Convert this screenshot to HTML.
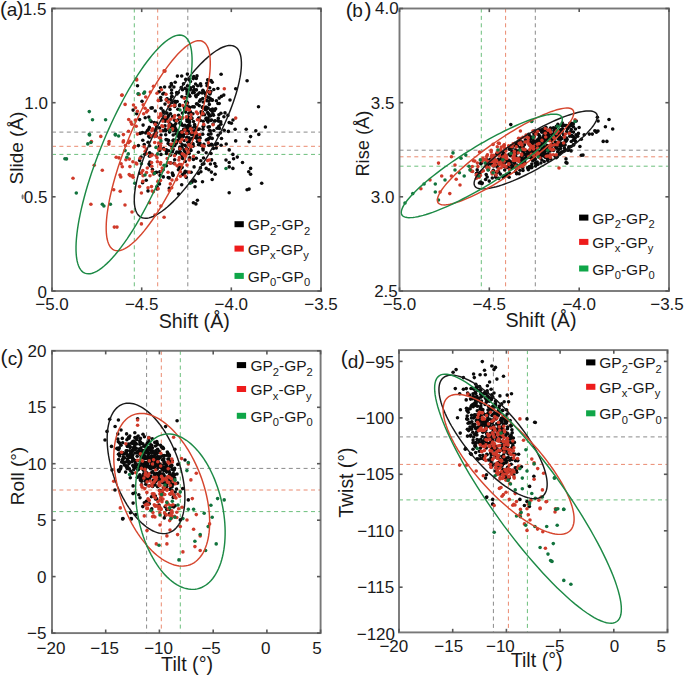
<!DOCTYPE html><html><head><meta charset="utf-8"><style>html,body{margin:0;padding:0;background:#fff;overflow:hidden}svg{display:block;font-family:"Liberation Sans",sans-serif}</style></head><body><svg width="685" height="676" viewBox="0 0 685 676" font-family="Liberation Sans, sans-serif">
<rect width="685" height="676" fill="#fff"/>
<clipPath id="cpa"><rect x="52" y="8.5" width="269" height="282.5"/></clipPath>
<g clip-path="url(#cpa)">
<line x1="134.3" y1="8.5" x2="134.3" y2="291" stroke="#6cbf7c" stroke-width="1" stroke-dasharray="4 3.4"/>
<line x1="157.7" y1="8.5" x2="157.7" y2="291" stroke="#ea8a70" stroke-width="1" stroke-dasharray="4 3.4"/>
<line x1="187.8" y1="8.5" x2="187.8" y2="291" stroke="#8a8a8a" stroke-width="1" stroke-dasharray="4 3.4"/>
<line x1="52" y1="132.1" x2="321" y2="132.1" stroke="#8a8a8a" stroke-width="1" stroke-dasharray="4 3.4"/>
<line x1="52" y1="146.3" x2="321" y2="146.3" stroke="#ea8a70" stroke-width="1" stroke-dasharray="4 3.4"/>
<line x1="52" y1="154.4" x2="321" y2="154.4" stroke="#6cbf7c" stroke-width="1" stroke-dasharray="4 3.4"/>
<g fill="#0a0a0a"><circle cx="218.0" cy="135.2" r="1.78"/><circle cx="161.0" cy="154.4" r="1.78"/><circle cx="186.8" cy="104.9" r="1.78"/><circle cx="181.1" cy="137.9" r="1.78"/><circle cx="143.1" cy="125.1" r="1.78"/><circle cx="163.2" cy="169.7" r="1.78"/><circle cx="177.7" cy="140.6" r="1.78"/><circle cx="207.6" cy="112.5" r="1.78"/><circle cx="173.9" cy="144.6" r="1.78"/><circle cx="208.0" cy="122.1" r="1.78"/><circle cx="177.4" cy="76.1" r="1.78"/><circle cx="172.1" cy="125.9" r="1.78"/><circle cx="176.7" cy="92.5" r="1.78"/><circle cx="172.0" cy="146.6" r="1.78"/><circle cx="212.3" cy="99.9" r="1.78"/><circle cx="173.8" cy="140.1" r="1.78"/><circle cx="203.0" cy="148.4" r="1.78"/><circle cx="179.7" cy="104.9" r="1.78"/><circle cx="190.9" cy="133.8" r="1.78"/><circle cx="148.1" cy="142.3" r="1.78"/><circle cx="187.0" cy="89.9" r="1.78"/><circle cx="168.5" cy="129.4" r="1.78"/><circle cx="184.3" cy="173.4" r="1.78"/><circle cx="189.1" cy="144.5" r="1.78"/><circle cx="149.6" cy="137.2" r="1.78"/><circle cx="193.2" cy="146.1" r="1.78"/><circle cx="211.6" cy="120.0" r="1.78"/><circle cx="199.2" cy="105.6" r="1.78"/><circle cx="169.0" cy="122.0" r="1.78"/><circle cx="179.7" cy="138.3" r="1.78"/><circle cx="173.4" cy="130.5" r="1.78"/><circle cx="185.2" cy="161.4" r="1.78"/><circle cx="207.4" cy="120.8" r="1.78"/><circle cx="182.2" cy="134.1" r="1.78"/><circle cx="138.4" cy="145.6" r="1.78"/><circle cx="171.6" cy="96.7" r="1.78"/><circle cx="217.4" cy="143.6" r="1.78"/><circle cx="215.6" cy="108.7" r="1.78"/><circle cx="173.1" cy="175.5" r="1.78"/><circle cx="210.6" cy="98.9" r="1.78"/><circle cx="188.3" cy="117.4" r="1.78"/><circle cx="212.2" cy="100.2" r="1.78"/><circle cx="184.9" cy="129.0" r="1.78"/><circle cx="170.7" cy="99.5" r="1.78"/><circle cx="223.9" cy="116.7" r="1.78"/><circle cx="167.1" cy="98.9" r="1.78"/><circle cx="179.5" cy="168.7" r="1.78"/><circle cx="157.0" cy="188.9" r="1.78"/><circle cx="171.6" cy="90.1" r="1.78"/><circle cx="193.4" cy="86.7" r="1.78"/><circle cx="165.6" cy="130.7" r="1.78"/><circle cx="189.8" cy="107.6" r="1.78"/><circle cx="210.1" cy="137.5" r="1.78"/><circle cx="209.6" cy="130.2" r="1.78"/><circle cx="205.6" cy="109.8" r="1.78"/><circle cx="166.8" cy="139.7" r="1.78"/><circle cx="192.6" cy="144.4" r="1.78"/><circle cx="185.2" cy="171.2" r="1.78"/><circle cx="172.4" cy="151.8" r="1.78"/><circle cx="189.7" cy="89.8" r="1.78"/><circle cx="178.3" cy="92.5" r="1.78"/><circle cx="199.6" cy="101.3" r="1.78"/><circle cx="181.1" cy="124.6" r="1.78"/><circle cx="209.3" cy="138.5" r="1.78"/><circle cx="169.5" cy="132.1" r="1.78"/><circle cx="214.8" cy="163.5" r="1.78"/><circle cx="194.3" cy="137.2" r="1.78"/><circle cx="193.0" cy="143.7" r="1.78"/><circle cx="191.9" cy="128.3" r="1.78"/><circle cx="207.3" cy="97.1" r="1.78"/><circle cx="212.1" cy="111.3" r="1.78"/><circle cx="184.0" cy="149.7" r="1.78"/><circle cx="188.4" cy="131.2" r="1.78"/><circle cx="196.5" cy="103.8" r="1.78"/><circle cx="208.1" cy="108.0" r="1.78"/><circle cx="203.1" cy="126.5" r="1.78"/><circle cx="190.7" cy="87.7" r="1.78"/><circle cx="184.4" cy="107.8" r="1.78"/><circle cx="175.8" cy="123.5" r="1.78"/><circle cx="193.8" cy="76.6" r="1.78"/><circle cx="170.4" cy="162.9" r="1.78"/><circle cx="212.2" cy="82.3" r="1.78"/><circle cx="154.3" cy="122.6" r="1.78"/><circle cx="206.3" cy="140.0" r="1.78"/><circle cx="189.1" cy="137.8" r="1.78"/><circle cx="178.9" cy="152.4" r="1.78"/><circle cx="183.8" cy="129.6" r="1.78"/><circle cx="162.8" cy="130.7" r="1.78"/><circle cx="168.5" cy="140.4" r="1.78"/><circle cx="217.9" cy="88.5" r="1.78"/><circle cx="181.7" cy="184.8" r="1.78"/><circle cx="214.5" cy="110.5" r="1.78"/><circle cx="197.4" cy="104.0" r="1.78"/><circle cx="168.6" cy="115.5" r="1.78"/><circle cx="175.2" cy="82.2" r="1.78"/><circle cx="210.4" cy="164.0" r="1.78"/><circle cx="213.8" cy="130.5" r="1.78"/><circle cx="159.2" cy="91.7" r="1.78"/><circle cx="198.1" cy="129.5" r="1.78"/><circle cx="205.3" cy="109.2" r="1.78"/><circle cx="165.3" cy="129.6" r="1.78"/><circle cx="188.7" cy="109.5" r="1.78"/><circle cx="208.8" cy="169.8" r="1.78"/><circle cx="212.8" cy="113.7" r="1.78"/><circle cx="189.8" cy="157.9" r="1.78"/><circle cx="166.4" cy="149.9" r="1.78"/><circle cx="166.1" cy="139.6" r="1.78"/><circle cx="206.2" cy="152.7" r="1.78"/><circle cx="174.7" cy="126.1" r="1.78"/><circle cx="141.1" cy="157.0" r="1.78"/><circle cx="183.0" cy="136.1" r="1.78"/><circle cx="163.2" cy="119.2" r="1.78"/><circle cx="173.2" cy="135.0" r="1.78"/><circle cx="199.9" cy="135.1" r="1.78"/><circle cx="190.0" cy="125.8" r="1.78"/><circle cx="179.8" cy="133.0" r="1.78"/><circle cx="174.7" cy="159.7" r="1.78"/><circle cx="197.5" cy="135.1" r="1.78"/><circle cx="196.3" cy="78.4" r="1.78"/><circle cx="172.3" cy="173.0" r="1.78"/><circle cx="203.5" cy="114.4" r="1.78"/><circle cx="205.7" cy="107.3" r="1.78"/><circle cx="208.8" cy="101.3" r="1.78"/><circle cx="169.9" cy="87.0" r="1.78"/><circle cx="188.6" cy="108.9" r="1.78"/><circle cx="167.0" cy="113.1" r="1.78"/><circle cx="201.1" cy="111.9" r="1.78"/><circle cx="183.4" cy="134.5" r="1.78"/><circle cx="150.2" cy="165.7" r="1.78"/><circle cx="187.5" cy="85.9" r="1.78"/><circle cx="191.7" cy="118.4" r="1.78"/><circle cx="180.0" cy="148.7" r="1.78"/><circle cx="209.1" cy="97.7" r="1.78"/><circle cx="219.2" cy="98.1" r="1.78"/><circle cx="193.4" cy="159.4" r="1.78"/><circle cx="188.0" cy="125.6" r="1.78"/><circle cx="211.5" cy="144.4" r="1.78"/><circle cx="176.0" cy="133.7" r="1.78"/><circle cx="173.9" cy="163.3" r="1.78"/><circle cx="177.9" cy="109.3" r="1.78"/><circle cx="189.3" cy="95.1" r="1.78"/><circle cx="178.1" cy="136.1" r="1.78"/><circle cx="182.6" cy="158.4" r="1.78"/><circle cx="206.4" cy="118.0" r="1.78"/><circle cx="144.8" cy="154.2" r="1.78"/><circle cx="210.3" cy="130.9" r="1.78"/><circle cx="198.5" cy="118.2" r="1.78"/><circle cx="206.5" cy="109.2" r="1.78"/><circle cx="181.8" cy="133.7" r="1.78"/><circle cx="186.3" cy="130.1" r="1.78"/><circle cx="188.8" cy="149.8" r="1.78"/><circle cx="189.9" cy="96.2" r="1.78"/><circle cx="160.1" cy="175.4" r="1.78"/><circle cx="182.7" cy="156.2" r="1.78"/><circle cx="187.1" cy="94.0" r="1.78"/><circle cx="195.0" cy="126.5" r="1.78"/><circle cx="156.7" cy="126.8" r="1.78"/><circle cx="200.4" cy="99.8" r="1.78"/><circle cx="173.9" cy="128.6" r="1.78"/><circle cx="175.0" cy="128.9" r="1.78"/><circle cx="216.3" cy="148.0" r="1.78"/><circle cx="194.4" cy="136.0" r="1.78"/><circle cx="170.9" cy="124.3" r="1.78"/><circle cx="178.6" cy="135.4" r="1.78"/><circle cx="205.2" cy="93.3" r="1.78"/><circle cx="210.6" cy="120.4" r="1.78"/><circle cx="182.4" cy="113.1" r="1.78"/><circle cx="186.3" cy="177.4" r="1.78"/><circle cx="182.1" cy="167.4" r="1.78"/><circle cx="185.7" cy="112.1" r="1.78"/><circle cx="215.3" cy="120.8" r="1.78"/><circle cx="161.1" cy="108.3" r="1.78"/><circle cx="165.0" cy="104.1" r="1.78"/><circle cx="165.6" cy="112.9" r="1.78"/><circle cx="160.9" cy="100.3" r="1.78"/><circle cx="194.2" cy="92.6" r="1.78"/><circle cx="166.8" cy="99.2" r="1.78"/><circle cx="179.3" cy="167.2" r="1.78"/><circle cx="199.5" cy="92.8" r="1.78"/><circle cx="142.4" cy="132.6" r="1.78"/><circle cx="202.4" cy="107.4" r="1.78"/><circle cx="200.4" cy="167.9" r="1.78"/><circle cx="185.4" cy="97.5" r="1.78"/><circle cx="177.2" cy="130.8" r="1.78"/><circle cx="218.4" cy="121.1" r="1.78"/><circle cx="168.2" cy="177.5" r="1.78"/><circle cx="206.5" cy="119.7" r="1.78"/><circle cx="182.4" cy="144.8" r="1.78"/><circle cx="211.6" cy="159.9" r="1.78"/><circle cx="217.9" cy="103.5" r="1.78"/><circle cx="149.4" cy="127.4" r="1.78"/><circle cx="202.4" cy="164.3" r="1.78"/><circle cx="186.8" cy="126.7" r="1.78"/><circle cx="148.4" cy="129.6" r="1.78"/><circle cx="211.0" cy="133.9" r="1.78"/><circle cx="174.8" cy="106.5" r="1.78"/><circle cx="163.6" cy="118.2" r="1.78"/><circle cx="159.5" cy="146.4" r="1.78"/><circle cx="174.3" cy="125.4" r="1.78"/><circle cx="220.8" cy="121.9" r="1.78"/><circle cx="180.6" cy="122.9" r="1.78"/><circle cx="173.0" cy="140.4" r="1.78"/><circle cx="167.7" cy="117.2" r="1.78"/><circle cx="193.3" cy="78.6" r="1.78"/><circle cx="191.7" cy="134.5" r="1.78"/><circle cx="219.2" cy="103.5" r="1.78"/><circle cx="181.9" cy="147.2" r="1.78"/><circle cx="168.6" cy="150.7" r="1.78"/><circle cx="203.2" cy="121.2" r="1.78"/><circle cx="208.1" cy="127.1" r="1.78"/><circle cx="202.2" cy="93.0" r="1.78"/><circle cx="191.1" cy="172.3" r="1.78"/><circle cx="147.3" cy="130.9" r="1.78"/><circle cx="196.4" cy="89.9" r="1.78"/><circle cx="188.4" cy="125.7" r="1.78"/><circle cx="165.0" cy="125.9" r="1.78"/><circle cx="190.4" cy="81.5" r="1.78"/><circle cx="190.1" cy="139.7" r="1.78"/><circle cx="203.1" cy="149.9" r="1.78"/><circle cx="163.1" cy="110.8" r="1.78"/><circle cx="220.9" cy="113.3" r="1.78"/><circle cx="194.1" cy="166.9" r="1.78"/><circle cx="187.1" cy="119.2" r="1.78"/><circle cx="166.2" cy="151.1" r="1.78"/><circle cx="212.1" cy="144.7" r="1.78"/><circle cx="186.4" cy="101.8" r="1.78"/><circle cx="203.8" cy="125.9" r="1.78"/><circle cx="186.8" cy="137.2" r="1.78"/><circle cx="151.2" cy="121.5" r="1.78"/><circle cx="209.9" cy="93.9" r="1.78"/><circle cx="181.7" cy="76.0" r="1.78"/><circle cx="175.1" cy="103.6" r="1.78"/><circle cx="221.1" cy="145.2" r="1.78"/><circle cx="219.4" cy="128.4" r="1.78"/><circle cx="165.2" cy="117.8" r="1.78"/><circle cx="177.2" cy="101.5" r="1.78"/><circle cx="156.3" cy="132.9" r="1.78"/><circle cx="180.6" cy="168.8" r="1.78"/><circle cx="149.9" cy="162.1" r="1.78"/><circle cx="140.0" cy="133.3" r="1.78"/><circle cx="155.2" cy="111.0" r="1.78"/><circle cx="148.8" cy="117.1" r="1.78"/><circle cx="179.9" cy="148.0" r="1.78"/><circle cx="209.6" cy="115.9" r="1.78"/><circle cx="139.7" cy="160.4" r="1.78"/><circle cx="189.1" cy="141.8" r="1.78"/><circle cx="139.9" cy="173.3" r="1.78"/><circle cx="163.3" cy="176.9" r="1.78"/><circle cx="224.2" cy="130.3" r="1.78"/><circle cx="194.4" cy="130.7" r="1.78"/><circle cx="191.1" cy="182.5" r="1.78"/><circle cx="149.3" cy="134.4" r="1.78"/><circle cx="210.8" cy="91.5" r="1.78"/><circle cx="206.8" cy="83.3" r="1.78"/><circle cx="207.1" cy="85.7" r="1.78"/><circle cx="218.8" cy="126.4" r="1.78"/><circle cx="205.9" cy="118.7" r="1.78"/><circle cx="174.8" cy="130.5" r="1.78"/><circle cx="180.6" cy="123.9" r="1.78"/><circle cx="182.0" cy="134.1" r="1.78"/><circle cx="202.7" cy="98.5" r="1.78"/><circle cx="206.4" cy="107.3" r="1.78"/><circle cx="208.9" cy="145.2" r="1.78"/><circle cx="163.5" cy="112.5" r="1.78"/><circle cx="142.8" cy="140.3" r="1.78"/><circle cx="200.9" cy="171.8" r="1.78"/><circle cx="183.5" cy="83.8" r="1.78"/><circle cx="156.1" cy="136.0" r="1.78"/><circle cx="153.9" cy="135.5" r="1.78"/><circle cx="180.0" cy="147.1" r="1.78"/><circle cx="181.9" cy="96.7" r="1.78"/><circle cx="151.0" cy="108.1" r="1.78"/><circle cx="189.0" cy="107.0" r="1.78"/><circle cx="155.9" cy="129.0" r="1.78"/><circle cx="156.5" cy="172.3" r="1.78"/><circle cx="159.8" cy="171.9" r="1.78"/><circle cx="207.6" cy="91.3" r="1.78"/><circle cx="197.8" cy="94.4" r="1.78"/><circle cx="172.9" cy="174.5" r="1.78"/><circle cx="196.3" cy="128.3" r="1.78"/><circle cx="209.4" cy="126.8" r="1.78"/><circle cx="169.7" cy="144.7" r="1.78"/><circle cx="181.1" cy="131.7" r="1.78"/><circle cx="157.0" cy="186.5" r="1.78"/><circle cx="197.7" cy="85.7" r="1.78"/><circle cx="183.9" cy="129.3" r="1.78"/><circle cx="194.3" cy="89.6" r="1.78"/><circle cx="225.0" cy="112.9" r="1.78"/><circle cx="193.2" cy="90.7" r="1.78"/><circle cx="146.2" cy="180.3" r="1.78"/><circle cx="192.1" cy="181.9" r="1.78"/><circle cx="166.9" cy="100.4" r="1.78"/><circle cx="197.4" cy="141.6" r="1.78"/><circle cx="176.8" cy="152.1" r="1.78"/><circle cx="198.5" cy="173.4" r="1.78"/><circle cx="178.0" cy="119.8" r="1.78"/><circle cx="140.2" cy="133.4" r="1.78"/><circle cx="187.8" cy="121.3" r="1.78"/><circle cx="185.0" cy="109.0" r="1.78"/><circle cx="200.9" cy="85.7" r="1.78"/><circle cx="188.1" cy="93.0" r="1.78"/><circle cx="186.7" cy="148.0" r="1.78"/><circle cx="185.1" cy="88.4" r="1.78"/><circle cx="218.9" cy="114.8" r="1.78"/><circle cx="194.4" cy="126.5" r="1.78"/><circle cx="192.6" cy="106.7" r="1.78"/><circle cx="152.3" cy="107.9" r="1.78"/><circle cx="149.0" cy="164.1" r="1.78"/><circle cx="227.9" cy="115.4" r="1.78"/><circle cx="189.0" cy="127.6" r="1.78"/><circle cx="171.5" cy="85.0" r="1.78"/><circle cx="212.2" cy="138.4" r="1.78"/><circle cx="197.0" cy="75.9" r="1.78"/><circle cx="183.3" cy="136.4" r="1.78"/><circle cx="165.7" cy="134.7" r="1.78"/><circle cx="149.5" cy="145.8" r="1.78"/><circle cx="166.5" cy="153.4" r="1.78"/><circle cx="205.3" cy="93.5" r="1.78"/><circle cx="144.2" cy="144.6" r="1.78"/><circle cx="171.6" cy="93.3" r="1.78"/><circle cx="173.1" cy="149.4" r="1.78"/><circle cx="139.6" cy="119.6" r="1.78"/><circle cx="161.2" cy="115.1" r="1.78"/><circle cx="209.2" cy="114.6" r="1.78"/><circle cx="185.1" cy="145.4" r="1.78"/><circle cx="221.4" cy="96.4" r="1.78"/><circle cx="217.1" cy="128.3" r="1.78"/><circle cx="180.2" cy="133.2" r="1.78"/><circle cx="186.7" cy="153.8" r="1.78"/><circle cx="174.1" cy="129.6" r="1.78"/><circle cx="194.6" cy="124.5" r="1.78"/><circle cx="181.2" cy="87.6" r="1.78"/><circle cx="208.5" cy="134.5" r="1.78"/><circle cx="190.5" cy="146.1" r="1.78"/><circle cx="207.9" cy="139.2" r="1.78"/><circle cx="159.5" cy="183.9" r="1.78"/><circle cx="207.9" cy="139.4" r="1.78"/><circle cx="169.2" cy="177.9" r="1.78"/><circle cx="187.5" cy="132.7" r="1.78"/><circle cx="162.8" cy="94.0" r="1.78"/><circle cx="160.7" cy="97.5" r="1.78"/><circle cx="209.7" cy="87.7" r="1.78"/><circle cx="211.0" cy="153.5" r="1.78"/><circle cx="180.8" cy="152.6" r="1.78"/><circle cx="189.5" cy="122.4" r="1.78"/><circle cx="159.7" cy="150.5" r="1.78"/><circle cx="181.3" cy="136.3" r="1.78"/><circle cx="182.8" cy="125.5" r="1.78"/><circle cx="142.6" cy="182.8" r="1.78"/><circle cx="193.1" cy="131.5" r="1.78"/><circle cx="190.4" cy="144.8" r="1.78"/><circle cx="203.9" cy="144.4" r="1.78"/><circle cx="220.3" cy="133.0" r="1.78"/><circle cx="187.9" cy="142.3" r="1.78"/><circle cx="149.5" cy="156.2" r="1.78"/><circle cx="220.9" cy="124.3" r="1.78"/><circle cx="184.8" cy="151.6" r="1.78"/><circle cx="202.9" cy="106.7" r="1.78"/><circle cx="200.4" cy="120.5" r="1.78"/><circle cx="165.2" cy="121.3" r="1.78"/><circle cx="149.6" cy="152.7" r="1.78"/><circle cx="145.7" cy="132.9" r="1.78"/><circle cx="169.6" cy="124.2" r="1.78"/><circle cx="178.6" cy="115.3" r="1.78"/><circle cx="203.0" cy="129.3" r="1.78"/><circle cx="202.9" cy="90.2" r="1.78"/><circle cx="187.1" cy="91.8" r="1.78"/><circle cx="196.3" cy="158.2" r="1.78"/><circle cx="161.0" cy="135.0" r="1.78"/><circle cx="186.9" cy="121.1" r="1.78"/><circle cx="181.1" cy="118.5" r="1.78"/><circle cx="182.6" cy="174.5" r="1.78"/><circle cx="200.8" cy="160.8" r="1.78"/><circle cx="155.0" cy="130.8" r="1.78"/><circle cx="218.3" cy="118.4" r="1.78"/><circle cx="205.9" cy="96.1" r="1.78"/><circle cx="213.4" cy="148.4" r="1.78"/><circle cx="187.3" cy="172.0" r="1.78"/><circle cx="213.1" cy="124.0" r="1.78"/><circle cx="179.8" cy="136.0" r="1.78"/><circle cx="178.4" cy="169.7" r="1.78"/><circle cx="208.0" cy="118.4" r="1.78"/><circle cx="189.3" cy="79.8" r="1.78"/><circle cx="199.2" cy="118.1" r="1.78"/><circle cx="170.6" cy="155.1" r="1.78"/><circle cx="156.7" cy="123.0" r="1.78"/><circle cx="180.6" cy="122.5" r="1.78"/><circle cx="187.0" cy="138.5" r="1.78"/><circle cx="223.8" cy="95.1" r="1.78"/><circle cx="192.6" cy="138.3" r="1.78"/><circle cx="196.2" cy="96.7" r="1.78"/><circle cx="209.3" cy="104.4" r="1.78"/><circle cx="171.8" cy="102.4" r="1.78"/><circle cx="209.9" cy="93.2" r="1.78"/><circle cx="189.3" cy="121.8" r="1.78"/><circle cx="148.0" cy="190.9" r="1.78"/><circle cx="170.5" cy="113.7" r="1.78"/><circle cx="208.4" cy="113.9" r="1.78"/><circle cx="179.2" cy="136.8" r="1.78"/><circle cx="186.3" cy="133.4" r="1.78"/><circle cx="159.0" cy="100.2" r="1.78"/><circle cx="179.9" cy="149.6" r="1.78"/><circle cx="176.5" cy="143.1" r="1.78"/><circle cx="166.4" cy="165.7" r="1.78"/><circle cx="163.6" cy="148.5" r="1.78"/><circle cx="195.0" cy="186.7" r="1.78"/><circle cx="177.0" cy="93.9" r="1.78"/><circle cx="207.7" cy="79.8" r="1.78"/><circle cx="192.0" cy="144.1" r="1.78"/><circle cx="193.5" cy="121.5" r="1.78"/><circle cx="188.5" cy="117.1" r="1.78"/><circle cx="184.3" cy="140.5" r="1.78"/><circle cx="174.6" cy="120.2" r="1.78"/><circle cx="182.8" cy="131.6" r="1.78"/><circle cx="214.6" cy="121.0" r="1.78"/><circle cx="192.9" cy="113.8" r="1.78"/><circle cx="188.1" cy="126.7" r="1.78"/><circle cx="164.6" cy="87.0" r="1.78"/><circle cx="210.6" cy="115.7" r="1.78"/><circle cx="196.6" cy="138.2" r="1.78"/><circle cx="203.5" cy="158.0" r="1.78"/><circle cx="213.8" cy="89.5" r="1.78"/><circle cx="187.5" cy="102.7" r="1.78"/><circle cx="215.6" cy="144.4" r="1.78"/><circle cx="190.3" cy="89.6" r="1.78"/><circle cx="190.2" cy="149.1" r="1.78"/><circle cx="178.5" cy="194.0" r="1.78"/><circle cx="181.6" cy="124.0" r="1.78"/><circle cx="184.9" cy="125.2" r="1.78"/><circle cx="190.5" cy="111.9" r="1.78"/><circle cx="198.4" cy="152.2" r="1.78"/><circle cx="182.5" cy="89.7" r="1.78"/><circle cx="201.6" cy="113.4" r="1.78"/><circle cx="194.2" cy="106.9" r="1.78"/><circle cx="181.3" cy="154.2" r="1.78"/><circle cx="200.5" cy="83.7" r="1.78"/><circle cx="206.8" cy="100.6" r="1.78"/><circle cx="208.5" cy="80.3" r="1.78"/><circle cx="180.7" cy="142.7" r="1.78"/><circle cx="195.6" cy="84.0" r="1.78"/><circle cx="199.3" cy="129.0" r="1.78"/><circle cx="174.8" cy="145.6" r="1.78"/><circle cx="194.8" cy="133.9" r="1.78"/><circle cx="166.5" cy="119.2" r="1.78"/><circle cx="202.5" cy="112.3" r="1.78"/><circle cx="175.5" cy="154.1" r="1.78"/><circle cx="211.2" cy="144.8" r="1.78"/><circle cx="193.9" cy="180.1" r="1.78"/><circle cx="148.8" cy="136.2" r="1.78"/><circle cx="189.2" cy="153.6" r="1.78"/><circle cx="212.5" cy="109.0" r="1.78"/><circle cx="175.7" cy="128.7" r="1.78"/><circle cx="189.0" cy="113.3" r="1.78"/><circle cx="179.8" cy="123.1" r="1.78"/><circle cx="145.2" cy="117.8" r="1.78"/><circle cx="163.9" cy="93.4" r="1.78"/><circle cx="210.4" cy="109.7" r="1.78"/><circle cx="189.5" cy="119.6" r="1.78"/><circle cx="221.5" cy="138.5" r="1.78"/><circle cx="172.6" cy="116.5" r="1.78"/><circle cx="202.7" cy="134.2" r="1.78"/><circle cx="211.0" cy="80.5" r="1.78"/><circle cx="160.6" cy="87.7" r="1.78"/><circle cx="179.6" cy="105.7" r="1.78"/><circle cx="151.9" cy="154.3" r="1.78"/><circle cx="152.4" cy="169.5" r="1.78"/><circle cx="169.3" cy="188.4" r="1.78"/><circle cx="199.9" cy="143.0" r="1.78"/><circle cx="203.9" cy="163.7" r="1.78"/><circle cx="155.5" cy="172.5" r="1.78"/><circle cx="213.5" cy="115.3" r="1.78"/><circle cx="187.8" cy="133.4" r="1.78"/><circle cx="185.5" cy="102.0" r="1.78"/><circle cx="204.5" cy="114.8" r="1.78"/><circle cx="195.7" cy="95.6" r="1.78"/><circle cx="187.4" cy="74.1" r="1.78"/><circle cx="174.8" cy="101.2" r="1.78"/><circle cx="192.5" cy="92.8" r="1.78"/><circle cx="202.4" cy="114.6" r="1.78"/><circle cx="195.3" cy="136.3" r="1.78"/><circle cx="170.8" cy="126.5" r="1.78"/><circle cx="168.1" cy="143.5" r="1.78"/><circle cx="199.7" cy="138.3" r="1.78"/><circle cx="172.1" cy="96.5" r="1.78"/><circle cx="159.6" cy="127.9" r="1.78"/><circle cx="185.7" cy="79.4" r="1.78"/><circle cx="174.3" cy="145.2" r="1.78"/><circle cx="203.2" cy="102.0" r="1.78"/><circle cx="200.7" cy="145.3" r="1.78"/><circle cx="170.0" cy="109.4" r="1.78"/><circle cx="191.0" cy="150.4" r="1.78"/><circle cx="187.3" cy="128.2" r="1.78"/><circle cx="198.5" cy="144.8" r="1.78"/><circle cx="180.4" cy="135.9" r="1.78"/><circle cx="191.8" cy="118.0" r="1.78"/><circle cx="195.3" cy="181.2" r="1.78"/><circle cx="200.0" cy="137.9" r="1.78"/><circle cx="216.4" cy="100.8" r="1.78"/><circle cx="203.3" cy="91.2" r="1.78"/><circle cx="184.9" cy="110.6" r="1.78"/><circle cx="229.2" cy="122.6" r="1.78"/><circle cx="231.4" cy="123.3" r="1.78"/><circle cx="235.1" cy="129.2" r="1.78"/><circle cx="228.4" cy="131.4" r="1.78"/><circle cx="226.2" cy="144.0" r="1.78"/><circle cx="229.2" cy="149.9" r="1.78"/><circle cx="232.9" cy="154.4" r="1.78"/><circle cx="233.6" cy="158.8" r="1.78"/><circle cx="229.2" cy="162.5" r="1.78"/><circle cx="232.9" cy="168.4" r="1.78"/><circle cx="242.5" cy="162.5" r="1.78"/><circle cx="250.6" cy="168.4" r="1.78"/><circle cx="250.6" cy="174.3" r="1.78"/><circle cx="246.2" cy="129.2" r="1.78"/><circle cx="255.8" cy="130.7" r="1.78"/><circle cx="258.8" cy="134.4" r="1.78"/><circle cx="250.6" cy="136.6" r="1.78"/><circle cx="249.1" cy="141.8" r="1.78"/><circle cx="265.4" cy="127.0" r="1.78"/><circle cx="261.7" cy="183.2" r="1.78"/><circle cx="249.1" cy="189.1" r="1.78"/><circle cx="229.2" cy="192.8" r="1.78"/><circle cx="211.4" cy="172.1" r="1.78"/><circle cx="215.1" cy="174.3" r="1.78"/><circle cx="206.2" cy="168.4" r="1.78"/><circle cx="202.5" cy="181.7" r="1.78"/><circle cx="197.4" cy="200.2" r="1.78"/><circle cx="195.9" cy="203.9" r="1.78"/><circle cx="215.9" cy="166.2" r="1.78"/><circle cx="212.2" cy="179.5" r="1.78"/><circle cx="247.1" cy="80.7" r="1.78"/><circle cx="235.7" cy="88.8" r="1.78"/><circle cx="221.1" cy="74.2" r="1.78"/><circle cx="258.5" cy="106.7" r="1.78"/><circle cx="235.7" cy="140.9" r="1.78"/><circle cx="237.3" cy="157.1" r="1.78"/><circle cx="229.2" cy="166.9" r="1.78"/><circle cx="248.7" cy="171.8" r="1.78"/><circle cx="247.1" cy="189.7" r="1.78"/><circle cx="193.4" cy="202.7" r="1.78"/><circle cx="137.5" cy="85.8" r="1.78"/><circle cx="138.4" cy="94.1" r="1.78"/><circle cx="142.0" cy="101.2" r="1.78"/><circle cx="171.3" cy="83.5" r="1.78"/><circle cx="173.9" cy="87.0" r="1.78"/><circle cx="133.1" cy="110.1" r="1.78"/><circle cx="136.7" cy="113.7" r="1.78"/><circle cx="230.0" cy="100.0" r="1.78"/><circle cx="233.0" cy="120.0" r="1.78"/><circle cx="226.0" cy="160.0" r="1.78"/></g>
<g fill="#d03a2a"><circle cx="179.8" cy="117.2" r="1.78"/><circle cx="164.1" cy="149.5" r="1.78"/><circle cx="152.7" cy="128.7" r="1.78"/><circle cx="180.4" cy="176.3" r="1.78"/><circle cx="199.4" cy="140.2" r="1.78"/><circle cx="189.5" cy="110.0" r="1.78"/><circle cx="158.2" cy="100.6" r="1.78"/><circle cx="208.4" cy="142.7" r="1.78"/><circle cx="191.3" cy="129.2" r="1.78"/><circle cx="169.7" cy="154.5" r="1.78"/><circle cx="174.8" cy="163.9" r="1.78"/><circle cx="186.6" cy="103.6" r="1.78"/><circle cx="145.2" cy="151.2" r="1.78"/><circle cx="134.6" cy="146.4" r="1.78"/><circle cx="136.0" cy="163.1" r="1.78"/><circle cx="188.8" cy="144.8" r="1.78"/><circle cx="133.1" cy="177.2" r="1.78"/><circle cx="199.6" cy="134.5" r="1.78"/><circle cx="153.4" cy="191.8" r="1.78"/><circle cx="168.8" cy="126.0" r="1.78"/><circle cx="162.8" cy="126.6" r="1.78"/><circle cx="151.9" cy="130.4" r="1.78"/><circle cx="154.7" cy="136.6" r="1.78"/><circle cx="171.9" cy="148.5" r="1.78"/><circle cx="145.7" cy="97.0" r="1.78"/><circle cx="157.8" cy="181.5" r="1.78"/><circle cx="158.8" cy="117.4" r="1.78"/><circle cx="160.4" cy="164.1" r="1.78"/><circle cx="152.3" cy="171.4" r="1.78"/><circle cx="186.6" cy="133.2" r="1.78"/><circle cx="137.4" cy="134.1" r="1.78"/><circle cx="174.6" cy="105.3" r="1.78"/><circle cx="122.3" cy="166.7" r="1.78"/><circle cx="207.6" cy="160.6" r="1.78"/><circle cx="133.8" cy="147.6" r="1.78"/><circle cx="152.2" cy="191.0" r="1.78"/><circle cx="155.2" cy="124.4" r="1.78"/><circle cx="162.8" cy="121.1" r="1.78"/><circle cx="204.0" cy="146.2" r="1.78"/><circle cx="160.5" cy="180.4" r="1.78"/><circle cx="171.1" cy="144.3" r="1.78"/><circle cx="160.5" cy="138.4" r="1.78"/><circle cx="197.6" cy="113.6" r="1.78"/><circle cx="158.7" cy="143.0" r="1.78"/><circle cx="168.0" cy="121.4" r="1.78"/><circle cx="213.1" cy="124.8" r="1.78"/><circle cx="170.6" cy="105.7" r="1.78"/><circle cx="184.0" cy="154.9" r="1.78"/><circle cx="157.4" cy="161.8" r="1.78"/><circle cx="203.7" cy="124.4" r="1.78"/><circle cx="125.4" cy="145.6" r="1.78"/><circle cx="196.0" cy="132.5" r="1.78"/><circle cx="143.1" cy="175.7" r="1.78"/><circle cx="144.2" cy="146.8" r="1.78"/><circle cx="160.9" cy="115.5" r="1.78"/><circle cx="186.4" cy="139.8" r="1.78"/><circle cx="162.2" cy="168.0" r="1.78"/><circle cx="182.7" cy="117.9" r="1.78"/><circle cx="196.4" cy="112.0" r="1.78"/><circle cx="168.6" cy="128.7" r="1.78"/><circle cx="185.2" cy="176.1" r="1.78"/><circle cx="161.9" cy="125.8" r="1.78"/><circle cx="151.5" cy="186.6" r="1.78"/><circle cx="170.8" cy="163.1" r="1.78"/><circle cx="174.8" cy="115.6" r="1.78"/><circle cx="142.8" cy="181.4" r="1.78"/><circle cx="175.7" cy="141.5" r="1.78"/><circle cx="182.4" cy="117.8" r="1.78"/><circle cx="123.2" cy="141.9" r="1.78"/><circle cx="169.3" cy="190.4" r="1.78"/><circle cx="146.5" cy="172.6" r="1.78"/><circle cx="157.0" cy="157.8" r="1.78"/><circle cx="150.0" cy="175.7" r="1.78"/><circle cx="119.0" cy="157.9" r="1.78"/><circle cx="186.3" cy="149.1" r="1.78"/><circle cx="174.0" cy="105.8" r="1.78"/><circle cx="168.9" cy="106.3" r="1.78"/><circle cx="137.4" cy="111.2" r="1.78"/><circle cx="191.7" cy="146.6" r="1.78"/><circle cx="184.2" cy="98.3" r="1.78"/><circle cx="151.6" cy="162.5" r="1.78"/><circle cx="169.3" cy="124.7" r="1.78"/><circle cx="184.7" cy="156.0" r="1.78"/><circle cx="182.3" cy="153.7" r="1.78"/><circle cx="130.4" cy="175.7" r="1.78"/><circle cx="167.2" cy="158.5" r="1.78"/><circle cx="158.5" cy="149.1" r="1.78"/><circle cx="209.3" cy="160.0" r="1.78"/><circle cx="181.2" cy="164.6" r="1.78"/><circle cx="135.4" cy="120.1" r="1.78"/><circle cx="176.6" cy="120.8" r="1.78"/><circle cx="152.1" cy="155.1" r="1.78"/><circle cx="135.5" cy="107.7" r="1.78"/><circle cx="148.5" cy="133.4" r="1.78"/><circle cx="180.5" cy="171.8" r="1.78"/><circle cx="184.8" cy="130.0" r="1.78"/><circle cx="178.8" cy="160.0" r="1.78"/><circle cx="172.0" cy="180.0" r="1.78"/><circle cx="172.2" cy="129.8" r="1.78"/><circle cx="189.1" cy="172.1" r="1.78"/><circle cx="182.9" cy="105.5" r="1.78"/><circle cx="125.9" cy="159.7" r="1.78"/><circle cx="177.1" cy="165.8" r="1.78"/><circle cx="160.6" cy="148.6" r="1.78"/><circle cx="161.6" cy="171.2" r="1.78"/><circle cx="143.7" cy="113.7" r="1.78"/><circle cx="129.2" cy="174.6" r="1.78"/><circle cx="189.1" cy="144.8" r="1.78"/><circle cx="193.5" cy="156.4" r="1.78"/><circle cx="203.0" cy="113.8" r="1.78"/><circle cx="185.9" cy="109.1" r="1.78"/><circle cx="143.2" cy="104.7" r="1.78"/><circle cx="120.8" cy="177.0" r="1.78"/><circle cx="173.2" cy="144.1" r="1.78"/><circle cx="182.1" cy="132.3" r="1.78"/><circle cx="151.8" cy="166.2" r="1.78"/><circle cx="132.6" cy="175.6" r="1.78"/><circle cx="188.3" cy="109.5" r="1.78"/><circle cx="191.0" cy="114.8" r="1.78"/><circle cx="155.4" cy="136.0" r="1.78"/><circle cx="168.0" cy="172.2" r="1.78"/><circle cx="174.5" cy="155.8" r="1.78"/><circle cx="146.6" cy="112.0" r="1.78"/><circle cx="179.4" cy="157.5" r="1.78"/><circle cx="195.3" cy="133.2" r="1.78"/><circle cx="186.8" cy="108.4" r="1.78"/><circle cx="190.7" cy="118.0" r="1.78"/><circle cx="189.3" cy="160.0" r="1.78"/><circle cx="146.5" cy="153.8" r="1.78"/><circle cx="129.9" cy="166.6" r="1.78"/><circle cx="146.4" cy="149.1" r="1.78"/><circle cx="130.9" cy="122.1" r="1.78"/><circle cx="123.4" cy="134.6" r="1.78"/><circle cx="167.7" cy="162.6" r="1.78"/><circle cx="168.5" cy="102.3" r="1.78"/><circle cx="141.5" cy="172.7" r="1.78"/><circle cx="147.7" cy="110.5" r="1.78"/><circle cx="165.2" cy="117.0" r="1.78"/><circle cx="131.9" cy="124.3" r="1.78"/><circle cx="180.1" cy="148.8" r="1.78"/><circle cx="128.5" cy="142.7" r="1.78"/><circle cx="170.3" cy="183.9" r="1.78"/><circle cx="129.9" cy="141.2" r="1.78"/><circle cx="150.3" cy="92.1" r="1.78"/><circle cx="171.7" cy="187.8" r="1.78"/><circle cx="121.1" cy="163.8" r="1.78"/><circle cx="148.0" cy="187.7" r="1.78"/><circle cx="154.7" cy="142.5" r="1.78"/><circle cx="174.0" cy="117.8" r="1.78"/><circle cx="154.1" cy="134.3" r="1.78"/><circle cx="129.3" cy="159.1" r="1.78"/><circle cx="123.5" cy="140.9" r="1.78"/><circle cx="170.7" cy="119.3" r="1.78"/><circle cx="160.8" cy="143.2" r="1.78"/><circle cx="190.5" cy="128.9" r="1.78"/><circle cx="186.4" cy="116.9" r="1.78"/><circle cx="155.9" cy="133.1" r="1.78"/><circle cx="166.0" cy="94.2" r="1.78"/><circle cx="145.1" cy="108.2" r="1.78"/><circle cx="132.9" cy="161.8" r="1.78"/><circle cx="139.6" cy="186.6" r="1.78"/><circle cx="156.0" cy="155.5" r="1.78"/><circle cx="176.6" cy="179.6" r="1.78"/><circle cx="172.6" cy="128.7" r="1.78"/><circle cx="133.5" cy="105.0" r="1.78"/><circle cx="191.9" cy="132.5" r="1.78"/><circle cx="151.3" cy="135.7" r="1.78"/><circle cx="166.1" cy="99.8" r="1.78"/><circle cx="197.4" cy="119.8" r="1.78"/><circle cx="136.2" cy="126.3" r="1.78"/><circle cx="158.2" cy="188.8" r="1.78"/><circle cx="179.5" cy="164.3" r="1.78"/><circle cx="182.1" cy="139.3" r="1.78"/><circle cx="180.2" cy="141.7" r="1.78"/><circle cx="128.5" cy="131.3" r="1.78"/><circle cx="139.2" cy="94.5" r="1.78"/><circle cx="142.8" cy="170.5" r="1.78"/><circle cx="202.2" cy="145.6" r="1.78"/><circle cx="147.3" cy="168.0" r="1.78"/><circle cx="160.7" cy="131.0" r="1.78"/><circle cx="136.8" cy="163.9" r="1.78"/><circle cx="188.1" cy="152.3" r="1.78"/><circle cx="140.0" cy="158.2" r="1.78"/><circle cx="187.0" cy="165.1" r="1.78"/><circle cx="160.7" cy="162.5" r="1.78"/><circle cx="159.4" cy="137.7" r="1.78"/><circle cx="160.6" cy="113.9" r="1.78"/><circle cx="150.5" cy="156.1" r="1.78"/><circle cx="153.4" cy="174.1" r="1.78"/><circle cx="160.6" cy="146.1" r="1.78"/><circle cx="73.0" cy="178.3" r="1.78"/><circle cx="90.9" cy="204.3" r="1.78"/><circle cx="94.2" cy="165.3" r="1.78"/><circle cx="113.7" cy="189.7" r="1.78"/><circle cx="120.2" cy="191.3" r="1.78"/><circle cx="117.0" cy="227.1" r="1.78"/><circle cx="114.3" cy="227.1" r="1.78"/><circle cx="136.5" cy="79.0" r="1.78"/><circle cx="121.8" cy="95.3" r="1.78"/><circle cx="164.1" cy="70.9" r="1.78"/><circle cx="141.4" cy="193.0" r="1.78"/><circle cx="149.5" cy="202.7" r="1.78"/><circle cx="160.9" cy="206.0" r="1.78"/><circle cx="164.1" cy="217.3" r="1.78"/><circle cx="141.4" cy="223.9" r="1.78"/><circle cx="102.3" cy="170.2" r="1.78"/><circle cx="108.8" cy="144.1" r="1.78"/><circle cx="235.7" cy="118.1" r="1.78"/><circle cx="224.3" cy="88.8" r="1.78"/><circle cx="209.7" cy="92.1" r="1.78"/><circle cx="136.7" cy="80.0" r="1.78"/><circle cx="122.1" cy="95.0" r="1.78"/><circle cx="125.1" cy="104.4" r="1.78"/><circle cx="153.5" cy="86.2" r="1.78"/><circle cx="161.5" cy="89.7" r="1.78"/><circle cx="165.0" cy="71.1" r="1.78"/><circle cx="157.0" cy="93.3" r="1.78"/><circle cx="100.8" cy="136.4" r="1.78"/><circle cx="91.4" cy="141.5" r="1.78"/><circle cx="109.1" cy="141.5" r="1.78"/><circle cx="128.7" cy="119.5" r="1.78"/><circle cx="116.2" cy="157.2" r="1.78"/><circle cx="125.0" cy="205.0" r="1.78"/><circle cx="132.0" cy="212.0" r="1.78"/><circle cx="155.0" cy="215.0" r="1.78"/><circle cx="120.0" cy="175.0" r="1.78"/></g>
<g fill="#11733d"><circle cx="89.3" cy="111.6" r="1.78"/><circle cx="92.5" cy="119.7" r="1.78"/><circle cx="105.6" cy="119.7" r="1.78"/><circle cx="64.9" cy="158.8" r="1.78"/><circle cx="76.3" cy="193.0" r="1.78"/><circle cx="90.9" cy="142.5" r="1.78"/><circle cx="89.3" cy="134.4" r="1.78"/><circle cx="102.3" cy="204.3" r="1.78"/><circle cx="103.9" cy="206.0" r="1.78"/><circle cx="110.4" cy="204.3" r="1.78"/><circle cx="115.3" cy="134.4" r="1.78"/><circle cx="118.6" cy="136.0" r="1.78"/><circle cx="138.1" cy="93.7" r="1.78"/><circle cx="144.6" cy="92.1" r="1.78"/><circle cx="160.9" cy="140.9" r="1.78"/><circle cx="164.1" cy="165.3" r="1.78"/><circle cx="190.2" cy="183.2" r="1.78"/><circle cx="226.0" cy="168.5" r="1.78"/><circle cx="128.3" cy="153.9" r="1.78"/><circle cx="125.1" cy="150.6" r="1.78"/><circle cx="141.4" cy="163.7" r="1.78"/><circle cx="156.0" cy="147.4" r="1.78"/><circle cx="157.6" cy="153.9" r="1.78"/><circle cx="154.4" cy="173.4" r="1.78"/><circle cx="134.8" cy="183.2" r="1.78"/><circle cx="143.8" cy="93.3" r="1.78"/><circle cx="89.6" cy="135.0" r="1.78"/><circle cx="87.8" cy="143.9" r="1.78"/><circle cx="115.4" cy="135.0" r="1.78"/><circle cx="66.5" cy="158.9" r="1.78"/><circle cx="126.9" cy="157.2" r="1.78"/><circle cx="180.0" cy="110.0" r="1.78"/><circle cx="170.0" cy="130.0" r="1.78"/><circle cx="150.0" cy="120.0" r="1.78"/><circle cx="145.0" cy="175.0" r="1.78"/></g>
<path d="M234.92,46.65 L233.52,46.03 L231.99,45.64 L230.34,45.49 L228.57,45.58 L226.70,45.90 L224.71,46.46 L222.63,47.25 L220.45,48.27 L218.18,49.53 L215.82,51.01 L213.39,52.71 L210.90,54.62 L208.33,56.75 L205.71,59.09 L203.05,61.62 L200.34,64.35 L197.59,67.26 L194.82,70.35 L192.03,73.61 L189.23,77.03 L186.43,80.59 L183.63,84.30 L180.84,88.14 L178.07,92.10 L175.33,96.17 L172.62,100.33 L169.95,104.59 L167.33,108.91 L164.77,113.30 L162.27,117.74 L159.84,122.22 L157.49,126.73 L155.22,131.25 L153.04,135.77 L150.96,140.28 L148.98,144.77 L147.10,149.22 L145.34,153.62 L143.69,157.97 L142.16,162.24 L140.76,166.43 L139.49,170.53 L138.35,174.52 L137.35,178.39 L136.48,182.14 L135.76,185.75 L135.17,189.20 L134.74,192.51 L134.44,195.64 L134.30,198.61 L134.30,201.38 L134.45,203.97 L134.74,206.36 L135.18,208.55 L135.76,210.53 L136.49,212.29 L137.36,213.83 L138.37,215.14 L139.51,216.23 L140.78,217.09 L142.18,217.71 L143.71,218.10 L145.36,218.25 L147.13,218.16 L149.00,217.84 L150.99,217.28 L153.07,216.49 L155.25,215.47 L157.52,214.21 L159.88,212.73 L162.31,211.03 L164.80,209.12 L167.37,206.99 L169.99,204.65 L172.65,202.12 L175.36,199.39 L178.11,196.48 L180.88,193.39 L183.67,190.13 L186.47,186.71 L189.27,183.15 L192.07,179.44 L194.86,175.60 L197.63,171.64 L200.37,167.57 L203.08,163.41 L205.75,159.15 L208.37,154.83 L210.93,150.44 L213.43,146.00 L215.86,141.52 L218.21,137.01 L220.48,132.49 L222.66,127.97 L224.74,123.46 L226.72,118.97 L228.60,114.52 L230.36,110.12 L232.01,105.77 L233.54,101.50 L234.94,97.31 L236.21,93.21 L237.35,89.22 L238.35,85.35 L239.22,81.60 L239.94,77.99 L240.53,74.54 L240.96,71.23 L241.26,68.10 L241.40,65.13 L241.40,62.36 L241.25,59.77 L240.96,57.38 L240.52,55.19 L239.94,53.21 L239.21,51.45 L238.34,49.91 L237.33,48.60 L236.19,47.51Z" fill="none" stroke="#1a1a1a" stroke-width="1.45"/>
<path d="M202.31,41.27 L200.80,40.80 L199.18,40.62 L197.44,40.73 L195.59,41.12 L193.64,41.80 L191.60,42.77 L189.46,44.02 L187.24,45.55 L184.94,47.35 L182.56,49.42 L180.12,51.75 L177.62,54.34 L175.06,57.19 L172.46,60.27 L169.82,63.59 L167.15,67.14 L164.45,70.90 L161.74,74.86 L159.02,79.02 L156.29,83.36 L153.57,87.87 L150.86,92.55 L148.18,97.36 L145.52,102.31 L142.89,107.38 L140.31,112.55 L137.78,117.82 L135.30,123.16 L132.88,128.56 L130.54,134.01 L128.27,139.49 L126.08,144.99 L123.98,150.49 L121.98,155.98 L120.07,161.44 L118.27,166.85 L116.58,172.21 L115.00,177.50 L113.54,182.69 L112.21,187.79 L111.00,192.77 L109.91,197.62 L108.97,202.33 L108.15,206.89 L107.48,211.28 L106.94,215.48 L106.54,219.50 L106.29,223.31 L106.18,226.91 L106.21,230.29 L106.38,233.44 L106.69,236.34 L107.15,239.00 L107.75,241.40 L108.48,243.54 L109.35,245.42 L110.36,247.01 L111.49,248.33 L112.76,249.37 L114.15,250.13 L115.66,250.60 L117.28,250.78 L119.02,250.67 L120.87,250.28 L122.82,249.60 L124.86,248.63 L127.00,247.38 L129.22,245.85 L131.52,244.05 L133.90,241.98 L136.34,239.65 L138.84,237.06 L141.40,234.21 L144.00,231.13 L146.64,227.81 L149.31,224.26 L152.01,220.50 L154.72,216.54 L157.44,212.38 L160.17,208.04 L162.89,203.53 L165.60,198.85 L168.28,194.04 L170.94,189.09 L173.57,184.02 L176.15,178.85 L178.68,173.58 L181.16,168.24 L183.58,162.84 L185.92,157.39 L188.19,151.91 L190.38,146.41 L192.48,140.91 L194.48,135.42 L196.39,129.96 L198.19,124.55 L199.88,119.19 L201.46,113.90 L202.92,108.71 L204.25,103.61 L205.46,98.63 L206.55,93.78 L207.49,89.07 L208.31,84.51 L208.98,80.12 L209.52,75.92 L209.92,71.90 L210.17,68.09 L210.28,64.49 L210.25,61.11 L210.08,57.96 L209.77,55.06 L209.31,52.40 L208.71,50.00 L207.98,47.86 L207.11,45.98 L206.10,44.39 L204.97,43.07 L203.70,42.03Z" fill="none" stroke="#d6462e" stroke-width="1.45"/>
<path d="M183.28,35.71 L181.60,35.21 L179.79,35.03 L177.86,35.18 L175.81,35.66 L173.64,36.46 L171.37,37.58 L168.99,39.03 L166.52,40.79 L163.96,42.87 L161.31,45.24 L158.59,47.92 L155.81,50.89 L152.96,54.15 L150.07,57.68 L147.12,61.47 L144.15,65.52 L141.14,69.81 L138.12,74.34 L135.08,79.08 L132.04,84.03 L129.01,89.18 L125.99,94.50 L122.99,99.99 L120.03,105.62 L117.10,111.39 L114.22,117.28 L111.39,123.27 L108.62,129.34 L105.93,135.49 L103.31,141.68 L100.77,147.91 L98.33,154.16 L95.98,160.41 L93.74,166.65 L91.61,172.85 L89.60,178.99 L87.70,185.08 L85.94,191.07 L84.30,196.97 L82.81,202.75 L81.45,208.40 L80.24,213.90 L79.17,219.24 L78.26,224.40 L77.49,229.36 L76.89,234.13 L76.44,238.67 L76.14,242.98 L76.01,247.05 L76.03,250.87 L76.22,254.42 L76.56,257.70 L77.06,260.69 L77.72,263.40 L78.53,265.80 L79.49,267.90 L80.60,269.69 L81.86,271.17 L83.26,272.32 L84.80,273.15 L86.48,273.65 L88.29,273.83 L90.22,273.68 L92.27,273.20 L94.44,272.40 L96.71,271.28 L99.09,269.83 L101.56,268.07 L104.12,265.99 L106.77,263.62 L109.49,260.94 L112.27,257.97 L115.12,254.71 L118.01,251.18 L120.96,247.39 L123.93,243.34 L126.94,239.05 L129.96,234.52 L133.00,229.78 L136.04,224.83 L139.07,219.68 L142.09,214.36 L145.09,208.87 L148.05,203.24 L150.98,197.47 L153.86,191.58 L156.69,185.59 L159.46,179.52 L162.15,173.37 L164.77,167.18 L167.31,160.95 L169.75,154.70 L172.10,148.45 L174.34,142.21 L176.47,136.01 L178.48,129.87 L180.38,123.78 L182.14,117.79 L183.78,111.89 L185.27,106.11 L186.63,100.46 L187.84,94.96 L188.91,89.62 L189.82,84.46 L190.59,79.50 L191.19,74.73 L191.64,70.19 L191.94,65.88 L192.07,61.81 L192.05,57.99 L191.86,54.44 L191.52,51.16 L191.02,48.17 L190.36,45.46 L189.55,43.06 L188.59,40.96 L187.48,39.17 L186.22,37.69 L184.82,36.54Z" fill="none" stroke="#1d8a46" stroke-width="1.45"/>
</g>
<rect x="52" y="8.5" width="269.0" height="282.5" fill="none" stroke="#787878" stroke-width="1.9"/>
<clipPath id="cpb"><rect x="399.5" y="8.5" width="269.5" height="282.5"/></clipPath>
<g clip-path="url(#cpb)">
<line x1="481.3" y1="8.5" x2="481.3" y2="291" stroke="#6cbf7c" stroke-width="1" stroke-dasharray="4 3.4"/>
<line x1="505.6" y1="8.5" x2="505.6" y2="291" stroke="#ea8a70" stroke-width="1" stroke-dasharray="4 3.4"/>
<line x1="535.3" y1="8.5" x2="535.3" y2="291" stroke="#8a8a8a" stroke-width="1" stroke-dasharray="4 3.4"/>
<line x1="399.5" y1="150.2" x2="669" y2="150.2" stroke="#8a8a8a" stroke-width="1" stroke-dasharray="4 3.4"/>
<line x1="399.5" y1="156.8" x2="669" y2="156.8" stroke="#ea8a70" stroke-width="1" stroke-dasharray="4 3.4"/>
<line x1="399.5" y1="166.2" x2="669" y2="166.2" stroke="#6cbf7c" stroke-width="1" stroke-dasharray="4 3.4"/>
<g fill="#0a0a0a"><circle cx="537.3" cy="164.1" r="1.78"/><circle cx="503.3" cy="155.3" r="1.78"/><circle cx="575.3" cy="138.1" r="1.78"/><circle cx="495.8" cy="175.5" r="1.78"/><circle cx="548.4" cy="151.3" r="1.78"/><circle cx="554.0" cy="130.9" r="1.78"/><circle cx="538.3" cy="145.4" r="1.78"/><circle cx="510.3" cy="146.6" r="1.78"/><circle cx="548.0" cy="154.5" r="1.78"/><circle cx="543.6" cy="128.9" r="1.78"/><circle cx="550.1" cy="151.0" r="1.78"/><circle cx="529.6" cy="157.1" r="1.78"/><circle cx="535.7" cy="163.5" r="1.78"/><circle cx="541.3" cy="144.8" r="1.78"/><circle cx="480.8" cy="163.8" r="1.78"/><circle cx="546.9" cy="135.4" r="1.78"/><circle cx="535.3" cy="162.8" r="1.78"/><circle cx="506.8" cy="167.4" r="1.78"/><circle cx="550.9" cy="137.6" r="1.78"/><circle cx="536.9" cy="142.5" r="1.78"/><circle cx="541.5" cy="141.2" r="1.78"/><circle cx="526.0" cy="157.8" r="1.78"/><circle cx="545.3" cy="155.4" r="1.78"/><circle cx="559.3" cy="154.3" r="1.78"/><circle cx="525.0" cy="162.9" r="1.78"/><circle cx="535.2" cy="150.1" r="1.78"/><circle cx="530.7" cy="152.8" r="1.78"/><circle cx="528.8" cy="154.8" r="1.78"/><circle cx="518.8" cy="158.6" r="1.78"/><circle cx="511.8" cy="168.3" r="1.78"/><circle cx="521.3" cy="156.6" r="1.78"/><circle cx="514.4" cy="166.7" r="1.78"/><circle cx="545.9" cy="149.6" r="1.78"/><circle cx="506.4" cy="174.6" r="1.78"/><circle cx="536.8" cy="146.2" r="1.78"/><circle cx="522.8" cy="167.7" r="1.78"/><circle cx="519.9" cy="140.8" r="1.78"/><circle cx="565.3" cy="139.6" r="1.78"/><circle cx="544.2" cy="161.6" r="1.78"/><circle cx="548.8" cy="149.1" r="1.78"/><circle cx="541.7" cy="129.9" r="1.78"/><circle cx="563.0" cy="125.8" r="1.78"/><circle cx="530.2" cy="149.8" r="1.78"/><circle cx="539.7" cy="136.1" r="1.78"/><circle cx="539.1" cy="137.9" r="1.78"/><circle cx="509.6" cy="173.2" r="1.78"/><circle cx="533.9" cy="133.8" r="1.78"/><circle cx="538.0" cy="151.8" r="1.78"/><circle cx="523.2" cy="152.5" r="1.78"/><circle cx="516.7" cy="173.8" r="1.78"/><circle cx="516.9" cy="173.4" r="1.78"/><circle cx="498.1" cy="159.8" r="1.78"/><circle cx="512.2" cy="148.0" r="1.78"/><circle cx="560.4" cy="145.9" r="1.78"/><circle cx="556.4" cy="126.2" r="1.78"/><circle cx="548.4" cy="154.8" r="1.78"/><circle cx="546.7" cy="138.6" r="1.78"/><circle cx="537.9" cy="164.3" r="1.78"/><circle cx="536.4" cy="132.2" r="1.78"/><circle cx="530.5" cy="141.8" r="1.78"/><circle cx="519.1" cy="173.8" r="1.78"/><circle cx="491.7" cy="163.8" r="1.78"/><circle cx="541.5" cy="151.7" r="1.78"/><circle cx="523.8" cy="162.0" r="1.78"/><circle cx="571.2" cy="125.4" r="1.78"/><circle cx="496.7" cy="154.0" r="1.78"/><circle cx="564.3" cy="150.9" r="1.78"/><circle cx="485.6" cy="179.5" r="1.78"/><circle cx="523.0" cy="170.4" r="1.78"/><circle cx="517.3" cy="144.9" r="1.78"/><circle cx="564.7" cy="125.4" r="1.78"/><circle cx="549.8" cy="148.5" r="1.78"/><circle cx="528.7" cy="134.4" r="1.78"/><circle cx="503.0" cy="152.6" r="1.78"/><circle cx="561.2" cy="125.4" r="1.78"/><circle cx="557.2" cy="146.7" r="1.78"/><circle cx="560.5" cy="129.7" r="1.78"/><circle cx="507.3" cy="161.0" r="1.78"/><circle cx="555.4" cy="142.1" r="1.78"/><circle cx="527.9" cy="154.9" r="1.78"/><circle cx="560.6" cy="148.5" r="1.78"/><circle cx="540.0" cy="137.5" r="1.78"/><circle cx="566.0" cy="141.3" r="1.78"/><circle cx="571.3" cy="129.6" r="1.78"/><circle cx="504.6" cy="160.9" r="1.78"/><circle cx="500.3" cy="174.1" r="1.78"/><circle cx="495.8" cy="177.2" r="1.78"/><circle cx="551.7" cy="140.8" r="1.78"/><circle cx="547.2" cy="158.5" r="1.78"/><circle cx="550.8" cy="138.4" r="1.78"/><circle cx="509.1" cy="154.2" r="1.78"/><circle cx="520.9" cy="146.9" r="1.78"/><circle cx="540.9" cy="163.0" r="1.78"/><circle cx="565.1" cy="144.9" r="1.78"/><circle cx="546.8" cy="155.4" r="1.78"/><circle cx="558.9" cy="149.5" r="1.78"/><circle cx="517.0" cy="165.3" r="1.78"/><circle cx="535.1" cy="154.7" r="1.78"/><circle cx="530.8" cy="151.3" r="1.78"/><circle cx="517.5" cy="143.2" r="1.78"/><circle cx="560.8" cy="138.3" r="1.78"/><circle cx="561.9" cy="143.3" r="1.78"/><circle cx="534.5" cy="158.9" r="1.78"/><circle cx="544.6" cy="132.9" r="1.78"/><circle cx="553.4" cy="150.4" r="1.78"/><circle cx="549.4" cy="131.2" r="1.78"/><circle cx="545.5" cy="157.1" r="1.78"/><circle cx="515.1" cy="164.8" r="1.78"/><circle cx="517.5" cy="146.3" r="1.78"/><circle cx="486.2" cy="174.6" r="1.78"/><circle cx="513.4" cy="158.6" r="1.78"/><circle cx="505.1" cy="162.0" r="1.78"/><circle cx="569.8" cy="136.3" r="1.78"/><circle cx="503.6" cy="154.0" r="1.78"/><circle cx="510.5" cy="155.8" r="1.78"/><circle cx="536.8" cy="140.8" r="1.78"/><circle cx="561.7" cy="138.6" r="1.78"/><circle cx="502.5" cy="155.3" r="1.78"/><circle cx="523.2" cy="147.1" r="1.78"/><circle cx="561.5" cy="145.0" r="1.78"/><circle cx="515.6" cy="171.5" r="1.78"/><circle cx="537.9" cy="140.2" r="1.78"/><circle cx="565.5" cy="149.9" r="1.78"/><circle cx="573.4" cy="126.8" r="1.78"/><circle cx="505.3" cy="175.5" r="1.78"/><circle cx="547.9" cy="139.8" r="1.78"/><circle cx="547.8" cy="130.6" r="1.78"/><circle cx="505.3" cy="162.2" r="1.78"/><circle cx="542.3" cy="155.7" r="1.78"/><circle cx="548.2" cy="134.3" r="1.78"/><circle cx="509.1" cy="168.0" r="1.78"/><circle cx="568.9" cy="147.8" r="1.78"/><circle cx="546.7" cy="136.7" r="1.78"/><circle cx="493.3" cy="170.4" r="1.78"/><circle cx="562.4" cy="128.7" r="1.78"/><circle cx="501.4" cy="158.4" r="1.78"/><circle cx="555.1" cy="133.5" r="1.78"/><circle cx="521.7" cy="163.4" r="1.78"/><circle cx="566.7" cy="125.6" r="1.78"/><circle cx="516.4" cy="144.5" r="1.78"/><circle cx="551.2" cy="149.1" r="1.78"/><circle cx="520.2" cy="147.9" r="1.78"/><circle cx="573.3" cy="140.0" r="1.78"/><circle cx="558.7" cy="133.0" r="1.78"/><circle cx="510.1" cy="149.0" r="1.78"/><circle cx="531.5" cy="154.6" r="1.78"/><circle cx="537.6" cy="139.7" r="1.78"/><circle cx="573.5" cy="132.1" r="1.78"/><circle cx="549.2" cy="130.3" r="1.78"/><circle cx="492.3" cy="178.0" r="1.78"/><circle cx="560.4" cy="152.7" r="1.78"/><circle cx="546.3" cy="130.0" r="1.78"/><circle cx="552.1" cy="145.9" r="1.78"/><circle cx="541.9" cy="160.0" r="1.78"/><circle cx="525.1" cy="141.9" r="1.78"/><circle cx="477.2" cy="169.9" r="1.78"/><circle cx="550.7" cy="158.9" r="1.78"/><circle cx="551.9" cy="136.9" r="1.78"/><circle cx="515.5" cy="143.9" r="1.78"/><circle cx="521.5" cy="156.9" r="1.78"/><circle cx="513.9" cy="163.0" r="1.78"/><circle cx="553.4" cy="127.7" r="1.78"/><circle cx="539.5" cy="140.4" r="1.78"/><circle cx="539.7" cy="130.0" r="1.78"/><circle cx="526.3" cy="154.0" r="1.78"/><circle cx="542.6" cy="148.8" r="1.78"/><circle cx="544.0" cy="150.1" r="1.78"/><circle cx="542.9" cy="144.1" r="1.78"/><circle cx="552.0" cy="134.1" r="1.78"/><circle cx="544.2" cy="141.2" r="1.78"/><circle cx="566.8" cy="131.5" r="1.78"/><circle cx="524.6" cy="158.2" r="1.78"/><circle cx="507.7" cy="166.7" r="1.78"/><circle cx="524.1" cy="153.9" r="1.78"/><circle cx="511.0" cy="164.8" r="1.78"/><circle cx="567.4" cy="128.8" r="1.78"/><circle cx="489.2" cy="181.1" r="1.78"/><circle cx="546.7" cy="154.4" r="1.78"/><circle cx="523.6" cy="164.5" r="1.78"/><circle cx="568.8" cy="127.3" r="1.78"/><circle cx="568.9" cy="146.9" r="1.78"/><circle cx="552.5" cy="144.1" r="1.78"/><circle cx="528.3" cy="169.8" r="1.78"/><circle cx="515.0" cy="143.3" r="1.78"/><circle cx="514.9" cy="152.7" r="1.78"/><circle cx="558.9" cy="144.4" r="1.78"/><circle cx="571.7" cy="123.3" r="1.78"/><circle cx="498.6" cy="164.8" r="1.78"/><circle cx="555.8" cy="128.9" r="1.78"/><circle cx="545.3" cy="154.8" r="1.78"/><circle cx="547.7" cy="160.4" r="1.78"/><circle cx="496.6" cy="172.4" r="1.78"/><circle cx="538.5" cy="134.6" r="1.78"/><circle cx="545.5" cy="157.2" r="1.78"/><circle cx="499.6" cy="162.0" r="1.78"/><circle cx="556.2" cy="144.8" r="1.78"/><circle cx="523.1" cy="155.3" r="1.78"/><circle cx="531.8" cy="167.6" r="1.78"/><circle cx="535.2" cy="159.4" r="1.78"/><circle cx="537.2" cy="162.0" r="1.78"/><circle cx="513.9" cy="153.6" r="1.78"/><circle cx="544.0" cy="134.1" r="1.78"/><circle cx="551.6" cy="139.8" r="1.78"/><circle cx="533.0" cy="144.1" r="1.78"/><circle cx="482.3" cy="183.1" r="1.78"/><circle cx="533.4" cy="140.5" r="1.78"/><circle cx="528.9" cy="153.2" r="1.78"/><circle cx="526.9" cy="151.3" r="1.78"/><circle cx="544.1" cy="153.3" r="1.78"/><circle cx="573.7" cy="144.9" r="1.78"/><circle cx="513.5" cy="166.9" r="1.78"/><circle cx="521.7" cy="166.4" r="1.78"/><circle cx="523.6" cy="149.8" r="1.78"/><circle cx="520.0" cy="170.3" r="1.78"/><circle cx="510.9" cy="161.9" r="1.78"/><circle cx="509.1" cy="177.2" r="1.78"/><circle cx="537.3" cy="131.2" r="1.78"/><circle cx="531.4" cy="167.0" r="1.78"/><circle cx="511.4" cy="145.9" r="1.78"/><circle cx="479.4" cy="183.0" r="1.78"/><circle cx="504.7" cy="170.0" r="1.78"/><circle cx="547.0" cy="140.4" r="1.78"/><circle cx="515.8" cy="156.5" r="1.78"/><circle cx="538.6" cy="146.8" r="1.78"/><circle cx="503.3" cy="158.0" r="1.78"/><circle cx="515.9" cy="153.3" r="1.78"/><circle cx="547.4" cy="139.4" r="1.78"/><circle cx="541.6" cy="132.1" r="1.78"/><circle cx="549.0" cy="134.9" r="1.78"/><circle cx="503.7" cy="166.1" r="1.78"/><circle cx="544.9" cy="151.8" r="1.78"/><circle cx="531.8" cy="164.0" r="1.78"/><circle cx="477.3" cy="173.0" r="1.78"/><circle cx="557.9" cy="124.4" r="1.78"/><circle cx="521.9" cy="159.8" r="1.78"/><circle cx="488.4" cy="169.8" r="1.78"/><circle cx="498.7" cy="178.4" r="1.78"/><circle cx="515.4" cy="149.9" r="1.78"/><circle cx="561.3" cy="132.8" r="1.78"/><circle cx="503.8" cy="154.3" r="1.78"/><circle cx="542.9" cy="138.4" r="1.78"/><circle cx="554.9" cy="156.1" r="1.78"/><circle cx="559.1" cy="138.2" r="1.78"/><circle cx="560.6" cy="139.3" r="1.78"/><circle cx="576.0" cy="134.9" r="1.78"/><circle cx="480.6" cy="182.0" r="1.78"/><circle cx="556.7" cy="134.8" r="1.78"/><circle cx="503.2" cy="177.5" r="1.78"/><circle cx="573.9" cy="139.7" r="1.78"/><circle cx="556.1" cy="135.6" r="1.78"/><circle cx="525.4" cy="139.8" r="1.78"/><circle cx="492.9" cy="158.1" r="1.78"/><circle cx="521.0" cy="159.9" r="1.78"/><circle cx="563.6" cy="134.9" r="1.78"/><circle cx="486.9" cy="163.8" r="1.78"/><circle cx="520.7" cy="162.6" r="1.78"/><circle cx="535.5" cy="132.5" r="1.78"/><circle cx="512.1" cy="151.3" r="1.78"/><circle cx="489.9" cy="159.5" r="1.78"/><circle cx="506.3" cy="156.6" r="1.78"/><circle cx="503.2" cy="158.8" r="1.78"/><circle cx="555.9" cy="155.6" r="1.78"/><circle cx="498.2" cy="159.4" r="1.78"/><circle cx="555.7" cy="146.9" r="1.78"/><circle cx="556.6" cy="135.0" r="1.78"/><circle cx="524.4" cy="144.7" r="1.78"/><circle cx="537.0" cy="140.7" r="1.78"/><circle cx="517.1" cy="152.9" r="1.78"/><circle cx="497.1" cy="166.9" r="1.78"/><circle cx="539.5" cy="144.5" r="1.78"/><circle cx="522.3" cy="150.5" r="1.78"/><circle cx="511.4" cy="165.3" r="1.78"/><circle cx="551.0" cy="138.6" r="1.78"/><circle cx="546.4" cy="149.6" r="1.78"/><circle cx="541.7" cy="153.1" r="1.78"/><circle cx="543.6" cy="136.4" r="1.78"/><circle cx="556.5" cy="148.3" r="1.78"/><circle cx="573.3" cy="136.8" r="1.78"/><circle cx="573.4" cy="144.7" r="1.78"/><circle cx="564.4" cy="147.9" r="1.78"/><circle cx="549.4" cy="132.0" r="1.78"/><circle cx="498.7" cy="171.9" r="1.78"/><circle cx="534.9" cy="146.9" r="1.78"/><circle cx="547.3" cy="145.8" r="1.78"/><circle cx="561.2" cy="137.7" r="1.78"/><circle cx="502.6" cy="162.5" r="1.78"/><circle cx="532.6" cy="145.8" r="1.78"/><circle cx="548.9" cy="140.0" r="1.78"/><circle cx="498.2" cy="160.1" r="1.78"/><circle cx="481.7" cy="183.8" r="1.78"/><circle cx="530.2" cy="167.7" r="1.78"/><circle cx="548.7" cy="157.3" r="1.78"/><circle cx="503.3" cy="176.0" r="1.78"/><circle cx="531.3" cy="158.3" r="1.78"/><circle cx="544.6" cy="131.2" r="1.78"/><circle cx="531.9" cy="158.1" r="1.78"/><circle cx="544.9" cy="138.6" r="1.78"/><circle cx="509.8" cy="147.5" r="1.78"/><circle cx="508.1" cy="161.2" r="1.78"/><circle cx="529.5" cy="166.6" r="1.78"/><circle cx="486.5" cy="166.6" r="1.78"/><circle cx="503.4" cy="154.2" r="1.78"/><circle cx="558.7" cy="139.3" r="1.78"/><circle cx="499.2" cy="161.1" r="1.78"/><circle cx="490.5" cy="164.0" r="1.78"/><circle cx="559.0" cy="135.2" r="1.78"/><circle cx="540.2" cy="146.1" r="1.78"/><circle cx="529.3" cy="152.4" r="1.78"/><circle cx="534.3" cy="136.8" r="1.78"/><circle cx="562.8" cy="125.2" r="1.78"/><circle cx="509.0" cy="160.2" r="1.78"/><circle cx="571.3" cy="141.5" r="1.78"/><circle cx="531.9" cy="151.6" r="1.78"/><circle cx="539.0" cy="144.2" r="1.78"/><circle cx="566.5" cy="138.0" r="1.78"/><circle cx="549.0" cy="137.6" r="1.78"/><circle cx="547.5" cy="132.6" r="1.78"/><circle cx="544.7" cy="154.1" r="1.78"/><circle cx="509.4" cy="149.3" r="1.78"/><circle cx="555.7" cy="143.3" r="1.78"/><circle cx="572.2" cy="136.4" r="1.78"/><circle cx="476.7" cy="175.3" r="1.78"/><circle cx="552.2" cy="149.4" r="1.78"/><circle cx="562.7" cy="145.2" r="1.78"/><circle cx="487.7" cy="165.0" r="1.78"/><circle cx="505.0" cy="166.5" r="1.78"/><circle cx="536.4" cy="145.8" r="1.78"/><circle cx="487.2" cy="177.0" r="1.78"/><circle cx="518.5" cy="142.3" r="1.78"/><circle cx="534.5" cy="141.8" r="1.78"/><circle cx="533.1" cy="151.7" r="1.78"/><circle cx="565.7" cy="138.5" r="1.78"/><circle cx="514.5" cy="162.3" r="1.78"/><circle cx="529.2" cy="135.6" r="1.78"/><circle cx="540.8" cy="146.9" r="1.78"/><circle cx="547.2" cy="145.5" r="1.78"/><circle cx="529.4" cy="145.0" r="1.78"/><circle cx="493.9" cy="155.8" r="1.78"/><circle cx="514.5" cy="145.7" r="1.78"/><circle cx="559.2" cy="135.8" r="1.78"/><circle cx="530.8" cy="138.7" r="1.78"/><circle cx="556.2" cy="157.7" r="1.78"/><circle cx="517.8" cy="142.0" r="1.78"/><circle cx="565.2" cy="141.2" r="1.78"/><circle cx="503.6" cy="153.3" r="1.78"/><circle cx="567.6" cy="150.1" r="1.78"/><circle cx="557.7" cy="151.8" r="1.78"/><circle cx="527.3" cy="157.8" r="1.78"/><circle cx="492.1" cy="161.5" r="1.78"/><circle cx="481.2" cy="163.0" r="1.78"/><circle cx="542.7" cy="138.4" r="1.78"/><circle cx="550.2" cy="133.4" r="1.78"/><circle cx="530.1" cy="137.6" r="1.78"/><circle cx="531.7" cy="166.5" r="1.78"/><circle cx="539.6" cy="141.2" r="1.78"/><circle cx="554.5" cy="133.5" r="1.78"/><circle cx="500.5" cy="160.6" r="1.78"/><circle cx="559.5" cy="132.8" r="1.78"/><circle cx="540.2" cy="155.5" r="1.78"/><circle cx="562.0" cy="151.8" r="1.78"/><circle cx="540.3" cy="157.9" r="1.78"/><circle cx="495.7" cy="163.5" r="1.78"/><circle cx="568.6" cy="150.1" r="1.78"/><circle cx="550.5" cy="128.0" r="1.78"/><circle cx="540.7" cy="150.9" r="1.78"/><circle cx="544.8" cy="156.5" r="1.78"/><circle cx="533.6" cy="147.3" r="1.78"/><circle cx="505.4" cy="149.0" r="1.78"/><circle cx="544.1" cy="146.8" r="1.78"/><circle cx="530.1" cy="151.1" r="1.78"/><circle cx="557.0" cy="134.3" r="1.78"/><circle cx="532.4" cy="151.0" r="1.78"/><circle cx="554.8" cy="138.7" r="1.78"/><circle cx="501.3" cy="160.7" r="1.78"/><circle cx="534.5" cy="158.6" r="1.78"/><circle cx="526.4" cy="155.4" r="1.78"/><circle cx="522.5" cy="159.6" r="1.78"/><circle cx="516.0" cy="168.1" r="1.78"/><circle cx="493.8" cy="165.9" r="1.78"/><circle cx="524.9" cy="159.9" r="1.78"/><circle cx="524.7" cy="150.1" r="1.78"/><circle cx="532.7" cy="160.8" r="1.78"/><circle cx="545.7" cy="138.6" r="1.78"/><circle cx="538.9" cy="156.9" r="1.78"/><circle cx="532.0" cy="137.0" r="1.78"/><circle cx="562.3" cy="131.6" r="1.78"/><circle cx="547.1" cy="156.3" r="1.78"/><circle cx="486.7" cy="159.8" r="1.78"/><circle cx="518.1" cy="150.9" r="1.78"/><circle cx="546.7" cy="147.1" r="1.78"/><circle cx="554.2" cy="129.9" r="1.78"/><circle cx="543.0" cy="149.6" r="1.78"/><circle cx="536.0" cy="142.4" r="1.78"/><circle cx="533.1" cy="157.2" r="1.78"/><circle cx="530.8" cy="146.3" r="1.78"/><circle cx="502.0" cy="160.3" r="1.78"/><circle cx="557.3" cy="156.7" r="1.78"/><circle cx="527.6" cy="167.9" r="1.78"/><circle cx="545.9" cy="127.3" r="1.78"/><circle cx="534.3" cy="131.1" r="1.78"/><circle cx="572.0" cy="135.6" r="1.78"/><circle cx="535.6" cy="166.0" r="1.78"/><circle cx="476.4" cy="173.6" r="1.78"/><circle cx="569.3" cy="133.5" r="1.78"/><circle cx="524.7" cy="163.2" r="1.78"/><circle cx="536.3" cy="145.7" r="1.78"/><circle cx="480.0" cy="172.6" r="1.78"/><circle cx="548.0" cy="154.2" r="1.78"/><circle cx="516.9" cy="165.2" r="1.78"/><circle cx="567.1" cy="139.6" r="1.78"/><circle cx="532.8" cy="157.0" r="1.78"/><circle cx="544.9" cy="143.0" r="1.78"/><circle cx="514.4" cy="161.5" r="1.78"/><circle cx="531.7" cy="142.5" r="1.78"/><circle cx="550.2" cy="130.0" r="1.78"/><circle cx="569.9" cy="123.4" r="1.78"/><circle cx="559.3" cy="142.3" r="1.78"/><circle cx="568.1" cy="126.0" r="1.78"/><circle cx="522.0" cy="142.1" r="1.78"/><circle cx="529.8" cy="141.0" r="1.78"/><circle cx="573.3" cy="123.9" r="1.78"/><circle cx="576.2" cy="121.0" r="1.78"/><circle cx="575.5" cy="129.0" r="1.78"/><circle cx="579.1" cy="127.5" r="1.78"/><circle cx="578.4" cy="133.4" r="1.78"/><circle cx="577.7" cy="136.3" r="1.78"/><circle cx="581.3" cy="139.2" r="1.78"/><circle cx="579.9" cy="146.5" r="1.78"/><circle cx="575.5" cy="141.4" r="1.78"/><circle cx="570.4" cy="131.9" r="1.78"/><circle cx="571.1" cy="146.5" r="1.78"/><circle cx="571.1" cy="150.9" r="1.78"/><circle cx="581.3" cy="155.3" r="1.78"/><circle cx="566.0" cy="158.9" r="1.78"/><circle cx="566.0" cy="162.6" r="1.78"/><circle cx="562.3" cy="123.1" r="1.78"/><circle cx="597.4" cy="117.3" r="1.78"/><circle cx="598.1" cy="121.0" r="1.78"/><circle cx="609.0" cy="119.5" r="1.78"/><circle cx="605.4" cy="126.8" r="1.78"/><circle cx="612.7" cy="129.0" r="1.78"/><circle cx="595.9" cy="131.2" r="1.78"/><circle cx="592.3" cy="134.1" r="1.78"/><circle cx="589.3" cy="134.1" r="1.78"/><circle cx="603.2" cy="141.4" r="1.78"/><circle cx="606.9" cy="141.4" r="1.78"/><circle cx="584.2" cy="134.8" r="1.78"/><circle cx="531.7" cy="121.0" r="1.78"/><circle cx="510.8" cy="124.6" r="1.78"/><circle cx="583.0" cy="155.1" r="1.78"/><circle cx="567.0" cy="163.1" r="1.78"/><circle cx="594.8" cy="130.7" r="1.78"/><circle cx="598.0" cy="131.0" r="1.78"/><circle cx="596.4" cy="132.3" r="1.78"/></g>
<g fill="#d03a2a"><circle cx="558.3" cy="142.3" r="1.78"/><circle cx="504.9" cy="148.2" r="1.78"/><circle cx="522.7" cy="166.3" r="1.78"/><circle cx="549.8" cy="149.0" r="1.78"/><circle cx="509.5" cy="169.8" r="1.78"/><circle cx="472.3" cy="166.5" r="1.78"/><circle cx="488.0" cy="168.9" r="1.78"/><circle cx="513.3" cy="160.4" r="1.78"/><circle cx="528.0" cy="140.7" r="1.78"/><circle cx="522.4" cy="149.0" r="1.78"/><circle cx="499.3" cy="162.9" r="1.78"/><circle cx="519.4" cy="166.4" r="1.78"/><circle cx="488.1" cy="167.5" r="1.78"/><circle cx="486.6" cy="156.6" r="1.78"/><circle cx="484.9" cy="159.7" r="1.78"/><circle cx="556.8" cy="130.7" r="1.78"/><circle cx="546.3" cy="156.3" r="1.78"/><circle cx="516.8" cy="158.9" r="1.78"/><circle cx="514.1" cy="159.0" r="1.78"/><circle cx="533.4" cy="146.4" r="1.78"/><circle cx="521.6" cy="154.0" r="1.78"/><circle cx="522.0" cy="145.1" r="1.78"/><circle cx="503.3" cy="158.1" r="1.78"/><circle cx="477.0" cy="174.5" r="1.78"/><circle cx="503.4" cy="157.1" r="1.78"/><circle cx="508.7" cy="145.9" r="1.78"/><circle cx="501.1" cy="167.8" r="1.78"/><circle cx="530.5" cy="145.6" r="1.78"/><circle cx="479.5" cy="152.1" r="1.78"/><circle cx="516.9" cy="160.2" r="1.78"/><circle cx="516.4" cy="166.8" r="1.78"/><circle cx="545.7" cy="137.0" r="1.78"/><circle cx="528.2" cy="143.5" r="1.78"/><circle cx="492.8" cy="161.5" r="1.78"/><circle cx="495.0" cy="161.3" r="1.78"/><circle cx="471.6" cy="171.2" r="1.78"/><circle cx="537.6" cy="131.2" r="1.78"/><circle cx="491.2" cy="152.0" r="1.78"/><circle cx="496.4" cy="161.3" r="1.78"/><circle cx="472.6" cy="171.4" r="1.78"/><circle cx="491.4" cy="160.7" r="1.78"/><circle cx="548.0" cy="156.0" r="1.78"/><circle cx="498.4" cy="143.3" r="1.78"/><circle cx="492.2" cy="173.9" r="1.78"/><circle cx="497.2" cy="152.2" r="1.78"/><circle cx="487.2" cy="161.3" r="1.78"/><circle cx="493.8" cy="155.2" r="1.78"/><circle cx="539.0" cy="143.6" r="1.78"/><circle cx="525.1" cy="142.0" r="1.78"/><circle cx="520.8" cy="142.8" r="1.78"/><circle cx="522.9" cy="137.2" r="1.78"/><circle cx="539.8" cy="157.8" r="1.78"/><circle cx="504.1" cy="165.3" r="1.78"/><circle cx="528.8" cy="156.5" r="1.78"/><circle cx="533.5" cy="149.0" r="1.78"/><circle cx="496.6" cy="160.9" r="1.78"/><circle cx="499.6" cy="156.0" r="1.78"/><circle cx="534.2" cy="137.5" r="1.78"/><circle cx="503.2" cy="157.1" r="1.78"/><circle cx="491.8" cy="172.3" r="1.78"/><circle cx="504.0" cy="145.3" r="1.78"/><circle cx="550.4" cy="146.1" r="1.78"/><circle cx="518.8" cy="161.4" r="1.78"/><circle cx="536.4" cy="152.6" r="1.78"/><circle cx="520.3" cy="165.7" r="1.78"/><circle cx="503.0" cy="165.9" r="1.78"/><circle cx="506.8" cy="158.4" r="1.78"/><circle cx="553.7" cy="137.5" r="1.78"/><circle cx="498.7" cy="168.8" r="1.78"/><circle cx="529.5" cy="144.4" r="1.78"/><circle cx="520.7" cy="138.6" r="1.78"/><circle cx="480.4" cy="175.6" r="1.78"/><circle cx="514.3" cy="151.4" r="1.78"/><circle cx="485.9" cy="165.7" r="1.78"/><circle cx="515.6" cy="167.8" r="1.78"/><circle cx="477.2" cy="175.6" r="1.78"/><circle cx="550.4" cy="154.9" r="1.78"/><circle cx="554.5" cy="144.8" r="1.78"/><circle cx="516.8" cy="159.4" r="1.78"/><circle cx="513.0" cy="157.0" r="1.78"/><circle cx="515.9" cy="166.1" r="1.78"/><circle cx="504.0" cy="161.3" r="1.78"/><circle cx="553.4" cy="149.4" r="1.78"/><circle cx="518.9" cy="158.7" r="1.78"/><circle cx="476.5" cy="178.3" r="1.78"/><circle cx="483.0" cy="158.2" r="1.78"/><circle cx="514.9" cy="158.4" r="1.78"/><circle cx="536.9" cy="153.7" r="1.78"/><circle cx="470.4" cy="169.4" r="1.78"/><circle cx="477.9" cy="166.6" r="1.78"/><circle cx="550.3" cy="157.4" r="1.78"/><circle cx="491.6" cy="157.1" r="1.78"/><circle cx="505.4" cy="154.7" r="1.78"/><circle cx="569.3" cy="133.4" r="1.78"/><circle cx="477.4" cy="163.1" r="1.78"/><circle cx="525.1" cy="149.6" r="1.78"/><circle cx="504.3" cy="144.9" r="1.78"/><circle cx="490.9" cy="161.3" r="1.78"/><circle cx="508.7" cy="164.3" r="1.78"/><circle cx="496.9" cy="171.3" r="1.78"/><circle cx="552.0" cy="149.9" r="1.78"/><circle cx="532.7" cy="154.8" r="1.78"/><circle cx="499.2" cy="164.3" r="1.78"/><circle cx="537.3" cy="144.2" r="1.78"/><circle cx="549.7" cy="148.2" r="1.78"/><circle cx="495.4" cy="164.7" r="1.78"/><circle cx="513.9" cy="155.0" r="1.78"/><circle cx="548.0" cy="130.2" r="1.78"/><circle cx="482.3" cy="160.9" r="1.78"/><circle cx="564.4" cy="137.1" r="1.78"/><circle cx="492.9" cy="165.7" r="1.78"/><circle cx="556.3" cy="133.5" r="1.78"/><circle cx="491.9" cy="155.4" r="1.78"/><circle cx="494.4" cy="161.7" r="1.78"/><circle cx="500.7" cy="151.0" r="1.78"/><circle cx="549.5" cy="130.0" r="1.78"/><circle cx="524.7" cy="164.1" r="1.78"/><circle cx="526.1" cy="135.0" r="1.78"/><circle cx="545.3" cy="128.5" r="1.78"/><circle cx="542.0" cy="140.4" r="1.78"/><circle cx="503.9" cy="146.1" r="1.78"/><circle cx="533.5" cy="155.1" r="1.78"/><circle cx="493.1" cy="144.4" r="1.78"/><circle cx="538.1" cy="154.1" r="1.78"/><circle cx="514.4" cy="160.5" r="1.78"/><circle cx="514.5" cy="154.1" r="1.78"/><circle cx="508.8" cy="163.8" r="1.78"/><circle cx="518.3" cy="152.7" r="1.78"/><circle cx="501.1" cy="161.8" r="1.78"/><circle cx="551.5" cy="145.4" r="1.78"/><circle cx="513.1" cy="143.9" r="1.78"/><circle cx="511.1" cy="146.3" r="1.78"/><circle cx="476.3" cy="175.0" r="1.78"/><circle cx="550.6" cy="132.1" r="1.78"/><circle cx="486.8" cy="167.8" r="1.78"/><circle cx="555.9" cy="132.1" r="1.78"/><circle cx="521.1" cy="144.2" r="1.78"/><circle cx="506.2" cy="156.3" r="1.78"/><circle cx="495.5" cy="160.2" r="1.78"/><circle cx="499.3" cy="153.8" r="1.78"/><circle cx="501.2" cy="164.2" r="1.78"/><circle cx="489.0" cy="167.9" r="1.78"/><circle cx="529.7" cy="149.7" r="1.78"/><circle cx="492.8" cy="171.5" r="1.78"/><circle cx="545.3" cy="133.2" r="1.78"/><circle cx="494.3" cy="164.9" r="1.78"/><circle cx="556.3" cy="154.9" r="1.78"/><circle cx="505.9" cy="151.0" r="1.78"/><circle cx="516.3" cy="146.9" r="1.78"/><circle cx="500.8" cy="149.4" r="1.78"/><circle cx="556.1" cy="132.2" r="1.78"/><circle cx="535.9" cy="134.1" r="1.78"/><circle cx="494.1" cy="158.2" r="1.78"/><circle cx="519.2" cy="143.4" r="1.78"/><circle cx="512.1" cy="146.6" r="1.78"/><circle cx="483.4" cy="170.7" r="1.78"/><circle cx="518.6" cy="138.2" r="1.78"/><circle cx="474.8" cy="161.1" r="1.78"/><circle cx="522.4" cy="165.2" r="1.78"/><circle cx="521.7" cy="155.1" r="1.78"/><circle cx="503.2" cy="165.3" r="1.78"/><circle cx="481.8" cy="171.5" r="1.78"/><circle cx="565.4" cy="134.1" r="1.78"/><circle cx="504.3" cy="165.8" r="1.78"/><circle cx="473.2" cy="160.8" r="1.78"/><circle cx="563.6" cy="143.0" r="1.78"/><circle cx="537.5" cy="148.1" r="1.78"/><circle cx="497.3" cy="146.7" r="1.78"/><circle cx="523.8" cy="149.4" r="1.78"/><circle cx="537.7" cy="152.9" r="1.78"/><circle cx="491.2" cy="150.2" r="1.78"/><circle cx="514.0" cy="157.1" r="1.78"/><circle cx="499.3" cy="143.4" r="1.78"/><circle cx="506.0" cy="166.9" r="1.78"/><circle cx="557.1" cy="144.8" r="1.78"/><circle cx="533.0" cy="131.1" r="1.78"/><circle cx="553.3" cy="154.7" r="1.78"/><circle cx="485.7" cy="159.6" r="1.78"/><circle cx="501.3" cy="147.1" r="1.78"/><circle cx="557.9" cy="131.2" r="1.78"/><circle cx="549.6" cy="140.7" r="1.78"/><circle cx="515.0" cy="160.2" r="1.78"/><circle cx="496.1" cy="174.9" r="1.78"/><circle cx="526.1" cy="136.8" r="1.78"/><circle cx="531.1" cy="147.4" r="1.78"/><circle cx="528.3" cy="137.9" r="1.78"/><circle cx="479.1" cy="177.2" r="1.78"/><circle cx="491.7" cy="155.9" r="1.78"/><circle cx="531.4" cy="154.3" r="1.78"/><circle cx="487.4" cy="154.7" r="1.78"/><circle cx="451.4" cy="156.7" r="1.78"/><circle cx="438.5" cy="163.1" r="1.78"/><circle cx="441.7" cy="176.0" r="1.78"/><circle cx="451.4" cy="176.0" r="1.78"/><circle cx="449.8" cy="193.6" r="1.78"/><circle cx="456.2" cy="179.2" r="1.78"/><circle cx="420.9" cy="188.8" r="1.78"/><circle cx="440.1" cy="192.0" r="1.78"/><circle cx="520.4" cy="131.0" r="1.78"/><circle cx="575.0" cy="119.8" r="1.78"/><circle cx="559.0" cy="168.0" r="1.78"/><circle cx="455.0" cy="165.0" r="1.78"/><circle cx="460.0" cy="185.0" r="1.78"/><circle cx="430.0" cy="180.0" r="1.78"/></g>
<g fill="#11733d"><circle cx="412.8" cy="193.6" r="1.78"/><circle cx="424.1" cy="184.0" r="1.78"/><circle cx="435.3" cy="184.0" r="1.78"/><circle cx="435.3" cy="192.0" r="1.78"/><circle cx="438.5" cy="200.0" r="1.78"/><circle cx="453.0" cy="152.9" r="1.78"/><circle cx="461.0" cy="158.3" r="1.78"/><circle cx="465.8" cy="155.1" r="1.78"/><circle cx="459.4" cy="172.8" r="1.78"/><circle cx="464.2" cy="176.0" r="1.78"/><circle cx="469.0" cy="166.3" r="1.78"/><circle cx="480.3" cy="159.9" r="1.78"/><circle cx="485.1" cy="163.1" r="1.78"/><circle cx="478.7" cy="176.0" r="1.78"/><circle cx="493.1" cy="172.8" r="1.78"/><circle cx="502.8" cy="159.9" r="1.78"/><circle cx="510.8" cy="153.5" r="1.78"/><circle cx="531.7" cy="121.4" r="1.78"/><circle cx="533.3" cy="137.4" r="1.78"/><circle cx="557.4" cy="126.2" r="1.78"/><circle cx="538.1" cy="156.7" r="1.78"/><circle cx="547.7" cy="150.3" r="1.78"/><circle cx="575.0" cy="121.4" r="1.78"/><circle cx="470.0" cy="170.0" r="1.78"/><circle cx="488.0" cy="170.0" r="1.78"/><circle cx="498.0" cy="150.0" r="1.78"/><circle cx="520.0" cy="150.0" r="1.78"/><circle cx="455.0" cy="170.0" r="1.78"/><circle cx="445.0" cy="180.0" r="1.78"/><circle cx="405.0" cy="203.0" r="1.78"/></g>
<path d="M474.73,185.92 L475.28,186.65 L475.99,187.29 L476.87,187.82 L477.90,188.24 L479.10,188.56 L480.44,188.78 L481.95,188.89 L483.59,188.89 L485.38,188.78 L487.31,188.57 L489.38,188.25 L491.56,187.83 L493.87,187.30 L496.30,186.68 L498.83,185.95 L501.46,185.12 L504.19,184.19 L507.00,183.17 L509.89,182.06 L512.86,180.87 L515.88,179.58 L518.96,178.22 L522.09,176.78 L525.25,175.26 L528.44,173.68 L531.65,172.03 L534.88,170.32 L538.10,168.55 L541.32,166.74 L544.52,164.87 L547.70,162.97 L550.85,161.03 L553.95,159.06 L557.00,157.06 L560.00,155.05 L562.93,153.02 L565.78,150.98 L568.56,148.94 L571.24,146.91 L573.82,144.88 L576.30,142.86 L578.67,140.86 L580.92,138.89 L583.05,136.95 L585.05,135.05 L586.91,133.18 L588.63,131.36 L590.21,129.60 L591.63,127.88 L592.91,126.23 L594.03,124.65 L594.98,123.13 L595.78,121.68 L596.41,120.32 L596.87,119.03 L597.17,117.83 L597.29,116.72 L597.25,115.70 L597.04,114.77 L596.67,113.94 L596.12,113.21 L595.41,112.57 L594.53,112.04 L593.50,111.62 L592.30,111.30 L590.96,111.08 L589.45,110.97 L587.81,110.97 L586.02,111.08 L584.09,111.29 L582.02,111.61 L579.84,112.03 L577.53,112.56 L575.10,113.18 L572.57,113.91 L569.94,114.74 L567.21,115.67 L564.40,116.69 L561.51,117.80 L558.54,118.99 L555.52,120.28 L552.44,121.64 L549.31,123.08 L546.15,124.60 L542.96,126.18 L539.75,127.83 L536.52,129.54 L533.30,131.31 L530.08,133.12 L526.88,134.99 L523.70,136.89 L520.55,138.83 L517.45,140.80 L514.40,142.80 L511.40,144.81 L508.47,146.84 L505.62,148.88 L502.84,150.92 L500.16,152.95 L497.58,154.98 L495.10,157.00 L492.73,159.00 L490.48,160.97 L488.35,162.91 L486.35,164.81 L484.49,166.68 L482.77,168.50 L481.19,170.26 L479.77,171.98 L478.49,173.63 L477.37,175.21 L476.42,176.73 L475.62,178.18 L474.99,179.54 L474.53,180.83 L474.23,182.03 L474.11,183.14 L474.15,184.16 L474.36,185.09Z" fill="none" stroke="#1a1a1a" stroke-width="1.45"/>
<path d="M438.07,202.72 L438.68,203.41 L439.48,203.98 L440.45,204.41 L441.61,204.72 L442.94,204.89 L444.44,204.93 L446.11,204.83 L447.94,204.61 L449.93,204.25 L452.07,203.76 L454.36,203.14 L456.79,202.39 L459.35,201.52 L462.04,200.52 L464.85,199.40 L467.77,198.17 L470.79,196.82 L473.91,195.36 L477.12,193.79 L480.40,192.13 L483.76,190.36 L487.17,188.50 L490.63,186.55 L494.14,184.52 L497.67,182.42 L501.23,180.24 L504.80,178.00 L508.37,175.70 L511.93,173.34 L515.48,170.94 L519.00,168.50 L522.48,166.03 L525.92,163.53 L529.30,161.01 L532.61,158.48 L535.85,155.95 L539.01,153.41 L542.08,150.88 L545.04,148.37 L547.90,145.88 L550.64,143.43 L553.26,141.00 L555.75,138.62 L558.10,136.29 L560.30,134.01 L562.36,131.79 L564.26,129.65 L566.00,127.57 L567.57,125.58 L568.98,123.67 L570.21,121.85 L571.26,120.12 L572.13,118.49 L572.82,116.97 L573.33,115.56 L573.65,114.26 L573.79,113.07 L573.73,112.00 L573.49,111.06 L573.07,110.24 L572.46,109.55 L571.66,108.98 L570.69,108.55 L569.53,108.24 L568.20,108.07 L566.70,108.03 L565.03,108.13 L563.20,108.35 L561.21,108.71 L559.07,109.20 L556.78,109.82 L554.35,110.57 L551.79,111.44 L549.10,112.44 L546.29,113.56 L543.37,114.79 L540.35,116.14 L537.23,117.60 L534.02,119.17 L530.74,120.83 L527.38,122.60 L523.97,124.46 L520.51,126.41 L517.00,128.44 L513.47,130.54 L509.91,132.72 L506.34,134.96 L502.77,137.26 L499.21,139.62 L495.66,142.02 L492.14,144.46 L488.66,146.93 L485.22,149.43 L481.84,151.95 L478.53,154.48 L475.29,157.01 L472.13,159.55 L469.06,162.08 L466.10,164.59 L463.24,167.08 L460.50,169.53 L457.88,171.96 L455.39,174.34 L453.04,176.67 L450.84,178.95 L448.78,181.17 L446.88,183.31 L445.14,185.39 L443.57,187.38 L442.16,189.29 L440.93,191.11 L439.88,192.84 L439.01,194.47 L438.32,195.99 L437.81,197.40 L437.49,198.70 L437.35,199.89 L437.41,200.96 L437.65,201.90Z" fill="none" stroke="#d6462e" stroke-width="1.45"/>
<path d="M401.91,214.94 L402.55,215.74 L403.42,216.41 L404.49,216.93 L405.78,217.32 L407.27,217.57 L408.98,217.68 L410.88,217.64 L412.97,217.46 L415.25,217.14 L417.72,216.68 L420.36,216.08 L423.17,215.35 L426.14,214.48 L429.26,213.47 L432.53,212.34 L435.93,211.07 L439.46,209.69 L443.10,208.18 L446.85,206.56 L450.69,204.82 L454.62,202.98 L458.63,201.04 L462.70,199.00 L466.82,196.87 L470.98,194.66 L475.17,192.37 L479.38,190.00 L483.60,187.57 L487.81,185.08 L492.00,182.53 L496.17,179.95 L500.30,177.32 L504.37,174.66 L508.39,171.98 L512.33,169.28 L516.19,166.57 L519.95,163.86 L523.61,161.15 L527.15,158.46 L530.57,155.79 L533.86,153.14 L537.00,150.54 L540.00,147.97 L542.83,145.45 L545.49,142.99 L547.99,140.59 L550.29,138.26 L552.42,136.01 L554.34,133.84 L556.07,131.75 L557.60,129.76 L558.92,127.87 L560.02,126.08 L560.92,124.41 L561.59,122.84 L562.05,121.39 L562.28,120.07 L562.30,118.87 L562.09,117.80 L561.67,116.86 L561.03,116.06 L560.16,115.39 L559.09,114.87 L557.80,114.48 L556.31,114.23 L554.60,114.12 L552.70,114.16 L550.61,114.34 L548.33,114.66 L545.86,115.12 L543.22,115.72 L540.41,116.45 L537.44,117.32 L534.32,118.33 L531.05,119.46 L527.65,120.73 L524.12,122.11 L520.48,123.62 L516.73,125.24 L512.89,126.98 L508.96,128.82 L504.95,130.76 L500.88,132.80 L496.76,134.93 L492.60,137.14 L488.41,139.43 L484.20,141.80 L479.98,144.23 L475.77,146.72 L471.58,149.27 L467.41,151.85 L463.28,154.48 L459.21,157.14 L455.19,159.82 L451.25,162.52 L447.39,165.23 L443.63,167.94 L439.97,170.65 L436.43,173.34 L433.01,176.01 L429.72,178.66 L426.58,181.26 L423.58,183.83 L420.75,186.35 L418.09,188.81 L415.59,191.21 L413.29,193.54 L411.16,195.79 L409.24,197.96 L407.51,200.05 L405.98,202.04 L404.66,203.93 L403.56,205.72 L402.66,207.39 L401.99,208.96 L401.53,210.41 L401.30,211.73 L401.28,212.93 L401.49,214.00Z" fill="none" stroke="#1d8a46" stroke-width="1.45"/>
</g>
<rect x="399.5" y="8.5" width="269.5" height="282.5" fill="none" stroke="#787878" stroke-width="1.9"/>
<clipPath id="cpc"><rect x="52" y="350.8" width="268.6" height="282.3"/></clipPath>
<g clip-path="url(#cpc)">
<line x1="146.6" y1="350.8" x2="146.6" y2="633.1" stroke="#8a8a8a" stroke-width="1" stroke-dasharray="4 3.4"/>
<line x1="161.3" y1="350.8" x2="161.3" y2="633.1" stroke="#ea8a70" stroke-width="1" stroke-dasharray="4 3.4"/>
<line x1="180.3" y1="350.8" x2="180.3" y2="633.1" stroke="#6cbf7c" stroke-width="1" stroke-dasharray="4 3.4"/>
<line x1="52" y1="468.4" x2="320.6" y2="468.4" stroke="#8a8a8a" stroke-width="1" stroke-dasharray="4 3.4"/>
<line x1="52" y1="490" x2="320.6" y2="490" stroke="#ea8a70" stroke-width="1" stroke-dasharray="4 3.4"/>
<line x1="52" y1="511.6" x2="320.6" y2="511.6" stroke="#6cbf7c" stroke-width="1" stroke-dasharray="4 3.4"/>
<g fill="#0a0a0a"><circle cx="135.3" cy="463.4" r="1.78"/><circle cx="134.6" cy="468.1" r="1.78"/><circle cx="155.1" cy="459.0" r="1.78"/><circle cx="150.0" cy="443.8" r="1.78"/><circle cx="169.4" cy="455.9" r="1.78"/><circle cx="158.0" cy="474.0" r="1.78"/><circle cx="132.4" cy="473.3" r="1.78"/><circle cx="138.4" cy="468.0" r="1.78"/><circle cx="160.0" cy="471.8" r="1.78"/><circle cx="149.1" cy="441.6" r="1.78"/><circle cx="143.5" cy="458.1" r="1.78"/><circle cx="171.2" cy="483.3" r="1.78"/><circle cx="166.4" cy="465.9" r="1.78"/><circle cx="161.8" cy="467.7" r="1.78"/><circle cx="146.6" cy="450.0" r="1.78"/><circle cx="142.8" cy="450.6" r="1.78"/><circle cx="161.3" cy="467.9" r="1.78"/><circle cx="144.1" cy="477.3" r="1.78"/><circle cx="157.2" cy="459.7" r="1.78"/><circle cx="158.3" cy="466.4" r="1.78"/><circle cx="136.1" cy="460.6" r="1.78"/><circle cx="134.9" cy="444.1" r="1.78"/><circle cx="136.9" cy="438.2" r="1.78"/><circle cx="171.8" cy="465.3" r="1.78"/><circle cx="132.2" cy="451.6" r="1.78"/><circle cx="157.3" cy="443.6" r="1.78"/><circle cx="135.6" cy="466.7" r="1.78"/><circle cx="156.5" cy="458.3" r="1.78"/><circle cx="159.2" cy="463.6" r="1.78"/><circle cx="146.2" cy="480.6" r="1.78"/><circle cx="168.0" cy="479.9" r="1.78"/><circle cx="132.8" cy="441.5" r="1.78"/><circle cx="148.1" cy="447.6" r="1.78"/><circle cx="124.3" cy="465.0" r="1.78"/><circle cx="136.2" cy="448.3" r="1.78"/><circle cx="167.5" cy="455.0" r="1.78"/><circle cx="147.5" cy="451.4" r="1.78"/><circle cx="127.5" cy="466.3" r="1.78"/><circle cx="144.1" cy="464.2" r="1.78"/><circle cx="136.7" cy="439.8" r="1.78"/><circle cx="146.6" cy="458.2" r="1.78"/><circle cx="140.5" cy="479.9" r="1.78"/><circle cx="157.6" cy="456.5" r="1.78"/><circle cx="151.4" cy="472.8" r="1.78"/><circle cx="170.6" cy="465.1" r="1.78"/><circle cx="149.4" cy="485.8" r="1.78"/><circle cx="150.2" cy="466.3" r="1.78"/><circle cx="164.9" cy="478.4" r="1.78"/><circle cx="132.8" cy="455.1" r="1.78"/><circle cx="133.6" cy="459.6" r="1.78"/><circle cx="166.9" cy="479.8" r="1.78"/><circle cx="145.0" cy="450.6" r="1.78"/><circle cx="147.2" cy="443.2" r="1.78"/><circle cx="156.0" cy="463.1" r="1.78"/><circle cx="134.5" cy="446.8" r="1.78"/><circle cx="150.7" cy="462.0" r="1.78"/><circle cx="148.6" cy="441.8" r="1.78"/><circle cx="155.6" cy="481.8" r="1.78"/><circle cx="141.6" cy="481.3" r="1.78"/><circle cx="171.2" cy="466.4" r="1.78"/><circle cx="166.8" cy="455.2" r="1.78"/><circle cx="168.0" cy="453.3" r="1.78"/><circle cx="145.1" cy="478.8" r="1.78"/><circle cx="151.8" cy="457.0" r="1.78"/><circle cx="132.5" cy="457.5" r="1.78"/><circle cx="131.9" cy="461.7" r="1.78"/><circle cx="156.2" cy="464.1" r="1.78"/><circle cx="144.8" cy="455.9" r="1.78"/><circle cx="143.0" cy="452.6" r="1.78"/><circle cx="127.5" cy="461.2" r="1.78"/><circle cx="143.1" cy="476.3" r="1.78"/><circle cx="130.1" cy="447.4" r="1.78"/><circle cx="133.7" cy="469.7" r="1.78"/><circle cx="145.2" cy="458.4" r="1.78"/><circle cx="163.2" cy="475.9" r="1.78"/><circle cx="140.1" cy="442.6" r="1.78"/><circle cx="151.6" cy="464.6" r="1.78"/><circle cx="161.0" cy="465.0" r="1.78"/><circle cx="137.0" cy="452.9" r="1.78"/><circle cx="158.1" cy="477.8" r="1.78"/><circle cx="163.6" cy="488.0" r="1.78"/><circle cx="131.0" cy="471.2" r="1.78"/><circle cx="141.0" cy="447.7" r="1.78"/><circle cx="138.4" cy="451.6" r="1.78"/><circle cx="135.8" cy="465.8" r="1.78"/><circle cx="169.5" cy="480.6" r="1.78"/><circle cx="158.5" cy="458.6" r="1.78"/><circle cx="137.3" cy="460.7" r="1.78"/><circle cx="159.5" cy="475.7" r="1.78"/><circle cx="174.7" cy="474.8" r="1.78"/><circle cx="160.9" cy="480.7" r="1.78"/><circle cx="136.4" cy="444.0" r="1.78"/><circle cx="147.6" cy="479.1" r="1.78"/><circle cx="162.8" cy="467.5" r="1.78"/><circle cx="148.6" cy="453.9" r="1.78"/><circle cx="164.1" cy="462.7" r="1.78"/><circle cx="152.9" cy="459.4" r="1.78"/><circle cx="143.2" cy="468.8" r="1.78"/><circle cx="142.8" cy="443.7" r="1.78"/><circle cx="138.5" cy="465.1" r="1.78"/><circle cx="159.9" cy="467.0" r="1.78"/><circle cx="169.1" cy="470.1" r="1.78"/><circle cx="148.1" cy="456.2" r="1.78"/><circle cx="167.3" cy="480.5" r="1.78"/><circle cx="138.0" cy="451.2" r="1.78"/><circle cx="159.1" cy="451.2" r="1.78"/><circle cx="145.8" cy="484.2" r="1.78"/><circle cx="147.7" cy="465.4" r="1.78"/><circle cx="172.1" cy="480.5" r="1.78"/><circle cx="156.8" cy="441.5" r="1.78"/><circle cx="159.8" cy="481.7" r="1.78"/><circle cx="174.7" cy="478.1" r="1.78"/><circle cx="122.8" cy="459.3" r="1.78"/><circle cx="143.7" cy="475.9" r="1.78"/><circle cx="154.5" cy="460.2" r="1.78"/><circle cx="151.3" cy="458.8" r="1.78"/><circle cx="140.8" cy="442.6" r="1.78"/><circle cx="140.9" cy="477.9" r="1.78"/><circle cx="162.8" cy="447.2" r="1.78"/><circle cx="136.7" cy="437.4" r="1.78"/><circle cx="155.1" cy="454.2" r="1.78"/><circle cx="169.6" cy="477.0" r="1.78"/><circle cx="169.5" cy="481.1" r="1.78"/><circle cx="144.4" cy="463.6" r="1.78"/><circle cx="172.3" cy="461.1" r="1.78"/><circle cx="166.8" cy="484.3" r="1.78"/><circle cx="130.4" cy="453.5" r="1.78"/><circle cx="151.6" cy="455.7" r="1.78"/><circle cx="146.2" cy="446.0" r="1.78"/><circle cx="135.6" cy="443.2" r="1.78"/><circle cx="166.5" cy="464.0" r="1.78"/><circle cx="124.7" cy="457.7" r="1.78"/><circle cx="174.1" cy="474.2" r="1.78"/><circle cx="121.0" cy="445.2" r="1.78"/><circle cx="160.0" cy="456.9" r="1.78"/><circle cx="126.6" cy="465.9" r="1.78"/><circle cx="144.6" cy="462.7" r="1.78"/><circle cx="164.5" cy="463.7" r="1.78"/><circle cx="154.4" cy="474.7" r="1.78"/><circle cx="118.3" cy="441.7" r="1.78"/><circle cx="149.5" cy="480.1" r="1.78"/><circle cx="124.4" cy="454.0" r="1.78"/><circle cx="164.0" cy="475.2" r="1.78"/><circle cx="153.9" cy="467.6" r="1.78"/><circle cx="170.0" cy="480.1" r="1.78"/><circle cx="134.7" cy="461.0" r="1.78"/><circle cx="139.4" cy="453.4" r="1.78"/><circle cx="167.0" cy="466.9" r="1.78"/><circle cx="156.0" cy="452.4" r="1.78"/><circle cx="148.7" cy="438.4" r="1.78"/><circle cx="162.1" cy="465.9" r="1.78"/><circle cx="166.3" cy="482.9" r="1.78"/><circle cx="142.2" cy="456.6" r="1.78"/><circle cx="153.6" cy="480.3" r="1.78"/><circle cx="144.1" cy="467.4" r="1.78"/><circle cx="126.9" cy="439.8" r="1.78"/><circle cx="171.3" cy="466.5" r="1.78"/><circle cx="126.4" cy="453.0" r="1.78"/><circle cx="146.8" cy="473.0" r="1.78"/><circle cx="164.1" cy="455.6" r="1.78"/><circle cx="157.3" cy="444.8" r="1.78"/><circle cx="133.7" cy="466.9" r="1.78"/><circle cx="154.0" cy="457.8" r="1.78"/><circle cx="140.4" cy="479.9" r="1.78"/><circle cx="160.8" cy="474.3" r="1.78"/><circle cx="139.6" cy="451.3" r="1.78"/><circle cx="129.0" cy="463.6" r="1.78"/><circle cx="164.0" cy="479.6" r="1.78"/><circle cx="140.9" cy="455.2" r="1.78"/><circle cx="173.4" cy="484.1" r="1.78"/><circle cx="122.4" cy="459.8" r="1.78"/><circle cx="154.5" cy="455.8" r="1.78"/><circle cx="119.3" cy="447.9" r="1.78"/><circle cx="154.7" cy="480.7" r="1.78"/><circle cx="164.1" cy="455.9" r="1.78"/><circle cx="147.7" cy="457.5" r="1.78"/><circle cx="166.3" cy="478.5" r="1.78"/><circle cx="138.0" cy="477.0" r="1.78"/><circle cx="173.7" cy="470.2" r="1.78"/><circle cx="162.6" cy="455.9" r="1.78"/><circle cx="160.2" cy="479.2" r="1.78"/><circle cx="144.8" cy="452.0" r="1.78"/><circle cx="171.7" cy="475.0" r="1.78"/><circle cx="165.5" cy="467.7" r="1.78"/><circle cx="173.1" cy="476.2" r="1.78"/><circle cx="129.8" cy="436.1" r="1.78"/><circle cx="137.4" cy="477.2" r="1.78"/><circle cx="157.0" cy="473.6" r="1.78"/><circle cx="155.7" cy="450.7" r="1.78"/><circle cx="143.1" cy="450.9" r="1.78"/><circle cx="174.0" cy="469.7" r="1.78"/><circle cx="162.6" cy="469.8" r="1.78"/><circle cx="129.2" cy="438.1" r="1.78"/><circle cx="160.0" cy="457.6" r="1.78"/><circle cx="134.0" cy="441.0" r="1.78"/><circle cx="174.6" cy="468.4" r="1.78"/><circle cx="152.7" cy="471.5" r="1.78"/><circle cx="146.0" cy="447.6" r="1.78"/><circle cx="118.5" cy="449.6" r="1.78"/><circle cx="145.2" cy="481.3" r="1.78"/><circle cx="152.4" cy="447.8" r="1.78"/><circle cx="154.6" cy="466.9" r="1.78"/><circle cx="143.7" cy="473.9" r="1.78"/><circle cx="167.9" cy="459.1" r="1.78"/><circle cx="152.5" cy="450.8" r="1.78"/><circle cx="151.9" cy="451.3" r="1.78"/><circle cx="126.1" cy="450.9" r="1.78"/><circle cx="148.4" cy="467.1" r="1.78"/><circle cx="161.5" cy="447.0" r="1.78"/><circle cx="165.1" cy="489.0" r="1.78"/><circle cx="157.0" cy="465.8" r="1.78"/><circle cx="158.2" cy="458.9" r="1.78"/><circle cx="126.2" cy="466.5" r="1.78"/><circle cx="143.6" cy="475.8" r="1.78"/><circle cx="139.1" cy="449.1" r="1.78"/><circle cx="166.9" cy="477.3" r="1.78"/><circle cx="141.1" cy="454.6" r="1.78"/><circle cx="145.3" cy="469.1" r="1.78"/><circle cx="132.4" cy="450.3" r="1.78"/><circle cx="154.4" cy="476.6" r="1.78"/><circle cx="152.3" cy="461.0" r="1.78"/><circle cx="145.1" cy="478.4" r="1.78"/><circle cx="163.9" cy="470.5" r="1.78"/><circle cx="168.3" cy="461.9" r="1.78"/><circle cx="169.0" cy="459.1" r="1.78"/><circle cx="144.7" cy="464.0" r="1.78"/><circle cx="127.4" cy="446.5" r="1.78"/><circle cx="162.4" cy="459.7" r="1.78"/><circle cx="141.2" cy="450.9" r="1.78"/><circle cx="123.2" cy="456.9" r="1.78"/><circle cx="155.8" cy="464.4" r="1.78"/><circle cx="132.6" cy="460.0" r="1.78"/><circle cx="128.4" cy="437.9" r="1.78"/><circle cx="168.4" cy="477.3" r="1.78"/><circle cx="130.8" cy="457.2" r="1.78"/><circle cx="166.6" cy="488.8" r="1.78"/><circle cx="154.5" cy="473.6" r="1.78"/><circle cx="172.4" cy="469.4" r="1.78"/><circle cx="156.0" cy="452.6" r="1.78"/><circle cx="143.8" cy="455.5" r="1.78"/><circle cx="140.5" cy="467.2" r="1.78"/><circle cx="163.4" cy="469.1" r="1.78"/><circle cx="146.1" cy="472.9" r="1.78"/><circle cx="157.8" cy="476.0" r="1.78"/><circle cx="143.8" cy="446.3" r="1.78"/><circle cx="162.9" cy="448.3" r="1.78"/><circle cx="145.6" cy="466.7" r="1.78"/><circle cx="129.2" cy="468.7" r="1.78"/><circle cx="134.9" cy="437.6" r="1.78"/><circle cx="143.8" cy="451.9" r="1.78"/><circle cx="143.7" cy="465.8" r="1.78"/><circle cx="127.2" cy="445.6" r="1.78"/><circle cx="149.1" cy="448.7" r="1.78"/><circle cx="139.5" cy="460.6" r="1.78"/><circle cx="126.1" cy="462.0" r="1.78"/><circle cx="119.4" cy="453.7" r="1.78"/><circle cx="141.4" cy="457.3" r="1.78"/><circle cx="152.6" cy="486.4" r="1.78"/><circle cx="134.3" cy="444.3" r="1.78"/><circle cx="146.6" cy="479.4" r="1.78"/><circle cx="123.3" cy="462.6" r="1.78"/><circle cx="131.0" cy="443.3" r="1.78"/><circle cx="167.7" cy="470.9" r="1.78"/><circle cx="137.6" cy="451.5" r="1.78"/><circle cx="155.1" cy="466.0" r="1.78"/><circle cx="163.2" cy="473.8" r="1.78"/><circle cx="148.9" cy="437.6" r="1.78"/><circle cx="153.3" cy="452.2" r="1.78"/><circle cx="166.1" cy="470.4" r="1.78"/><circle cx="147.2" cy="452.7" r="1.78"/><circle cx="134.6" cy="444.1" r="1.78"/><circle cx="151.7" cy="445.3" r="1.78"/><circle cx="152.8" cy="459.0" r="1.78"/><circle cx="151.4" cy="461.9" r="1.78"/><circle cx="162.7" cy="482.8" r="1.78"/><circle cx="135.0" cy="449.8" r="1.78"/><circle cx="152.6" cy="452.7" r="1.78"/><circle cx="150.9" cy="476.4" r="1.78"/><circle cx="134.9" cy="453.0" r="1.78"/><circle cx="122.6" cy="453.6" r="1.78"/><circle cx="163.4" cy="448.5" r="1.78"/><circle cx="119.6" cy="443.1" r="1.78"/><circle cx="157.1" cy="453.2" r="1.78"/><circle cx="150.4" cy="468.7" r="1.78"/><circle cx="167.3" cy="452.0" r="1.78"/><circle cx="155.1" cy="484.9" r="1.78"/><circle cx="128.1" cy="456.0" r="1.78"/><circle cx="149.4" cy="459.3" r="1.78"/><circle cx="159.6" cy="480.8" r="1.78"/><circle cx="117.3" cy="448.4" r="1.78"/><circle cx="171.8" cy="490.2" r="1.78"/><circle cx="155.0" cy="462.4" r="1.78"/><circle cx="174.6" cy="480.2" r="1.78"/><circle cx="121.7" cy="461.9" r="1.78"/><circle cx="150.5" cy="456.8" r="1.78"/><circle cx="151.4" cy="465.6" r="1.78"/><circle cx="161.3" cy="490.5" r="1.78"/><circle cx="173.2" cy="473.6" r="1.78"/><circle cx="164.7" cy="488.3" r="1.78"/><circle cx="150.4" cy="449.9" r="1.78"/><circle cx="148.8" cy="479.2" r="1.78"/><circle cx="164.1" cy="461.6" r="1.78"/><circle cx="166.8" cy="486.5" r="1.78"/><circle cx="172.6" cy="482.5" r="1.78"/><circle cx="138.1" cy="469.8" r="1.78"/><circle cx="145.3" cy="452.2" r="1.78"/><circle cx="138.2" cy="436.0" r="1.78"/><circle cx="154.8" cy="442.4" r="1.78"/><circle cx="139.9" cy="466.3" r="1.78"/><circle cx="157.3" cy="462.8" r="1.78"/><circle cx="149.8" cy="447.2" r="1.78"/><circle cx="145.8" cy="475.8" r="1.78"/><circle cx="149.8" cy="448.8" r="1.78"/><circle cx="140.3" cy="467.5" r="1.78"/><circle cx="168.3" cy="479.5" r="1.78"/><circle cx="145.5" cy="445.6" r="1.78"/><circle cx="156.5" cy="480.6" r="1.78"/><circle cx="127.4" cy="455.6" r="1.78"/><circle cx="171.6" cy="478.7" r="1.78"/><circle cx="132.8" cy="465.6" r="1.78"/><circle cx="158.4" cy="473.2" r="1.78"/><circle cx="149.4" cy="478.1" r="1.78"/><circle cx="150.7" cy="452.5" r="1.78"/><circle cx="153.6" cy="457.6" r="1.78"/><circle cx="139.9" cy="444.3" r="1.78"/><circle cx="120.9" cy="452.6" r="1.78"/><circle cx="147.8" cy="476.1" r="1.78"/><circle cx="160.5" cy="445.3" r="1.78"/><circle cx="143.5" cy="470.2" r="1.78"/><circle cx="169.4" cy="455.1" r="1.78"/><circle cx="169.5" cy="472.2" r="1.78"/><circle cx="127.1" cy="450.8" r="1.78"/><circle cx="153.9" cy="480.6" r="1.78"/><circle cx="129.9" cy="446.3" r="1.78"/><circle cx="164.5" cy="467.0" r="1.78"/><circle cx="134.6" cy="442.6" r="1.78"/><circle cx="165.3" cy="482.8" r="1.78"/><circle cx="158.2" cy="461.8" r="1.78"/><circle cx="128.0" cy="455.1" r="1.78"/><circle cx="147.1" cy="464.2" r="1.78"/><circle cx="157.2" cy="469.1" r="1.78"/><circle cx="163.4" cy="468.6" r="1.78"/><circle cx="147.0" cy="474.2" r="1.78"/><circle cx="140.6" cy="466.6" r="1.78"/><circle cx="160.1" cy="475.4" r="1.78"/><circle cx="156.8" cy="464.1" r="1.78"/><circle cx="151.4" cy="445.7" r="1.78"/><circle cx="146.8" cy="477.2" r="1.78"/><circle cx="151.9" cy="467.9" r="1.78"/><circle cx="163.8" cy="458.7" r="1.78"/><circle cx="132.1" cy="454.7" r="1.78"/><circle cx="127.4" cy="459.1" r="1.78"/><circle cx="129.8" cy="450.7" r="1.78"/><circle cx="122.7" cy="442.7" r="1.78"/><circle cx="143.1" cy="456.9" r="1.78"/><circle cx="137.2" cy="456.3" r="1.78"/><circle cx="133.2" cy="447.8" r="1.78"/><circle cx="170.1" cy="461.7" r="1.78"/><circle cx="148.7" cy="460.6" r="1.78"/><circle cx="144.5" cy="462.4" r="1.78"/><circle cx="169.6" cy="474.6" r="1.78"/><circle cx="134.8" cy="432.7" r="1.78"/><circle cx="140.1" cy="475.8" r="1.78"/><circle cx="135.1" cy="492.8" r="1.78"/><circle cx="156.4" cy="478.7" r="1.78"/><circle cx="140.9" cy="452.9" r="1.78"/><circle cx="120.2" cy="469.3" r="1.78"/><circle cx="128.4" cy="437.7" r="1.78"/><circle cx="140.4" cy="438.4" r="1.78"/><circle cx="138.8" cy="494.8" r="1.78"/><circle cx="117.8" cy="433.9" r="1.78"/><circle cx="158.9" cy="474.4" r="1.78"/><circle cx="171.2" cy="461.3" r="1.78"/><circle cx="133.2" cy="442.5" r="1.78"/><circle cx="118.5" cy="470.1" r="1.78"/><circle cx="122.3" cy="438.4" r="1.78"/><circle cx="133.0" cy="493.6" r="1.78"/><circle cx="164.0" cy="478.8" r="1.78"/><circle cx="159.8" cy="490.3" r="1.78"/><circle cx="169.9" cy="489.2" r="1.78"/><circle cx="157.4" cy="458.2" r="1.78"/><circle cx="142.5" cy="467.3" r="1.78"/><circle cx="120.6" cy="453.3" r="1.78"/><circle cx="155.5" cy="446.0" r="1.78"/><circle cx="133.1" cy="485.9" r="1.78"/><circle cx="156.7" cy="498.9" r="1.78"/><circle cx="164.3" cy="517.9" r="1.78"/><circle cx="141.6" cy="484.9" r="1.78"/><circle cx="139.9" cy="474.8" r="1.78"/><circle cx="143.8" cy="462.2" r="1.78"/><circle cx="141.3" cy="461.3" r="1.78"/><circle cx="116.9" cy="448.6" r="1.78"/><circle cx="124.3" cy="462.4" r="1.78"/><circle cx="143.0" cy="434.2" r="1.78"/><circle cx="140.0" cy="497.8" r="1.78"/><circle cx="146.5" cy="462.6" r="1.78"/><circle cx="139.7" cy="440.8" r="1.78"/><circle cx="166.6" cy="472.1" r="1.78"/><circle cx="157.6" cy="486.8" r="1.78"/><circle cx="162.6" cy="493.4" r="1.78"/><circle cx="169.5" cy="513.5" r="1.78"/><circle cx="141.7" cy="463.7" r="1.78"/><circle cx="130.3" cy="477.8" r="1.78"/><circle cx="115.1" cy="426.5" r="1.78"/><circle cx="130.2" cy="455.8" r="1.78"/><circle cx="123.2" cy="452.9" r="1.78"/><circle cx="127.1" cy="468.6" r="1.78"/><circle cx="159.3" cy="507.3" r="1.78"/><circle cx="169.6" cy="509.4" r="1.78"/><circle cx="177.0" cy="474.0" r="1.78"/><circle cx="177.6" cy="483.1" r="1.78"/><circle cx="119.6" cy="456.0" r="1.78"/><circle cx="129.4" cy="469.0" r="1.78"/><circle cx="151.3" cy="510.3" r="1.78"/><circle cx="144.4" cy="436.7" r="1.78"/><circle cx="120.7" cy="467.8" r="1.78"/><circle cx="138.1" cy="469.6" r="1.78"/><circle cx="170.0" cy="466.6" r="1.78"/><circle cx="173.2" cy="497.4" r="1.78"/><circle cx="159.0" cy="505.0" r="1.78"/><circle cx="140.8" cy="443.5" r="1.78"/><circle cx="149.4" cy="479.9" r="1.78"/><circle cx="151.5" cy="496.7" r="1.78"/><circle cx="155.5" cy="498.9" r="1.78"/><circle cx="155.4" cy="496.1" r="1.78"/><circle cx="126.6" cy="433.9" r="1.78"/><circle cx="154.0" cy="484.1" r="1.78"/><circle cx="165.2" cy="469.5" r="1.78"/><circle cx="128.4" cy="444.0" r="1.78"/><circle cx="149.6" cy="478.7" r="1.78"/><circle cx="148.8" cy="449.0" r="1.78"/><circle cx="166.8" cy="509.4" r="1.78"/><circle cx="170.5" cy="494.1" r="1.78"/><circle cx="152.3" cy="438.8" r="1.78"/><circle cx="144.3" cy="502.7" r="1.78"/><circle cx="174.2" cy="495.6" r="1.78"/><circle cx="176.5" cy="489.1" r="1.78"/><circle cx="129.3" cy="457.5" r="1.78"/><circle cx="121.0" cy="430.0" r="1.78"/><circle cx="165.4" cy="514.9" r="1.78"/><circle cx="120.9" cy="466.6" r="1.78"/><circle cx="157.6" cy="449.2" r="1.78"/><circle cx="151.8" cy="508.9" r="1.78"/><circle cx="144.2" cy="478.7" r="1.78"/><circle cx="111.5" cy="446.4" r="1.78"/><circle cx="171.6" cy="506.1" r="1.78"/><circle cx="165.1" cy="506.8" r="1.78"/><circle cx="149.3" cy="503.8" r="1.78"/><circle cx="171.0" cy="484.4" r="1.78"/><circle cx="161.8" cy="499.2" r="1.78"/><circle cx="125.6" cy="472.1" r="1.78"/><circle cx="170.9" cy="486.8" r="1.78"/><circle cx="141.0" cy="479.2" r="1.78"/><circle cx="175.2" cy="492.0" r="1.78"/><circle cx="138.6" cy="464.5" r="1.78"/><circle cx="177.8" cy="464.4" r="1.78"/><circle cx="118.6" cy="459.5" r="1.78"/><circle cx="172.1" cy="486.8" r="1.78"/><circle cx="119.1" cy="471.4" r="1.78"/><circle cx="182.7" cy="488.6" r="1.78"/><circle cx="132.9" cy="443.5" r="1.78"/><circle cx="147.7" cy="463.6" r="1.78"/><circle cx="173.7" cy="507.0" r="1.78"/><circle cx="128.5" cy="461.2" r="1.78"/><circle cx="156.2" cy="453.8" r="1.78"/><circle cx="118.5" cy="454.2" r="1.78"/><circle cx="117.8" cy="439.1" r="1.78"/><circle cx="129.5" cy="462.3" r="1.78"/><circle cx="141.8" cy="451.2" r="1.78"/><circle cx="175.1" cy="505.7" r="1.78"/><circle cx="109.7" cy="419.2" r="1.78"/><circle cx="118.4" cy="420.0" r="1.78"/><circle cx="137.6" cy="418.7" r="1.78"/><circle cx="177.1" cy="420.8" r="1.78"/><circle cx="107.0" cy="431.4" r="1.78"/><circle cx="123.0" cy="518.6" r="1.78"/><circle cx="131.0" cy="518.6" r="1.78"/><circle cx="180.3" cy="519.9" r="1.78"/><circle cx="188.3" cy="499.9" r="1.78"/><circle cx="165.6" cy="426.6" r="1.78"/><circle cx="174.9" cy="449.3" r="1.78"/><circle cx="105.0" cy="440.0" r="1.78"/><circle cx="112.0" cy="470.0" r="1.78"/><circle cx="115.0" cy="490.0" r="1.78"/><circle cx="185.0" cy="460.0" r="1.78"/><circle cx="122.6" cy="518.9" r="1.78"/><circle cx="131.4" cy="518.9" r="1.78"/><circle cx="133.1" cy="503.1" r="1.78"/><circle cx="130.5" cy="512.8" r="1.78"/><circle cx="135.8" cy="514.5" r="1.78"/><circle cx="142.8" cy="506.6" r="1.78"/><circle cx="146.3" cy="501.4" r="1.78"/></g>
<g fill="#d03a2a"><circle cx="178.0" cy="494.3" r="1.78"/><circle cx="163.7" cy="494.0" r="1.78"/><circle cx="167.4" cy="482.1" r="1.78"/><circle cx="171.8" cy="510.8" r="1.78"/><circle cx="160.7" cy="493.4" r="1.78"/><circle cx="149.0" cy="473.8" r="1.78"/><circle cx="169.7" cy="515.3" r="1.78"/><circle cx="153.9" cy="493.8" r="1.78"/><circle cx="160.9" cy="508.7" r="1.78"/><circle cx="148.7" cy="486.0" r="1.78"/><circle cx="157.9" cy="501.7" r="1.78"/><circle cx="168.2" cy="504.0" r="1.78"/><circle cx="176.8" cy="512.3" r="1.78"/><circle cx="171.5" cy="493.0" r="1.78"/><circle cx="152.9" cy="512.5" r="1.78"/><circle cx="159.0" cy="506.4" r="1.78"/><circle cx="155.4" cy="498.0" r="1.78"/><circle cx="141.3" cy="485.0" r="1.78"/><circle cx="171.6" cy="515.8" r="1.78"/><circle cx="152.3" cy="493.7" r="1.78"/><circle cx="152.6" cy="516.6" r="1.78"/><circle cx="163.6" cy="479.3" r="1.78"/><circle cx="144.8" cy="488.6" r="1.78"/><circle cx="171.4" cy="512.8" r="1.78"/><circle cx="142.2" cy="487.3" r="1.78"/><circle cx="147.5" cy="508.4" r="1.78"/><circle cx="159.8" cy="485.3" r="1.78"/><circle cx="154.8" cy="480.7" r="1.78"/><circle cx="161.5" cy="476.2" r="1.78"/><circle cx="146.8" cy="508.4" r="1.78"/><circle cx="154.0" cy="494.5" r="1.78"/><circle cx="159.9" cy="494.1" r="1.78"/><circle cx="166.9" cy="490.3" r="1.78"/><circle cx="159.8" cy="512.7" r="1.78"/><circle cx="147.7" cy="476.3" r="1.78"/><circle cx="173.1" cy="494.3" r="1.78"/><circle cx="176.0" cy="498.0" r="1.78"/><circle cx="147.1" cy="481.9" r="1.78"/><circle cx="156.4" cy="477.4" r="1.78"/><circle cx="172.0" cy="491.4" r="1.78"/><circle cx="174.8" cy="496.7" r="1.78"/><circle cx="150.3" cy="481.1" r="1.78"/><circle cx="145.7" cy="472.9" r="1.78"/><circle cx="141.5" cy="468.4" r="1.78"/><circle cx="166.3" cy="514.9" r="1.78"/><circle cx="162.2" cy="495.3" r="1.78"/><circle cx="164.5" cy="486.4" r="1.78"/><circle cx="161.1" cy="509.4" r="1.78"/><circle cx="154.3" cy="504.8" r="1.78"/><circle cx="165.9" cy="505.5" r="1.78"/><circle cx="174.5" cy="516.2" r="1.78"/><circle cx="164.6" cy="512.9" r="1.78"/><circle cx="159.9" cy="500.1" r="1.78"/><circle cx="152.0" cy="486.1" r="1.78"/><circle cx="156.0" cy="479.4" r="1.78"/><circle cx="160.7" cy="492.8" r="1.78"/><circle cx="154.0" cy="496.5" r="1.78"/><circle cx="170.3" cy="485.4" r="1.78"/><circle cx="159.4" cy="490.8" r="1.78"/><circle cx="182.1" cy="507.3" r="1.78"/><circle cx="164.1" cy="485.9" r="1.78"/><circle cx="162.0" cy="501.7" r="1.78"/><circle cx="148.0" cy="498.7" r="1.78"/><circle cx="169.7" cy="494.0" r="1.78"/><circle cx="170.3" cy="505.6" r="1.78"/><circle cx="159.3" cy="482.4" r="1.78"/><circle cx="145.2" cy="505.0" r="1.78"/><circle cx="153.7" cy="482.6" r="1.78"/><circle cx="172.9" cy="504.8" r="1.78"/><circle cx="143.9" cy="478.1" r="1.78"/><circle cx="156.5" cy="505.9" r="1.78"/><circle cx="169.7" cy="520.6" r="1.78"/><circle cx="149.2" cy="500.4" r="1.78"/><circle cx="160.8" cy="497.2" r="1.78"/><circle cx="167.4" cy="489.5" r="1.78"/><circle cx="162.0" cy="481.1" r="1.78"/><circle cx="162.7" cy="478.9" r="1.78"/><circle cx="172.0" cy="516.1" r="1.78"/><circle cx="159.3" cy="485.6" r="1.78"/><circle cx="173.2" cy="481.5" r="1.78"/><circle cx="162.9" cy="479.8" r="1.78"/><circle cx="148.2" cy="504.7" r="1.78"/><circle cx="168.3" cy="508.9" r="1.78"/><circle cx="178.6" cy="508.8" r="1.78"/><circle cx="144.9" cy="469.4" r="1.78"/><circle cx="155.7" cy="470.0" r="1.78"/><circle cx="146.9" cy="492.4" r="1.78"/><circle cx="158.9" cy="508.9" r="1.78"/><circle cx="176.8" cy="517.5" r="1.78"/><circle cx="172.2" cy="512.8" r="1.78"/><circle cx="168.8" cy="482.6" r="1.78"/><circle cx="168.0" cy="476.6" r="1.78"/><circle cx="171.4" cy="478.8" r="1.78"/><circle cx="171.4" cy="518.1" r="1.78"/><circle cx="146.8" cy="504.0" r="1.78"/><circle cx="166.8" cy="501.8" r="1.78"/><circle cx="153.6" cy="516.0" r="1.78"/><circle cx="162.6" cy="478.2" r="1.78"/><circle cx="163.0" cy="499.0" r="1.78"/><circle cx="154.9" cy="517.0" r="1.78"/><circle cx="169.7" cy="477.4" r="1.78"/><circle cx="166.6" cy="479.9" r="1.78"/><circle cx="179.6" cy="496.2" r="1.78"/><circle cx="155.2" cy="506.3" r="1.78"/><circle cx="164.8" cy="494.5" r="1.78"/><circle cx="151.9" cy="484.0" r="1.78"/><circle cx="153.6" cy="477.2" r="1.78"/><circle cx="121.6" cy="452.2" r="1.78"/><circle cx="142.5" cy="461.1" r="1.78"/><circle cx="172.4" cy="462.1" r="1.78"/><circle cx="145.2" cy="474.9" r="1.78"/><circle cx="149.3" cy="460.9" r="1.78"/><circle cx="165.7" cy="478.6" r="1.78"/><circle cx="160.7" cy="466.0" r="1.78"/><circle cx="153.6" cy="459.7" r="1.78"/><circle cx="148.2" cy="475.6" r="1.78"/><circle cx="148.7" cy="437.8" r="1.78"/><circle cx="168.0" cy="462.0" r="1.78"/><circle cx="160.8" cy="453.2" r="1.78"/><circle cx="175.6" cy="483.7" r="1.78"/><circle cx="135.7" cy="472.7" r="1.78"/><circle cx="152.5" cy="464.0" r="1.78"/><circle cx="164.0" cy="488.0" r="1.78"/><circle cx="159.1" cy="484.4" r="1.78"/><circle cx="162.8" cy="490.4" r="1.78"/><circle cx="137.4" cy="460.3" r="1.78"/><circle cx="157.8" cy="461.7" r="1.78"/><circle cx="169.0" cy="463.3" r="1.78"/><circle cx="171.8" cy="459.1" r="1.78"/><circle cx="125.8" cy="443.8" r="1.78"/><circle cx="140.3" cy="459.7" r="1.78"/><circle cx="140.5" cy="453.9" r="1.78"/><circle cx="168.2" cy="468.8" r="1.78"/><circle cx="137.6" cy="420.0" r="1.78"/><circle cx="137.6" cy="425.3" r="1.78"/><circle cx="113.7" cy="481.3" r="1.78"/><circle cx="120.3" cy="507.9" r="1.78"/><circle cx="144.3" cy="515.9" r="1.78"/><circle cx="147.0" cy="530.6" r="1.78"/><circle cx="156.3" cy="543.9" r="1.78"/><circle cx="166.9" cy="543.9" r="1.78"/><circle cx="166.9" cy="535.9" r="1.78"/><circle cx="180.3" cy="526.6" r="1.78"/><circle cx="177.6" cy="534.6" r="1.78"/><circle cx="182.9" cy="551.9" r="1.78"/><circle cx="194.9" cy="546.6" r="1.78"/><circle cx="193.6" cy="529.2" r="1.78"/><circle cx="200.2" cy="535.9" r="1.78"/><circle cx="196.3" cy="514.6" r="1.78"/><circle cx="192.3" cy="498.6" r="1.78"/><circle cx="190.9" cy="479.9" r="1.78"/><circle cx="196.3" cy="473.3" r="1.78"/><circle cx="188.3" cy="464.0" r="1.78"/><circle cx="181.6" cy="458.6" r="1.78"/><circle cx="173.6" cy="437.3" r="1.78"/><circle cx="200.2" cy="550.5" r="1.78"/><circle cx="209.6" cy="523.9" r="1.78"/><circle cx="170.0" cy="530.0" r="1.78"/><circle cx="160.0" cy="525.0" r="1.78"/><circle cx="187.0" cy="520.0" r="1.78"/></g>
<g fill="#11733d"><circle cx="188.3" cy="462.6" r="1.78"/><circle cx="186.9" cy="470.6" r="1.78"/><circle cx="174.9" cy="479.9" r="1.78"/><circle cx="180.3" cy="491.9" r="1.78"/><circle cx="161.6" cy="494.6" r="1.78"/><circle cx="166.9" cy="502.6" r="1.78"/><circle cx="172.3" cy="501.3" r="1.78"/><circle cx="169.6" cy="507.9" r="1.78"/><circle cx="174.9" cy="517.2" r="1.78"/><circle cx="170.9" cy="518.6" r="1.78"/><circle cx="182.9" cy="518.6" r="1.78"/><circle cx="188.3" cy="509.2" r="1.78"/><circle cx="193.6" cy="509.2" r="1.78"/><circle cx="204.2" cy="513.2" r="1.78"/><circle cx="210.9" cy="505.2" r="1.78"/><circle cx="217.6" cy="498.6" r="1.78"/><circle cx="224.2" cy="499.9" r="1.78"/><circle cx="212.2" cy="517.2" r="1.78"/><circle cx="208.2" cy="526.6" r="1.78"/><circle cx="200.2" cy="534.6" r="1.78"/><circle cx="194.9" cy="541.2" r="1.78"/><circle cx="216.2" cy="543.9" r="1.78"/><circle cx="205.6" cy="550.5" r="1.78"/><circle cx="159.0" cy="545.2" r="1.78"/><circle cx="178.9" cy="559.9" r="1.78"/><circle cx="151.0" cy="510.6" r="1.78"/><circle cx="129.6" cy="474.6" r="1.78"/><circle cx="165.0" cy="485.0" r="1.78"/><circle cx="178.0" cy="505.0" r="1.78"/><circle cx="160.0" cy="515.0" r="1.78"/></g>
<path d="M122.75,404.15 L121.15,404.83 L119.62,405.68 L118.17,406.71 L116.79,407.90 L115.49,409.26 L114.27,410.78 L113.14,412.46 L112.10,414.29 L111.15,416.27 L110.30,418.40 L109.55,420.66 L108.89,423.05 L108.34,425.57 L107.89,428.20 L107.55,430.94 L107.31,433.79 L107.18,436.73 L107.15,439.76 L107.23,442.86 L107.42,446.04 L107.71,449.28 L108.11,452.57 L108.61,455.90 L109.22,459.27 L109.92,462.66 L110.73,466.07 L111.63,469.48 L112.62,472.89 L113.71,476.29 L114.88,479.67 L116.14,483.01 L117.49,486.32 L118.91,489.58 L120.40,492.78 L121.97,495.91 L123.60,498.97 L125.29,501.94 L127.04,504.82 L128.84,507.60 L130.69,510.28 L132.58,512.84 L134.51,515.27 L136.47,517.58 L138.45,519.75 L140.46,521.79 L142.48,523.67 L144.51,525.41 L146.54,526.99 L148.58,528.41 L150.60,529.66 L152.62,530.75 L154.61,531.66 L156.59,532.40 L158.53,532.97 L160.44,533.36 L162.31,533.57 L164.13,533.60 L165.91,533.45 L167.63,533.13 L169.29,532.63 L170.89,531.95 L172.42,531.10 L173.87,530.07 L175.25,528.88 L176.55,527.52 L177.77,526.00 L178.90,524.32 L179.94,522.49 L180.89,520.51 L181.74,518.38 L182.49,516.12 L183.15,513.73 L183.70,511.21 L184.15,508.58 L184.49,505.84 L184.73,502.99 L184.86,500.05 L184.89,497.02 L184.81,493.92 L184.62,490.74 L184.33,487.50 L183.93,484.21 L183.43,480.88 L182.82,477.51 L182.12,474.12 L181.31,470.71 L180.41,467.30 L179.42,463.89 L178.33,460.49 L177.16,457.11 L175.90,453.77 L174.55,450.46 L173.13,447.20 L171.64,444.00 L170.07,440.87 L168.44,437.81 L166.75,434.84 L165.00,431.96 L163.20,429.18 L161.35,426.50 L159.46,423.94 L157.53,421.51 L155.57,419.20 L153.59,417.03 L151.58,414.99 L149.56,413.11 L147.53,411.37 L145.50,409.79 L143.46,408.37 L141.44,407.12 L139.42,406.03 L137.43,405.12 L135.45,404.38 L133.51,403.81 L131.60,403.42 L129.73,403.21 L127.91,403.18 L126.13,403.33 L124.41,403.65Z" fill="none" stroke="#1a1a1a" stroke-width="1.45"/>
<path d="M133.37,414.81 L131.39,415.68 L129.48,416.75 L127.67,418.03 L125.95,419.49 L124.33,421.15 L122.81,423.00 L121.40,425.03 L120.09,427.24 L118.90,429.62 L117.83,432.17 L116.88,434.87 L116.05,437.73 L115.35,440.72 L114.78,443.85 L114.33,447.11 L114.01,450.48 L113.83,453.96 L113.77,457.54 L113.85,461.21 L114.05,464.96 L114.39,468.77 L114.86,472.64 L115.46,476.56 L116.18,480.51 L117.03,484.49 L118.00,488.49 L119.09,492.48 L120.30,496.47 L121.62,500.45 L123.05,504.39 L124.58,508.29 L126.22,512.14 L127.96,515.93 L129.79,519.65 L131.70,523.29 L133.70,526.83 L135.77,530.27 L137.92,533.61 L140.13,536.82 L142.40,539.90 L144.73,542.85 L147.10,545.65 L149.51,548.29 L151.95,550.78 L154.42,553.10 L156.91,555.24 L159.41,557.21 L161.92,558.99 L164.43,560.58 L166.93,561.98 L169.42,563.18 L171.89,564.18 L174.33,564.97 L176.73,565.56 L179.09,565.94 L181.41,566.11 L183.67,566.07 L185.87,565.82 L188.01,565.37 L190.07,564.71 L192.05,563.84 L193.96,562.77 L195.77,561.49 L197.49,560.03 L199.11,558.37 L200.63,556.52 L202.04,554.49 L203.35,552.28 L204.54,549.90 L205.61,547.35 L206.56,544.65 L207.39,541.79 L208.09,538.80 L208.66,535.67 L209.11,532.41 L209.43,529.04 L209.61,525.56 L209.67,521.98 L209.59,518.31 L209.39,514.56 L209.05,510.75 L208.58,506.88 L207.98,502.96 L207.26,499.01 L206.41,495.03 L205.44,491.03 L204.35,487.04 L203.14,483.05 L201.82,479.07 L200.39,475.13 L198.86,471.23 L197.22,467.38 L195.48,463.59 L193.65,459.87 L191.74,456.23 L189.74,452.69 L187.67,449.25 L185.52,445.91 L183.31,442.70 L181.04,439.62 L178.71,436.67 L176.34,433.87 L173.93,431.23 L171.49,428.74 L169.02,426.42 L166.53,424.28 L164.03,422.31 L161.52,420.53 L159.01,418.94 L156.51,417.54 L154.02,416.34 L151.55,415.34 L149.11,414.55 L146.71,413.96 L144.35,413.58 L142.03,413.41 L139.77,413.45 L137.57,413.70 L135.43,414.15Z" fill="none" stroke="#d6462e" stroke-width="1.45"/>
<path d="M163.35,434.52 L161.21,435.10 L159.11,435.90 L157.08,436.90 L155.11,438.10 L153.21,439.51 L151.38,441.12 L149.63,442.92 L147.97,444.90 L146.40,447.07 L144.91,449.42 L143.53,451.94 L142.25,454.62 L141.07,457.46 L140.00,460.45 L139.03,463.58 L138.19,466.84 L137.46,470.22 L136.84,473.71 L136.35,477.31 L135.97,481.01 L135.72,484.79 L135.59,488.64 L135.58,492.55 L135.70,496.52 L135.93,500.53 L136.29,504.57 L136.77,508.63 L137.37,512.70 L138.09,516.76 L138.92,520.81 L139.87,524.84 L140.93,528.83 L142.10,532.77 L143.37,536.66 L144.74,540.47 L146.21,544.21 L147.77,547.86 L149.42,551.41 L151.16,554.85 L152.98,558.17 L154.87,561.36 L156.83,564.42 L158.86,567.34 L160.95,570.10 L163.09,572.70 L165.27,575.13 L167.50,577.39 L169.76,579.47 L172.06,581.37 L174.37,583.07 L176.70,584.58 L179.04,585.89 L181.39,586.99 L183.73,587.89 L186.06,588.58 L188.38,589.05 L190.68,589.32 L192.94,589.37 L195.18,589.21 L197.37,588.84 L199.51,588.26 L201.61,587.46 L203.64,586.46 L205.61,585.26 L207.51,583.85 L209.34,582.24 L211.09,580.44 L212.75,578.46 L214.32,576.29 L215.81,573.94 L217.19,571.42 L218.47,568.74 L219.65,565.90 L220.72,562.91 L221.69,559.78 L222.53,556.52 L223.26,553.14 L223.88,549.65 L224.37,546.05 L224.75,542.35 L225.00,538.57 L225.13,534.72 L225.14,530.81 L225.02,526.84 L224.79,522.83 L224.43,518.79 L223.95,514.73 L223.35,510.66 L222.63,506.60 L221.80,502.55 L220.85,498.52 L219.79,494.53 L218.62,490.59 L217.35,486.70 L215.98,482.89 L214.51,479.15 L212.95,475.50 L211.30,471.95 L209.56,468.51 L207.74,465.19 L205.85,462.00 L203.89,458.94 L201.86,456.02 L199.77,453.26 L197.63,450.66 L195.45,448.23 L193.22,445.97 L190.96,443.89 L188.66,441.99 L186.35,440.29 L184.02,438.78 L181.68,437.47 L179.33,436.37 L176.99,435.47 L174.66,434.78 L172.34,434.31 L170.04,434.04 L167.78,433.99 L165.54,434.15Z" fill="none" stroke="#1d8a46" stroke-width="1.45"/>
</g>
<rect x="52" y="350.8" width="268.6" height="282.3" fill="none" stroke="#787878" stroke-width="1.9"/>
<clipPath id="cpd"><rect x="399" y="350.1" width="268.5" height="282.29999999999995"/></clipPath>
<g clip-path="url(#cpd)">
<line x1="493.4" y1="350.1" x2="493.4" y2="632.4" stroke="#8a8a8a" stroke-width="1" stroke-dasharray="4 3.4"/>
<line x1="508.4" y1="350.1" x2="508.4" y2="632.4" stroke="#ea8a70" stroke-width="1" stroke-dasharray="4 3.4"/>
<line x1="527.4" y1="350.1" x2="527.4" y2="632.4" stroke="#6cbf7c" stroke-width="1" stroke-dasharray="4 3.4"/>
<line x1="399" y1="436.9" x2="667.5" y2="436.9" stroke="#8a8a8a" stroke-width="1" stroke-dasharray="4 3.4"/>
<line x1="399" y1="464.4" x2="667.5" y2="464.4" stroke="#ea8a70" stroke-width="1" stroke-dasharray="4 3.4"/>
<line x1="399" y1="499.9" x2="667.5" y2="499.9" stroke="#6cbf7c" stroke-width="1" stroke-dasharray="4 3.4"/>
<g fill="#0a0a0a"><circle cx="500.2" cy="428.0" r="1.78"/><circle cx="486.2" cy="421.8" r="1.78"/><circle cx="507.6" cy="467.3" r="1.78"/><circle cx="491.1" cy="446.2" r="1.78"/><circle cx="473.0" cy="424.6" r="1.78"/><circle cx="488.9" cy="397.5" r="1.78"/><circle cx="508.8" cy="450.4" r="1.78"/><circle cx="511.1" cy="464.3" r="1.78"/><circle cx="492.7" cy="440.5" r="1.78"/><circle cx="487.3" cy="392.7" r="1.78"/><circle cx="495.3" cy="471.0" r="1.78"/><circle cx="484.0" cy="459.2" r="1.78"/><circle cx="492.7" cy="428.5" r="1.78"/><circle cx="473.7" cy="396.7" r="1.78"/><circle cx="491.3" cy="454.8" r="1.78"/><circle cx="507.5" cy="479.0" r="1.78"/><circle cx="510.0" cy="469.9" r="1.78"/><circle cx="504.9" cy="452.1" r="1.78"/><circle cx="496.9" cy="466.6" r="1.78"/><circle cx="486.9" cy="454.8" r="1.78"/><circle cx="482.3" cy="420.4" r="1.78"/><circle cx="491.6" cy="410.1" r="1.78"/><circle cx="490.2" cy="419.2" r="1.78"/><circle cx="489.5" cy="409.9" r="1.78"/><circle cx="474.1" cy="389.3" r="1.78"/><circle cx="493.9" cy="425.7" r="1.78"/><circle cx="479.2" cy="414.3" r="1.78"/><circle cx="473.1" cy="440.1" r="1.78"/><circle cx="477.7" cy="398.4" r="1.78"/><circle cx="506.2" cy="423.2" r="1.78"/><circle cx="480.9" cy="424.8" r="1.78"/><circle cx="486.2" cy="399.4" r="1.78"/><circle cx="493.2" cy="409.2" r="1.78"/><circle cx="471.9" cy="421.7" r="1.78"/><circle cx="475.2" cy="445.5" r="1.78"/><circle cx="494.9" cy="416.7" r="1.78"/><circle cx="468.6" cy="430.6" r="1.78"/><circle cx="491.9" cy="415.5" r="1.78"/><circle cx="473.0" cy="442.8" r="1.78"/><circle cx="495.2" cy="434.2" r="1.78"/><circle cx="511.4" cy="442.8" r="1.78"/><circle cx="478.9" cy="418.6" r="1.78"/><circle cx="511.1" cy="436.1" r="1.78"/><circle cx="499.5" cy="451.7" r="1.78"/><circle cx="515.2" cy="467.9" r="1.78"/><circle cx="482.9" cy="409.8" r="1.78"/><circle cx="486.3" cy="441.7" r="1.78"/><circle cx="516.5" cy="467.9" r="1.78"/><circle cx="485.8" cy="429.4" r="1.78"/><circle cx="500.2" cy="459.5" r="1.78"/><circle cx="494.9" cy="464.2" r="1.78"/><circle cx="505.3" cy="421.6" r="1.78"/><circle cx="489.3" cy="407.2" r="1.78"/><circle cx="488.0" cy="437.7" r="1.78"/><circle cx="473.1" cy="393.8" r="1.78"/><circle cx="488.4" cy="460.0" r="1.78"/><circle cx="505.6" cy="477.9" r="1.78"/><circle cx="489.9" cy="437.2" r="1.78"/><circle cx="479.4" cy="451.3" r="1.78"/><circle cx="479.2" cy="442.4" r="1.78"/><circle cx="476.9" cy="419.8" r="1.78"/><circle cx="512.5" cy="438.2" r="1.78"/><circle cx="501.0" cy="472.9" r="1.78"/><circle cx="507.3" cy="470.1" r="1.78"/><circle cx="471.2" cy="406.3" r="1.78"/><circle cx="473.0" cy="449.2" r="1.78"/><circle cx="497.6" cy="431.2" r="1.78"/><circle cx="507.6" cy="446.4" r="1.78"/><circle cx="505.6" cy="444.5" r="1.78"/><circle cx="512.2" cy="459.5" r="1.78"/><circle cx="486.7" cy="433.3" r="1.78"/><circle cx="472.2" cy="388.2" r="1.78"/><circle cx="493.9" cy="454.1" r="1.78"/><circle cx="499.1" cy="456.1" r="1.78"/><circle cx="472.9" cy="396.8" r="1.78"/><circle cx="484.5" cy="444.1" r="1.78"/><circle cx="505.8" cy="435.4" r="1.78"/><circle cx="475.2" cy="404.7" r="1.78"/><circle cx="511.2" cy="425.0" r="1.78"/><circle cx="510.9" cy="426.1" r="1.78"/><circle cx="504.4" cy="431.0" r="1.78"/><circle cx="517.6" cy="460.3" r="1.78"/><circle cx="505.5" cy="442.7" r="1.78"/><circle cx="491.8" cy="447.8" r="1.78"/><circle cx="480.8" cy="406.0" r="1.78"/><circle cx="475.3" cy="434.3" r="1.78"/><circle cx="509.0" cy="454.0" r="1.78"/><circle cx="482.3" cy="441.5" r="1.78"/><circle cx="481.4" cy="403.1" r="1.78"/><circle cx="495.9" cy="456.0" r="1.78"/><circle cx="510.8" cy="470.7" r="1.78"/><circle cx="468.1" cy="423.3" r="1.78"/><circle cx="511.8" cy="459.3" r="1.78"/><circle cx="475.7" cy="452.6" r="1.78"/><circle cx="487.5" cy="415.8" r="1.78"/><circle cx="479.2" cy="429.6" r="1.78"/><circle cx="478.5" cy="399.3" r="1.78"/><circle cx="496.8" cy="457.8" r="1.78"/><circle cx="470.5" cy="399.1" r="1.78"/><circle cx="502.7" cy="431.9" r="1.78"/><circle cx="467.6" cy="419.3" r="1.78"/><circle cx="466.7" cy="418.9" r="1.78"/><circle cx="488.2" cy="419.6" r="1.78"/><circle cx="480.4" cy="413.8" r="1.78"/><circle cx="511.3" cy="472.1" r="1.78"/><circle cx="470.2" cy="408.8" r="1.78"/><circle cx="471.8" cy="405.2" r="1.78"/><circle cx="487.2" cy="390.8" r="1.78"/><circle cx="516.4" cy="470.8" r="1.78"/><circle cx="492.1" cy="465.9" r="1.78"/><circle cx="506.0" cy="458.1" r="1.78"/><circle cx="514.4" cy="442.4" r="1.78"/><circle cx="482.5" cy="444.8" r="1.78"/><circle cx="495.8" cy="437.2" r="1.78"/><circle cx="484.3" cy="424.3" r="1.78"/><circle cx="494.6" cy="450.0" r="1.78"/><circle cx="489.4" cy="401.3" r="1.78"/><circle cx="493.2" cy="429.7" r="1.78"/><circle cx="493.3" cy="427.3" r="1.78"/><circle cx="474.5" cy="404.7" r="1.78"/><circle cx="511.6" cy="458.3" r="1.78"/><circle cx="475.6" cy="415.0" r="1.78"/><circle cx="516.7" cy="472.2" r="1.78"/><circle cx="480.3" cy="429.1" r="1.78"/><circle cx="509.8" cy="460.2" r="1.78"/><circle cx="479.6" cy="386.6" r="1.78"/><circle cx="494.0" cy="418.7" r="1.78"/><circle cx="501.6" cy="474.2" r="1.78"/><circle cx="501.2" cy="461.9" r="1.78"/><circle cx="491.2" cy="459.9" r="1.78"/><circle cx="500.7" cy="430.2" r="1.78"/><circle cx="496.1" cy="447.9" r="1.78"/><circle cx="505.3" cy="458.8" r="1.78"/><circle cx="493.5" cy="443.2" r="1.78"/><circle cx="506.0" cy="432.3" r="1.78"/><circle cx="491.8" cy="448.8" r="1.78"/><circle cx="480.8" cy="397.2" r="1.78"/><circle cx="501.8" cy="466.1" r="1.78"/><circle cx="486.4" cy="420.4" r="1.78"/><circle cx="512.0" cy="447.6" r="1.78"/><circle cx="482.8" cy="412.4" r="1.78"/><circle cx="474.8" cy="403.0" r="1.78"/><circle cx="499.6" cy="434.1" r="1.78"/><circle cx="498.8" cy="429.3" r="1.78"/><circle cx="497.6" cy="430.6" r="1.78"/><circle cx="496.9" cy="450.8" r="1.78"/><circle cx="506.6" cy="420.6" r="1.78"/><circle cx="503.6" cy="424.4" r="1.78"/><circle cx="507.4" cy="428.7" r="1.78"/><circle cx="479.3" cy="417.0" r="1.78"/><circle cx="490.5" cy="433.4" r="1.78"/><circle cx="482.3" cy="436.5" r="1.78"/><circle cx="466.5" cy="408.2" r="1.78"/><circle cx="498.0" cy="415.2" r="1.78"/><circle cx="471.0" cy="388.5" r="1.78"/><circle cx="497.2" cy="467.6" r="1.78"/><circle cx="486.8" cy="421.1" r="1.78"/><circle cx="487.8" cy="417.7" r="1.78"/><circle cx="490.1" cy="443.0" r="1.78"/><circle cx="488.0" cy="410.1" r="1.78"/><circle cx="506.9" cy="421.4" r="1.78"/><circle cx="503.7" cy="463.6" r="1.78"/><circle cx="506.2" cy="462.4" r="1.78"/><circle cx="503.3" cy="416.0" r="1.78"/><circle cx="511.1" cy="425.5" r="1.78"/><circle cx="475.8" cy="446.9" r="1.78"/><circle cx="500.0" cy="423.3" r="1.78"/><circle cx="511.4" cy="425.0" r="1.78"/><circle cx="510.4" cy="436.6" r="1.78"/><circle cx="476.2" cy="403.1" r="1.78"/><circle cx="496.2" cy="447.2" r="1.78"/><circle cx="505.7" cy="416.2" r="1.78"/><circle cx="487.9" cy="443.5" r="1.78"/><circle cx="507.8" cy="433.8" r="1.78"/><circle cx="498.3" cy="411.1" r="1.78"/><circle cx="511.0" cy="435.1" r="1.78"/><circle cx="498.5" cy="408.7" r="1.78"/><circle cx="507.1" cy="443.0" r="1.78"/><circle cx="489.7" cy="425.6" r="1.78"/><circle cx="491.7" cy="394.9" r="1.78"/><circle cx="499.3" cy="439.4" r="1.78"/><circle cx="492.2" cy="423.0" r="1.78"/><circle cx="507.6" cy="427.1" r="1.78"/><circle cx="485.1" cy="404.5" r="1.78"/><circle cx="473.6" cy="418.0" r="1.78"/><circle cx="487.6" cy="424.2" r="1.78"/><circle cx="496.6" cy="440.2" r="1.78"/><circle cx="479.8" cy="443.0" r="1.78"/><circle cx="513.4" cy="438.0" r="1.78"/><circle cx="507.2" cy="414.0" r="1.78"/><circle cx="487.1" cy="422.8" r="1.78"/><circle cx="508.0" cy="453.6" r="1.78"/><circle cx="492.8" cy="397.0" r="1.78"/><circle cx="480.1" cy="409.2" r="1.78"/><circle cx="480.8" cy="402.8" r="1.78"/><circle cx="510.1" cy="470.6" r="1.78"/><circle cx="502.7" cy="472.5" r="1.78"/><circle cx="496.1" cy="446.6" r="1.78"/><circle cx="499.0" cy="408.4" r="1.78"/><circle cx="483.4" cy="458.0" r="1.78"/><circle cx="502.8" cy="469.4" r="1.78"/><circle cx="471.8" cy="429.1" r="1.78"/><circle cx="504.2" cy="418.3" r="1.78"/><circle cx="476.9" cy="434.9" r="1.78"/><circle cx="504.3" cy="471.0" r="1.78"/><circle cx="474.6" cy="417.1" r="1.78"/><circle cx="469.8" cy="429.1" r="1.78"/><circle cx="475.8" cy="428.4" r="1.78"/><circle cx="486.0" cy="393.9" r="1.78"/><circle cx="496.1" cy="419.0" r="1.78"/><circle cx="485.5" cy="437.8" r="1.78"/><circle cx="474.9" cy="443.0" r="1.78"/><circle cx="491.4" cy="399.6" r="1.78"/><circle cx="486.2" cy="402.4" r="1.78"/><circle cx="506.4" cy="470.9" r="1.78"/><circle cx="485.8" cy="424.8" r="1.78"/><circle cx="510.1" cy="420.6" r="1.78"/><circle cx="479.9" cy="455.5" r="1.78"/><circle cx="469.6" cy="395.5" r="1.78"/><circle cx="491.0" cy="461.0" r="1.78"/><circle cx="512.9" cy="445.4" r="1.78"/><circle cx="502.6" cy="435.5" r="1.78"/><circle cx="505.4" cy="475.6" r="1.78"/><circle cx="480.5" cy="448.1" r="1.78"/><circle cx="475.6" cy="400.4" r="1.78"/><circle cx="491.0" cy="439.4" r="1.78"/><circle cx="501.5" cy="431.6" r="1.78"/><circle cx="479.1" cy="422.9" r="1.78"/><circle cx="499.3" cy="465.3" r="1.78"/><circle cx="487.1" cy="401.1" r="1.78"/><circle cx="503.0" cy="419.3" r="1.78"/><circle cx="478.6" cy="427.2" r="1.78"/><circle cx="507.0" cy="440.1" r="1.78"/><circle cx="498.4" cy="462.6" r="1.78"/><circle cx="476.2" cy="442.9" r="1.78"/><circle cx="483.5" cy="445.7" r="1.78"/><circle cx="510.4" cy="438.9" r="1.78"/><circle cx="499.6" cy="435.7" r="1.78"/><circle cx="476.8" cy="396.3" r="1.78"/><circle cx="513.8" cy="474.7" r="1.78"/><circle cx="486.3" cy="437.0" r="1.78"/><circle cx="474.9" cy="445.9" r="1.78"/><circle cx="498.5" cy="425.4" r="1.78"/><circle cx="477.1" cy="439.5" r="1.78"/><circle cx="466.2" cy="399.9" r="1.78"/><circle cx="475.6" cy="442.8" r="1.78"/><circle cx="484.7" cy="392.6" r="1.78"/><circle cx="470.1" cy="422.9" r="1.78"/><circle cx="515.1" cy="454.4" r="1.78"/><circle cx="493.9" cy="446.0" r="1.78"/><circle cx="501.8" cy="445.8" r="1.78"/><circle cx="492.9" cy="414.5" r="1.78"/><circle cx="480.9" cy="415.0" r="1.78"/><circle cx="473.9" cy="405.1" r="1.78"/><circle cx="476.3" cy="420.8" r="1.78"/><circle cx="467.2" cy="416.1" r="1.78"/><circle cx="503.7" cy="463.5" r="1.78"/><circle cx="493.0" cy="431.7" r="1.78"/><circle cx="502.0" cy="436.8" r="1.78"/><circle cx="517.7" cy="460.8" r="1.78"/><circle cx="502.3" cy="410.2" r="1.78"/><circle cx="500.9" cy="445.5" r="1.78"/><circle cx="502.0" cy="449.0" r="1.78"/><circle cx="511.9" cy="429.7" r="1.78"/><circle cx="486.4" cy="427.3" r="1.78"/><circle cx="493.0" cy="426.4" r="1.78"/><circle cx="466.9" cy="410.5" r="1.78"/><circle cx="475.7" cy="393.4" r="1.78"/><circle cx="493.3" cy="429.2" r="1.78"/><circle cx="496.8" cy="413.7" r="1.78"/><circle cx="474.8" cy="434.2" r="1.78"/><circle cx="502.3" cy="456.4" r="1.78"/><circle cx="505.3" cy="460.2" r="1.78"/><circle cx="513.2" cy="453.7" r="1.78"/><circle cx="481.5" cy="401.1" r="1.78"/><circle cx="509.3" cy="478.1" r="1.78"/><circle cx="477.1" cy="387.5" r="1.78"/><circle cx="490.6" cy="442.4" r="1.78"/><circle cx="485.2" cy="426.3" r="1.78"/><circle cx="492.4" cy="441.0" r="1.78"/><circle cx="479.8" cy="420.0" r="1.78"/><circle cx="470.0" cy="427.0" r="1.78"/><circle cx="499.9" cy="413.2" r="1.78"/><circle cx="502.8" cy="444.9" r="1.78"/><circle cx="476.2" cy="428.7" r="1.78"/><circle cx="482.9" cy="420.5" r="1.78"/><circle cx="477.4" cy="390.2" r="1.78"/><circle cx="495.5" cy="403.9" r="1.78"/><circle cx="488.5" cy="413.1" r="1.78"/><circle cx="468.8" cy="409.1" r="1.78"/><circle cx="487.2" cy="434.2" r="1.78"/><circle cx="487.7" cy="396.0" r="1.78"/><circle cx="506.2" cy="447.3" r="1.78"/><circle cx="496.0" cy="401.3" r="1.78"/><circle cx="502.9" cy="429.5" r="1.78"/><circle cx="497.5" cy="451.4" r="1.78"/><circle cx="506.4" cy="460.6" r="1.78"/><circle cx="503.1" cy="459.6" r="1.78"/><circle cx="483.7" cy="431.4" r="1.78"/><circle cx="478.7" cy="422.1" r="1.78"/><circle cx="502.0" cy="421.9" r="1.78"/><circle cx="467.6" cy="409.9" r="1.78"/><circle cx="490.0" cy="423.7" r="1.78"/><circle cx="479.4" cy="390.6" r="1.78"/><circle cx="498.6" cy="433.4" r="1.78"/><circle cx="488.6" cy="406.3" r="1.78"/><circle cx="480.8" cy="439.2" r="1.78"/><circle cx="476.2" cy="387.4" r="1.78"/><circle cx="491.7" cy="408.2" r="1.78"/><circle cx="502.5" cy="448.8" r="1.78"/><circle cx="508.3" cy="457.6" r="1.78"/><circle cx="509.5" cy="436.9" r="1.78"/><circle cx="502.6" cy="449.4" r="1.78"/><circle cx="481.4" cy="444.0" r="1.78"/><circle cx="470.8" cy="435.1" r="1.78"/><circle cx="495.2" cy="428.9" r="1.78"/><circle cx="493.2" cy="449.9" r="1.78"/><circle cx="473.2" cy="406.7" r="1.78"/><circle cx="477.5" cy="414.9" r="1.78"/><circle cx="492.8" cy="406.3" r="1.78"/><circle cx="494.1" cy="414.4" r="1.78"/><circle cx="480.3" cy="428.6" r="1.78"/><circle cx="469.6" cy="395.1" r="1.78"/><circle cx="498.6" cy="426.7" r="1.78"/><circle cx="486.3" cy="447.9" r="1.78"/><circle cx="495.6" cy="406.8" r="1.78"/><circle cx="478.6" cy="400.9" r="1.78"/><circle cx="484.8" cy="414.6" r="1.78"/><circle cx="501.3" cy="441.8" r="1.78"/><circle cx="482.0" cy="421.8" r="1.78"/><circle cx="473.1" cy="404.2" r="1.78"/><circle cx="482.3" cy="396.1" r="1.78"/><circle cx="469.3" cy="422.3" r="1.78"/><circle cx="494.5" cy="412.8" r="1.78"/><circle cx="506.1" cy="420.2" r="1.78"/><circle cx="471.5" cy="418.0" r="1.78"/><circle cx="481.9" cy="394.6" r="1.78"/><circle cx="479.3" cy="421.1" r="1.78"/><circle cx="478.2" cy="420.9" r="1.78"/><circle cx="482.9" cy="423.1" r="1.78"/><circle cx="480.8" cy="458.5" r="1.78"/><circle cx="478.7" cy="426.9" r="1.78"/><circle cx="498.7" cy="450.6" r="1.78"/><circle cx="478.2" cy="440.2" r="1.78"/><circle cx="485.2" cy="397.8" r="1.78"/><circle cx="498.2" cy="415.6" r="1.78"/><circle cx="479.6" cy="420.1" r="1.78"/><circle cx="501.7" cy="403.9" r="1.78"/><circle cx="493.6" cy="415.2" r="1.78"/><circle cx="511.5" cy="449.3" r="1.78"/><circle cx="512.2" cy="432.8" r="1.78"/><circle cx="481.4" cy="393.6" r="1.78"/><circle cx="489.5" cy="426.6" r="1.78"/><circle cx="495.6" cy="405.4" r="1.78"/><circle cx="474.8" cy="398.5" r="1.78"/><circle cx="480.7" cy="390.3" r="1.78"/><circle cx="496.7" cy="423.7" r="1.78"/><circle cx="474.8" cy="424.2" r="1.78"/><circle cx="498.9" cy="462.5" r="1.78"/><circle cx="503.6" cy="436.4" r="1.78"/><circle cx="483.3" cy="441.2" r="1.78"/><circle cx="493.7" cy="438.0" r="1.78"/><circle cx="487.9" cy="414.9" r="1.78"/><circle cx="501.3" cy="418.3" r="1.78"/><circle cx="480.3" cy="429.6" r="1.78"/><circle cx="476.4" cy="405.8" r="1.78"/><circle cx="499.5" cy="406.0" r="1.78"/><circle cx="480.3" cy="389.7" r="1.78"/><circle cx="484.2" cy="393.5" r="1.78"/><circle cx="502.3" cy="426.8" r="1.78"/><circle cx="490.9" cy="436.0" r="1.78"/><circle cx="480.7" cy="426.1" r="1.78"/><circle cx="497.9" cy="429.0" r="1.78"/><circle cx="484.7" cy="421.8" r="1.78"/><circle cx="502.7" cy="433.2" r="1.78"/><circle cx="482.8" cy="432.3" r="1.78"/><circle cx="471.6" cy="415.2" r="1.78"/><circle cx="503.8" cy="459.8" r="1.78"/><circle cx="482.0" cy="425.6" r="1.78"/><circle cx="491.4" cy="441.1" r="1.78"/><circle cx="491.3" cy="462.9" r="1.78"/><circle cx="490.9" cy="457.9" r="1.78"/><circle cx="493.1" cy="421.2" r="1.78"/><circle cx="501.8" cy="462.4" r="1.78"/><circle cx="503.6" cy="454.9" r="1.78"/><circle cx="480.7" cy="407.7" r="1.78"/><circle cx="477.6" cy="406.3" r="1.78"/><circle cx="484.8" cy="439.1" r="1.78"/><circle cx="499.9" cy="411.7" r="1.78"/><circle cx="491.6" cy="409.1" r="1.78"/><circle cx="486.7" cy="421.6" r="1.78"/><circle cx="481.3" cy="415.9" r="1.78"/><circle cx="499.9" cy="474.0" r="1.78"/><circle cx="490.7" cy="452.9" r="1.78"/><circle cx="485.6" cy="430.3" r="1.78"/><circle cx="491.6" cy="397.8" r="1.78"/><circle cx="472.7" cy="426.4" r="1.78"/><circle cx="502.6" cy="450.3" r="1.78"/><circle cx="494.8" cy="448.3" r="1.78"/><circle cx="468.2" cy="412.3" r="1.78"/><circle cx="500.5" cy="420.5" r="1.78"/><circle cx="490.2" cy="436.5" r="1.78"/><circle cx="472.8" cy="432.2" r="1.78"/><circle cx="502.1" cy="465.2" r="1.78"/><circle cx="509.2" cy="442.0" r="1.78"/><circle cx="467.6" cy="393.1" r="1.78"/><circle cx="505.7" cy="451.0" r="1.78"/><circle cx="472.3" cy="398.7" r="1.78"/><circle cx="486.9" cy="454.3" r="1.78"/><circle cx="475.2" cy="392.5" r="1.78"/><circle cx="482.1" cy="409.4" r="1.78"/><circle cx="498.6" cy="450.1" r="1.78"/><circle cx="502.4" cy="428.8" r="1.78"/><circle cx="487.7" cy="400.7" r="1.78"/><circle cx="487.6" cy="413.9" r="1.78"/><circle cx="479.0" cy="430.5" r="1.78"/><circle cx="515.5" cy="460.7" r="1.78"/><circle cx="500.5" cy="437.1" r="1.78"/><circle cx="473.6" cy="437.0" r="1.78"/><circle cx="490.5" cy="464.3" r="1.78"/><circle cx="505.6" cy="472.8" r="1.78"/><circle cx="491.3" cy="467.1" r="1.78"/><circle cx="477.3" cy="410.8" r="1.78"/><circle cx="476.6" cy="432.0" r="1.78"/><circle cx="474.6" cy="414.7" r="1.78"/><circle cx="482.9" cy="455.4" r="1.78"/><circle cx="470.6" cy="436.1" r="1.78"/><circle cx="475.1" cy="426.8" r="1.78"/><circle cx="467.4" cy="429.2" r="1.78"/><circle cx="480.8" cy="394.3" r="1.78"/><circle cx="482.3" cy="361.6" r="1.78"/><circle cx="456.1" cy="369.6" r="1.78"/><circle cx="453.1" cy="372.2" r="1.78"/><circle cx="473.6" cy="374.0" r="1.78"/><circle cx="480.1" cy="374.7" r="1.78"/><circle cx="484.5" cy="370.3" r="1.78"/><circle cx="491.8" cy="366.0" r="1.78"/><circle cx="495.5" cy="367.4" r="1.78"/><circle cx="494.0" cy="369.6" r="1.78"/><circle cx="485.3" cy="374.7" r="1.78"/><circle cx="474.3" cy="377.6" r="1.78"/><circle cx="496.9" cy="379.1" r="1.78"/><circle cx="503.5" cy="376.2" r="1.78"/><circle cx="489.6" cy="382.0" r="1.78"/><circle cx="463.4" cy="377.6" r="1.78"/><circle cx="475.8" cy="384.2" r="1.78"/><circle cx="487.4" cy="385.7" r="1.78"/><circle cx="455.3" cy="388.6" r="1.78"/><circle cx="463.4" cy="389.3" r="1.78"/><circle cx="466.3" cy="388.6" r="1.78"/><circle cx="491.1" cy="389.3" r="1.78"/><circle cx="494.0" cy="393.0" r="1.78"/><circle cx="499.9" cy="395.9" r="1.78"/><circle cx="507.2" cy="395.1" r="1.78"/><circle cx="511.5" cy="393.7" r="1.78"/><circle cx="504.2" cy="401.7" r="1.78"/><circle cx="508.6" cy="401.7" r="1.78"/><circle cx="495.5" cy="401.0" r="1.78"/><circle cx="502.8" cy="410.5" r="1.78"/><circle cx="506.4" cy="409.7" r="1.78"/><circle cx="460.4" cy="409.7" r="1.78"/><circle cx="457.5" cy="417.8" r="1.78"/><circle cx="459.7" cy="393.7" r="1.78"/><circle cx="527.0" cy="418.9" r="1.78"/><circle cx="535.3" cy="422.5" r="1.78"/><circle cx="465.5" cy="448.5" r="1.78"/><circle cx="471.4" cy="454.4" r="1.78"/><circle cx="478.5" cy="459.1" r="1.78"/><circle cx="485.6" cy="478.1" r="1.78"/><circle cx="486.8" cy="497.0" r="1.78"/><circle cx="492.7" cy="499.4" r="1.78"/><circle cx="492.7" cy="504.1" r="1.78"/><circle cx="519.9" cy="499.4" r="1.78"/><circle cx="529.4" cy="506.5" r="1.78"/><circle cx="486.3" cy="497.6" r="1.78"/><circle cx="492.8" cy="504.2" r="1.78"/><circle cx="524.4" cy="505.5" r="1.78"/><circle cx="527.0" cy="501.5" r="1.78"/><circle cx="460.2" cy="433.1" r="1.78"/><circle cx="467.5" cy="436.1" r="1.78"/><circle cx="465.3" cy="449.2" r="1.78"/><circle cx="470.4" cy="453.6" r="1.78"/><circle cx="477.0" cy="458.7" r="1.78"/><circle cx="486.5" cy="474.7" r="1.78"/><circle cx="534.7" cy="422.2" r="1.78"/><circle cx="533.9" cy="476.2" r="1.78"/><circle cx="529.6" cy="486.4" r="1.78"/><circle cx="521.5" cy="466.7" r="1.78"/><circle cx="518.6" cy="454.3" r="1.78"/></g>
<g fill="#d03a2a"><circle cx="507.4" cy="438.3" r="1.78"/><circle cx="477.6" cy="422.3" r="1.78"/><circle cx="496.9" cy="463.0" r="1.78"/><circle cx="512.2" cy="450.9" r="1.78"/><circle cx="506.4" cy="473.9" r="1.78"/><circle cx="509.4" cy="452.8" r="1.78"/><circle cx="513.9" cy="476.8" r="1.78"/><circle cx="498.0" cy="446.0" r="1.78"/><circle cx="503.7" cy="448.4" r="1.78"/><circle cx="481.1" cy="428.0" r="1.78"/><circle cx="503.2" cy="441.5" r="1.78"/><circle cx="501.0" cy="465.2" r="1.78"/><circle cx="494.4" cy="444.2" r="1.78"/><circle cx="499.7" cy="430.5" r="1.78"/><circle cx="497.2" cy="474.4" r="1.78"/><circle cx="507.9" cy="468.8" r="1.78"/><circle cx="479.4" cy="412.2" r="1.78"/><circle cx="494.7" cy="454.1" r="1.78"/><circle cx="504.9" cy="469.5" r="1.78"/><circle cx="493.5" cy="427.2" r="1.78"/><circle cx="484.4" cy="418.9" r="1.78"/><circle cx="494.0" cy="419.9" r="1.78"/><circle cx="496.7" cy="455.0" r="1.78"/><circle cx="494.0" cy="457.8" r="1.78"/><circle cx="507.7" cy="444.2" r="1.78"/><circle cx="500.5" cy="433.4" r="1.78"/><circle cx="485.9" cy="439.6" r="1.78"/><circle cx="483.6" cy="430.1" r="1.78"/><circle cx="492.3" cy="443.2" r="1.78"/><circle cx="506.5" cy="444.0" r="1.78"/><circle cx="498.0" cy="464.3" r="1.78"/><circle cx="482.5" cy="417.5" r="1.78"/><circle cx="501.5" cy="471.6" r="1.78"/><circle cx="489.7" cy="439.4" r="1.78"/><circle cx="510.2" cy="449.5" r="1.78"/><circle cx="501.6" cy="460.4" r="1.78"/><circle cx="498.5" cy="422.5" r="1.78"/><circle cx="500.2" cy="434.0" r="1.78"/><circle cx="508.3" cy="472.4" r="1.78"/><circle cx="500.2" cy="450.6" r="1.78"/><circle cx="485.5" cy="456.1" r="1.78"/><circle cx="504.0" cy="437.5" r="1.78"/><circle cx="478.4" cy="414.6" r="1.78"/><circle cx="508.8" cy="449.8" r="1.78"/><circle cx="498.4" cy="450.4" r="1.78"/><circle cx="497.8" cy="464.0" r="1.78"/><circle cx="493.1" cy="442.7" r="1.78"/><circle cx="491.7" cy="451.1" r="1.78"/><circle cx="490.5" cy="412.3" r="1.78"/><circle cx="489.6" cy="435.1" r="1.78"/><circle cx="484.4" cy="450.5" r="1.78"/><circle cx="504.6" cy="431.8" r="1.78"/><circle cx="494.8" cy="416.5" r="1.78"/><circle cx="504.0" cy="452.0" r="1.78"/><circle cx="503.9" cy="456.8" r="1.78"/><circle cx="481.9" cy="451.7" r="1.78"/><circle cx="482.4" cy="412.7" r="1.78"/><circle cx="494.7" cy="447.9" r="1.78"/><circle cx="488.4" cy="436.0" r="1.78"/><circle cx="513.7" cy="458.2" r="1.78"/><circle cx="500.0" cy="478.9" r="1.78"/><circle cx="507.9" cy="444.9" r="1.78"/><circle cx="512.9" cy="470.0" r="1.78"/><circle cx="489.5" cy="445.8" r="1.78"/><circle cx="511.8" cy="472.3" r="1.78"/><circle cx="484.3" cy="430.3" r="1.78"/><circle cx="508.7" cy="476.4" r="1.78"/><circle cx="489.6" cy="446.7" r="1.78"/><circle cx="497.8" cy="458.5" r="1.78"/><circle cx="487.7" cy="434.0" r="1.78"/><circle cx="514.1" cy="471.9" r="1.78"/><circle cx="503.6" cy="474.0" r="1.78"/><circle cx="486.5" cy="415.6" r="1.78"/><circle cx="496.0" cy="467.4" r="1.78"/><circle cx="517.5" cy="458.6" r="1.78"/><circle cx="495.6" cy="467.7" r="1.78"/><circle cx="480.1" cy="429.0" r="1.78"/><circle cx="503.7" cy="476.7" r="1.78"/><circle cx="502.5" cy="478.5" r="1.78"/><circle cx="518.3" cy="466.5" r="1.78"/><circle cx="518.0" cy="468.3" r="1.78"/><circle cx="505.8" cy="448.7" r="1.78"/><circle cx="493.1" cy="434.2" r="1.78"/><circle cx="486.2" cy="428.4" r="1.78"/><circle cx="509.2" cy="465.5" r="1.78"/><circle cx="477.8" cy="417.4" r="1.78"/><circle cx="502.6" cy="435.3" r="1.78"/><circle cx="481.6" cy="412.8" r="1.78"/><circle cx="483.2" cy="446.2" r="1.78"/><circle cx="484.8" cy="446.7" r="1.78"/><circle cx="507.7" cy="441.4" r="1.78"/><circle cx="498.2" cy="455.6" r="1.78"/><circle cx="499.8" cy="468.3" r="1.78"/><circle cx="498.0" cy="455.8" r="1.78"/><circle cx="504.4" cy="445.1" r="1.78"/><circle cx="505.6" cy="470.4" r="1.78"/><circle cx="491.9" cy="421.2" r="1.78"/><circle cx="496.6" cy="451.9" r="1.78"/><circle cx="509.9" cy="483.3" r="1.78"/><circle cx="492.6" cy="459.5" r="1.78"/><circle cx="490.8" cy="428.2" r="1.78"/><circle cx="497.5" cy="472.6" r="1.78"/><circle cx="509.8" cy="469.8" r="1.78"/><circle cx="493.4" cy="453.7" r="1.78"/><circle cx="500.2" cy="460.3" r="1.78"/><circle cx="503.1" cy="440.5" r="1.78"/><circle cx="501.4" cy="461.2" r="1.78"/><circle cx="511.3" cy="474.3" r="1.78"/><circle cx="512.8" cy="441.0" r="1.78"/><circle cx="494.9" cy="430.2" r="1.78"/><circle cx="494.2" cy="437.1" r="1.78"/><circle cx="492.7" cy="442.0" r="1.78"/><circle cx="497.8" cy="434.9" r="1.78"/><circle cx="507.0" cy="442.9" r="1.78"/><circle cx="496.7" cy="452.5" r="1.78"/><circle cx="513.9" cy="455.5" r="1.78"/><circle cx="498.6" cy="472.7" r="1.78"/><circle cx="513.4" cy="450.8" r="1.78"/><circle cx="514.2" cy="478.1" r="1.78"/><circle cx="499.0" cy="439.0" r="1.78"/><circle cx="506.5" cy="470.7" r="1.78"/><circle cx="480.2" cy="444.8" r="1.78"/><circle cx="492.6" cy="432.7" r="1.78"/><circle cx="489.3" cy="446.1" r="1.78"/><circle cx="496.0" cy="464.7" r="1.78"/><circle cx="478.6" cy="430.6" r="1.78"/><circle cx="498.2" cy="439.4" r="1.78"/><circle cx="497.4" cy="457.7" r="1.78"/><circle cx="493.1" cy="445.7" r="1.78"/><circle cx="481.8" cy="430.5" r="1.78"/><circle cx="478.6" cy="424.1" r="1.78"/><circle cx="499.0" cy="441.2" r="1.78"/><circle cx="497.4" cy="470.2" r="1.78"/><circle cx="482.5" cy="419.3" r="1.78"/><circle cx="500.3" cy="477.5" r="1.78"/><circle cx="484.6" cy="458.6" r="1.78"/><circle cx="511.0" cy="454.4" r="1.78"/><circle cx="496.7" cy="473.1" r="1.78"/><circle cx="504.2" cy="430.1" r="1.78"/><circle cx="509.0" cy="476.7" r="1.78"/><circle cx="487.1" cy="440.1" r="1.78"/><circle cx="485.9" cy="444.9" r="1.78"/><circle cx="497.2" cy="433.0" r="1.78"/><circle cx="506.0" cy="480.3" r="1.78"/><circle cx="497.0" cy="418.1" r="1.78"/><circle cx="488.5" cy="423.9" r="1.78"/><circle cx="502.4" cy="475.1" r="1.78"/><circle cx="506.7" cy="440.7" r="1.78"/><circle cx="499.2" cy="426.9" r="1.78"/><circle cx="491.0" cy="467.4" r="1.78"/><circle cx="483.4" cy="446.6" r="1.78"/><circle cx="497.5" cy="440.7" r="1.78"/><circle cx="490.4" cy="464.5" r="1.78"/><circle cx="490.1" cy="450.6" r="1.78"/><circle cx="507.7" cy="480.0" r="1.78"/><circle cx="513.9" cy="447.8" r="1.78"/><circle cx="503.9" cy="426.2" r="1.78"/><circle cx="481.6" cy="451.3" r="1.78"/><circle cx="505.5" cy="441.9" r="1.78"/><circle cx="498.1" cy="433.3" r="1.78"/><circle cx="494.5" cy="443.9" r="1.78"/><circle cx="494.3" cy="428.6" r="1.78"/><circle cx="485.8" cy="460.5" r="1.78"/><circle cx="497.5" cy="474.2" r="1.78"/><circle cx="499.7" cy="445.6" r="1.78"/><circle cx="467.9" cy="394.0" r="1.78"/><circle cx="519.9" cy="418.9" r="1.78"/><circle cx="459.6" cy="465.1" r="1.78"/><circle cx="466.7" cy="465.1" r="1.78"/><circle cx="476.2" cy="471.0" r="1.78"/><circle cx="483.3" cy="475.7" r="1.78"/><circle cx="531.8" cy="459.1" r="1.78"/><circle cx="537.7" cy="468.6" r="1.78"/><circle cx="543.6" cy="473.3" r="1.78"/><circle cx="534.1" cy="479.3" r="1.78"/><circle cx="542.4" cy="489.9" r="1.78"/><circle cx="541.2" cy="497.0" r="1.78"/><circle cx="546.0" cy="501.7" r="1.78"/><circle cx="540.1" cy="508.8" r="1.78"/><circle cx="555.4" cy="508.8" r="1.78"/><circle cx="501.0" cy="487.5" r="1.78"/><circle cx="503.4" cy="494.6" r="1.78"/><circle cx="509.3" cy="499.4" r="1.78"/><circle cx="512.8" cy="505.3" r="1.78"/><circle cx="527.0" cy="508.8" r="1.78"/><circle cx="534.1" cy="462.7" r="1.78"/><circle cx="523.5" cy="440.2" r="1.78"/><circle cx="545.4" cy="548.3" r="1.78"/><circle cx="520.0" cy="515.0" r="1.78"/><circle cx="530.0" cy="520.0" r="1.78"/><circle cx="555.0" cy="512.0" r="1.78"/><circle cx="515.0" cy="505.0" r="1.78"/><circle cx="502.0" cy="496.3" r="1.78"/><circle cx="513.9" cy="504.2" r="1.78"/><circle cx="516.5" cy="501.5" r="1.78"/><circle cx="520.4" cy="509.4" r="1.78"/><circle cx="528.3" cy="504.2" r="1.78"/><circle cx="530.9" cy="500.2" r="1.78"/><circle cx="538.8" cy="500.2" r="1.78"/><circle cx="546.7" cy="501.5" r="1.78"/><circle cx="540.1" cy="508.1" r="1.78"/><circle cx="555.9" cy="509.4" r="1.78"/><circle cx="528.3" cy="514.7" r="1.78"/><circle cx="520.4" cy="513.4" r="1.78"/><circle cx="524.4" cy="523.9" r="1.78"/><circle cx="527.0" cy="530.4" r="1.78"/><circle cx="537.5" cy="529.1" r="1.78"/><circle cx="542.8" cy="531.7" r="1.78"/><circle cx="494.2" cy="505.5" r="1.78"/><circle cx="506.0" cy="492.3" r="1.78"/><circle cx="499.4" cy="488.4" r="1.78"/><circle cx="515.2" cy="493.6" r="1.78"/></g>
<g fill="#11733d"><circle cx="501.0" cy="433.1" r="1.78"/><circle cx="477.3" cy="448.5" r="1.78"/><circle cx="519.9" cy="468.6" r="1.78"/><circle cx="527.0" cy="471.0" r="1.78"/><circle cx="534.1" cy="463.9" r="1.78"/><circle cx="525.9" cy="449.7" r="1.78"/><circle cx="508.1" cy="480.4" r="1.78"/><circle cx="510.5" cy="484.0" r="1.78"/><circle cx="522.3" cy="478.1" r="1.78"/><circle cx="495.1" cy="475.7" r="1.78"/><circle cx="515.2" cy="489.9" r="1.78"/><circle cx="522.3" cy="488.7" r="1.78"/><circle cx="531.8" cy="493.5" r="1.78"/><circle cx="535.3" cy="498.2" r="1.78"/><circle cx="542.4" cy="497.0" r="1.78"/><circle cx="529.4" cy="504.1" r="1.78"/><circle cx="521.1" cy="512.4" r="1.78"/><circle cx="557.8" cy="508.8" r="1.78"/><circle cx="563.7" cy="509.3" r="1.78"/><circle cx="554.3" cy="478.1" r="1.78"/><circle cx="494.2" cy="532.3" r="1.78"/><circle cx="540.1" cy="547.5" r="1.78"/><circle cx="553.3" cy="543.6" r="1.78"/><circle cx="548.0" cy="554.1" r="1.78"/><circle cx="550.6" cy="560.6" r="1.78"/><circle cx="552.0" cy="561.4" r="1.78"/><circle cx="563.8" cy="580.4" r="1.78"/><circle cx="570.9" cy="584.3" r="1.78"/><circle cx="557.2" cy="525.2" r="1.78"/><circle cx="546.7" cy="526.5" r="1.78"/><circle cx="534.9" cy="526.5" r="1.78"/><circle cx="555.9" cy="509.4" r="1.78"/><circle cx="563.8" cy="509.4" r="1.78"/><circle cx="554.6" cy="477.9" r="1.78"/><circle cx="520.4" cy="516.8" r="1.78"/><circle cx="516.5" cy="516.0" r="1.78"/><circle cx="525.7" cy="525.2" r="1.78"/><circle cx="529.6" cy="502.8" r="1.78"/></g>
<path d="M443.28,377.81 L442.23,378.83 L441.33,380.00 L440.57,381.33 L439.95,382.82 L439.48,384.45 L439.15,386.23 L438.98,388.14 L438.95,390.19 L439.07,392.37 L439.33,394.67 L439.75,397.08 L440.31,399.61 L441.01,402.23 L441.86,404.95 L442.85,407.76 L443.97,410.65 L445.23,413.61 L446.62,416.63 L448.14,419.71 L449.78,422.84 L451.54,426.01 L453.42,429.20 L455.40,432.42 L457.49,435.64 L459.67,438.88 L461.94,442.10 L464.30,445.32 L466.74,448.50 L469.25,451.66 L471.83,454.78 L474.47,457.85 L477.15,460.86 L479.88,463.80 L482.65,466.67 L485.44,469.46 L488.25,472.16 L491.08,474.76 L493.91,477.26 L496.75,479.65 L499.57,481.92 L502.37,484.07 L505.15,486.09 L507.89,487.97 L510.59,489.72 L513.25,491.32 L515.85,492.77 L518.39,494.06 L520.86,495.20 L523.25,496.18 L525.56,497.00 L527.78,497.65 L529.90,498.14 L531.93,498.46 L533.85,498.61 L535.65,498.59 L537.34,498.40 L538.91,498.04 L540.35,497.52 L541.66,496.83 L542.84,495.97 L543.89,494.95 L544.79,493.78 L545.55,492.45 L546.17,490.96 L546.64,489.33 L546.97,487.55 L547.14,485.64 L547.17,483.59 L547.05,481.41 L546.79,479.11 L546.37,476.70 L545.81,474.17 L545.11,471.55 L544.26,468.83 L543.27,466.02 L542.15,463.13 L540.89,460.17 L539.50,457.15 L537.98,454.07 L536.34,450.94 L534.58,447.77 L532.70,444.58 L530.72,441.36 L528.63,438.14 L526.45,434.90 L524.18,431.68 L521.82,428.46 L519.38,425.28 L516.87,422.12 L514.29,419.00 L511.65,415.93 L508.97,412.92 L506.24,409.98 L503.47,407.11 L500.68,404.32 L497.87,401.62 L495.04,399.02 L492.21,396.52 L489.37,394.13 L486.55,391.86 L483.75,389.71 L480.97,387.69 L478.23,385.81 L475.53,384.06 L472.87,382.46 L470.27,381.01 L467.73,379.72 L465.26,378.58 L462.87,377.60 L460.56,376.78 L458.34,376.13 L456.22,375.64 L454.19,375.32 L452.27,375.17 L450.47,375.19 L448.78,375.38 L447.21,375.74 L445.77,376.26 L444.46,376.95Z" fill="none" stroke="#1a1a1a" stroke-width="1.45"/>
<path d="M447.43,397.73 L446.29,398.94 L445.32,400.33 L444.53,401.90 L443.91,403.64 L443.47,405.54 L443.21,407.61 L443.13,409.83 L443.23,412.20 L443.50,414.72 L443.96,417.37 L444.59,420.15 L445.40,423.05 L446.38,426.06 L447.53,429.18 L448.85,432.39 L450.34,435.70 L451.98,439.08 L453.78,442.53 L455.73,446.04 L457.82,449.60 L460.05,453.20 L462.42,456.83 L464.91,460.48 L467.52,464.14 L470.25,467.81 L473.08,471.46 L476.01,475.10 L479.02,478.70 L482.12,482.27 L485.29,485.78 L488.53,489.24 L491.82,492.63 L495.15,495.94 L498.53,499.17 L501.93,502.30 L505.35,505.32 L508.77,508.24 L512.20,511.03 L515.62,513.70 L519.02,516.23 L522.39,518.62 L525.72,520.86 L529.00,522.94 L532.23,524.87 L535.40,526.62 L538.49,528.21 L541.50,529.62 L544.42,530.86 L547.24,531.91 L549.95,532.78 L552.56,533.45 L555.04,533.94 L557.39,534.24 L559.61,534.35 L561.69,534.27 L563.63,533.99 L565.41,533.52 L567.04,532.86 L568.51,532.02 L569.81,530.99 L570.95,529.78 L571.92,528.39 L572.71,526.82 L573.33,525.08 L573.77,523.18 L574.03,521.11 L574.11,518.89 L574.01,516.52 L573.74,514.00 L573.28,511.35 L572.65,508.57 L571.84,505.67 L570.86,502.66 L569.71,499.54 L568.39,496.33 L566.90,493.02 L565.26,489.64 L563.46,486.19 L561.51,482.68 L559.42,479.12 L557.19,475.52 L554.82,471.89 L552.33,468.24 L549.72,464.58 L546.99,460.91 L544.16,457.26 L541.23,453.62 L538.22,450.02 L535.12,446.45 L531.95,442.94 L528.71,439.48 L525.42,436.09 L522.09,432.78 L518.71,429.55 L515.31,426.42 L511.89,423.40 L508.47,420.48 L505.04,417.69 L501.62,415.02 L498.22,412.49 L494.85,410.10 L491.52,407.86 L488.24,405.78 L485.01,403.85 L481.84,402.10 L478.75,400.51 L475.74,399.10 L472.82,397.86 L470.00,396.81 L467.29,395.94 L464.68,395.27 L462.20,394.78 L459.85,394.48 L457.63,394.37 L455.55,394.45 L453.61,394.73 L451.83,395.20 L450.20,395.86 L448.73,396.70Z" fill="none" stroke="#d6462e" stroke-width="1.45"/>
<path d="M439.12,375.85 L437.75,377.10 L436.62,378.69 L435.74,380.60 L435.11,382.84 L434.74,385.40 L434.62,388.26 L434.76,391.43 L435.15,394.90 L435.80,398.64 L436.71,402.67 L437.86,406.95 L439.26,411.49 L440.90,416.26 L442.78,421.27 L444.89,426.48 L447.24,431.89 L449.80,437.49 L452.58,443.25 L455.56,449.16 L458.75,455.21 L462.12,461.38 L465.67,467.65 L469.40,474.01 L473.28,480.43 L477.32,486.91 L481.49,493.41 L485.79,499.94 L490.21,506.45 L494.73,512.95 L499.34,519.41 L504.03,525.81 L508.79,532.13 L513.60,538.37 L518.44,544.49 L523.32,550.49 L528.21,556.35 L533.09,562.05 L537.96,567.57 L542.81,572.91 L547.61,578.05 L552.36,582.96 L557.05,587.65 L561.65,592.09 L566.16,596.27 L570.57,600.19 L574.86,603.83 L579.02,607.18 L583.05,610.24 L586.92,612.99 L590.63,615.42 L594.16,617.53 L597.52,619.32 L600.69,620.78 L603.65,621.91 L606.41,622.69 L608.96,623.14 L611.28,623.24 L613.38,623.01 L615.24,622.43 L616.86,621.51 L618.23,620.26 L619.36,618.67 L620.24,616.76 L620.87,614.52 L621.24,611.96 L621.36,609.10 L621.22,605.93 L620.83,602.46 L620.18,598.72 L619.27,594.69 L618.12,590.41 L616.72,585.87 L615.08,581.10 L613.20,576.09 L611.09,570.88 L608.74,565.47 L606.18,559.87 L603.40,554.11 L600.42,548.20 L597.23,542.15 L593.86,535.98 L590.31,529.71 L586.58,523.35 L582.70,516.93 L578.66,510.45 L574.49,503.95 L570.19,497.42 L565.77,490.91 L561.25,484.41 L556.64,477.95 L551.95,471.55 L547.19,465.23 L542.38,458.99 L537.54,452.87 L532.66,446.87 L527.77,441.01 L522.89,435.31 L518.02,429.79 L513.17,424.45 L508.37,419.31 L503.62,414.40 L498.93,409.71 L494.33,405.27 L489.82,401.09 L485.41,397.17 L481.12,393.53 L476.96,390.18 L472.93,387.12 L469.06,384.37 L465.35,381.94 L461.82,379.83 L458.46,378.04 L455.29,376.58 L452.33,375.45 L449.57,374.67 L447.02,374.22 L444.70,374.12 L442.60,374.35 L440.74,374.93Z" fill="none" stroke="#1d8a46" stroke-width="1.45"/>
</g>
<rect x="399" y="350.1" width="268.5" height="282.3" fill="none" stroke="#787878" stroke-width="1.9"/>
<line x1="52.0" y1="291" x2="52.0" y2="287.4" stroke="#585858" stroke-width="1.6"/>
<line x1="52.0" y1="8.5" x2="52.0" y2="12.1" stroke="#585858" stroke-width="1.6"/>
<line x1="141.7" y1="291" x2="141.7" y2="287.4" stroke="#585858" stroke-width="1.6"/>
<line x1="141.7" y1="8.5" x2="141.7" y2="12.1" stroke="#585858" stroke-width="1.6"/>
<line x1="231.3" y1="291" x2="231.3" y2="287.4" stroke="#585858" stroke-width="1.6"/>
<line x1="231.3" y1="8.5" x2="231.3" y2="12.1" stroke="#585858" stroke-width="1.6"/>
<line x1="321.0" y1="291" x2="321.0" y2="287.4" stroke="#585858" stroke-width="1.6"/>
<line x1="321.0" y1="8.5" x2="321.0" y2="12.1" stroke="#585858" stroke-width="1.6"/>
<line x1="52" y1="291.0" x2="55.6" y2="291.0" stroke="#585858" stroke-width="1.6"/>
<line x1="321" y1="291.0" x2="317.4" y2="291.0" stroke="#585858" stroke-width="1.6"/>
<line x1="52" y1="196.8" x2="55.6" y2="196.8" stroke="#585858" stroke-width="1.6"/>
<line x1="321" y1="196.8" x2="317.4" y2="196.8" stroke="#585858" stroke-width="1.6"/>
<line x1="52" y1="102.7" x2="55.6" y2="102.7" stroke="#585858" stroke-width="1.6"/>
<line x1="321" y1="102.7" x2="317.4" y2="102.7" stroke="#585858" stroke-width="1.6"/>
<line x1="52" y1="8.5" x2="55.6" y2="8.5" stroke="#585858" stroke-width="1.6"/>
<line x1="321" y1="8.5" x2="317.4" y2="8.5" stroke="#585858" stroke-width="1.6"/>
<line x1="399.5" y1="291" x2="399.5" y2="287.4" stroke="#585858" stroke-width="1.6"/>
<line x1="399.5" y1="8.5" x2="399.5" y2="12.1" stroke="#585858" stroke-width="1.6"/>
<line x1="489.3" y1="291" x2="489.3" y2="287.4" stroke="#585858" stroke-width="1.6"/>
<line x1="489.3" y1="8.5" x2="489.3" y2="12.1" stroke="#585858" stroke-width="1.6"/>
<line x1="579.2" y1="291" x2="579.2" y2="287.4" stroke="#585858" stroke-width="1.6"/>
<line x1="579.2" y1="8.5" x2="579.2" y2="12.1" stroke="#585858" stroke-width="1.6"/>
<line x1="669.0" y1="291" x2="669.0" y2="287.4" stroke="#585858" stroke-width="1.6"/>
<line x1="669.0" y1="8.5" x2="669.0" y2="12.1" stroke="#585858" stroke-width="1.6"/>
<line x1="399.5" y1="291.0" x2="403.1" y2="291.0" stroke="#585858" stroke-width="1.6"/>
<line x1="669" y1="291.0" x2="665.4" y2="291.0" stroke="#585858" stroke-width="1.6"/>
<line x1="399.5" y1="196.8" x2="403.1" y2="196.8" stroke="#585858" stroke-width="1.6"/>
<line x1="669" y1="196.8" x2="665.4" y2="196.8" stroke="#585858" stroke-width="1.6"/>
<line x1="399.5" y1="102.7" x2="403.1" y2="102.7" stroke="#585858" stroke-width="1.6"/>
<line x1="669" y1="102.7" x2="665.4" y2="102.7" stroke="#585858" stroke-width="1.6"/>
<line x1="399.5" y1="8.5" x2="403.1" y2="8.5" stroke="#585858" stroke-width="1.6"/>
<line x1="669" y1="8.5" x2="665.4" y2="8.5" stroke="#585858" stroke-width="1.6"/>
<line x1="52.0" y1="633.1" x2="52.0" y2="629.5" stroke="#585858" stroke-width="1.6"/>
<line x1="52.0" y1="350.8" x2="52.0" y2="354.40000000000003" stroke="#585858" stroke-width="1.6"/>
<line x1="105.7" y1="633.1" x2="105.7" y2="629.5" stroke="#585858" stroke-width="1.6"/>
<line x1="105.7" y1="350.8" x2="105.7" y2="354.40000000000003" stroke="#585858" stroke-width="1.6"/>
<line x1="159.4" y1="633.1" x2="159.4" y2="629.5" stroke="#585858" stroke-width="1.6"/>
<line x1="159.4" y1="350.8" x2="159.4" y2="354.40000000000003" stroke="#585858" stroke-width="1.6"/>
<line x1="213.2" y1="633.1" x2="213.2" y2="629.5" stroke="#585858" stroke-width="1.6"/>
<line x1="213.2" y1="350.8" x2="213.2" y2="354.40000000000003" stroke="#585858" stroke-width="1.6"/>
<line x1="266.9" y1="633.1" x2="266.9" y2="629.5" stroke="#585858" stroke-width="1.6"/>
<line x1="266.9" y1="350.8" x2="266.9" y2="354.40000000000003" stroke="#585858" stroke-width="1.6"/>
<line x1="320.6" y1="633.1" x2="320.6" y2="629.5" stroke="#585858" stroke-width="1.6"/>
<line x1="320.6" y1="350.8" x2="320.6" y2="354.40000000000003" stroke="#585858" stroke-width="1.6"/>
<line x1="52" y1="633.1" x2="55.6" y2="633.1" stroke="#585858" stroke-width="1.6"/>
<line x1="320.6" y1="633.1" x2="317.0" y2="633.1" stroke="#585858" stroke-width="1.6"/>
<line x1="52" y1="576.6" x2="55.6" y2="576.6" stroke="#585858" stroke-width="1.6"/>
<line x1="320.6" y1="576.6" x2="317.0" y2="576.6" stroke="#585858" stroke-width="1.6"/>
<line x1="52" y1="520.2" x2="55.6" y2="520.2" stroke="#585858" stroke-width="1.6"/>
<line x1="320.6" y1="520.2" x2="317.0" y2="520.2" stroke="#585858" stroke-width="1.6"/>
<line x1="52" y1="463.7" x2="55.6" y2="463.7" stroke="#585858" stroke-width="1.6"/>
<line x1="320.6" y1="463.7" x2="317.0" y2="463.7" stroke="#585858" stroke-width="1.6"/>
<line x1="52" y1="407.3" x2="55.6" y2="407.3" stroke="#585858" stroke-width="1.6"/>
<line x1="320.6" y1="407.3" x2="317.0" y2="407.3" stroke="#585858" stroke-width="1.6"/>
<line x1="52" y1="350.8" x2="55.6" y2="350.8" stroke="#585858" stroke-width="1.6"/>
<line x1="320.6" y1="350.8" x2="317.0" y2="350.8" stroke="#585858" stroke-width="1.6"/>
<line x1="399.0" y1="632.4" x2="399.0" y2="628.8" stroke="#585858" stroke-width="1.6"/>
<line x1="399.0" y1="350.1" x2="399.0" y2="353.70000000000005" stroke="#585858" stroke-width="1.6"/>
<line x1="452.7" y1="632.4" x2="452.7" y2="628.8" stroke="#585858" stroke-width="1.6"/>
<line x1="452.7" y1="350.1" x2="452.7" y2="353.70000000000005" stroke="#585858" stroke-width="1.6"/>
<line x1="506.4" y1="632.4" x2="506.4" y2="628.8" stroke="#585858" stroke-width="1.6"/>
<line x1="506.4" y1="350.1" x2="506.4" y2="353.70000000000005" stroke="#585858" stroke-width="1.6"/>
<line x1="560.1" y1="632.4" x2="560.1" y2="628.8" stroke="#585858" stroke-width="1.6"/>
<line x1="560.1" y1="350.1" x2="560.1" y2="353.70000000000005" stroke="#585858" stroke-width="1.6"/>
<line x1="613.8" y1="632.4" x2="613.8" y2="628.8" stroke="#585858" stroke-width="1.6"/>
<line x1="613.8" y1="350.1" x2="613.8" y2="353.70000000000005" stroke="#585858" stroke-width="1.6"/>
<line x1="667.5" y1="632.4" x2="667.5" y2="628.8" stroke="#585858" stroke-width="1.6"/>
<line x1="667.5" y1="350.1" x2="667.5" y2="353.70000000000005" stroke="#585858" stroke-width="1.6"/>
<line x1="399" y1="361.4" x2="402.6" y2="361.4" stroke="#585858" stroke-width="1.6"/>
<line x1="667.5" y1="361.4" x2="663.9" y2="361.4" stroke="#585858" stroke-width="1.6"/>
<line x1="399" y1="417.9" x2="402.6" y2="417.9" stroke="#585858" stroke-width="1.6"/>
<line x1="667.5" y1="417.9" x2="663.9" y2="417.9" stroke="#585858" stroke-width="1.6"/>
<line x1="399" y1="474.3" x2="402.6" y2="474.3" stroke="#585858" stroke-width="1.6"/>
<line x1="667.5" y1="474.3" x2="663.9" y2="474.3" stroke="#585858" stroke-width="1.6"/>
<line x1="399" y1="530.8" x2="402.6" y2="530.8" stroke="#585858" stroke-width="1.6"/>
<line x1="667.5" y1="530.8" x2="663.9" y2="530.8" stroke="#585858" stroke-width="1.6"/>
<line x1="399" y1="587.2" x2="402.6" y2="587.2" stroke="#585858" stroke-width="1.6"/>
<line x1="667.5" y1="587.2" x2="663.9" y2="587.2" stroke="#585858" stroke-width="1.6"/>
<text x="0.0" y="15.7" font-size="21" fill="#1a1a1a">(</text>
<text x="16.5" y="15.7" font-size="21" fill="#1a1a1a">)</text>
<text x="6.7" y="16.3" font-size="19" fill="#1a1a1a">a</text>
<text x="46.5" y="14.6" font-size="17" text-anchor="end" fill="#1a1a1a" >1.5</text>
<text x="48.0" y="108.8" font-size="17" text-anchor="end" fill="#1a1a1a" >1.0</text>
<text x="47.5" y="203.1" font-size="17" text-anchor="end" fill="#1a1a1a" >0.5</text>
<text x="47.0" y="297.9" font-size="17" text-anchor="end" fill="#1a1a1a" >0</text>
<text x="52.0" y="310.2" font-size="17" text-anchor="middle" fill="#1a1a1a" >&#8722;5.0</text>
<text x="141.7" y="310.2" font-size="17" text-anchor="middle" fill="#1a1a1a" >&#8722;4.5</text>
<text x="231.3" y="310.2" font-size="17" text-anchor="middle" fill="#1a1a1a" >&#8722;4.0</text>
<text x="321.0" y="310.2" font-size="17" text-anchor="middle" fill="#1a1a1a" >&#8722;3.5</text>
<text x="194.3" y="327.8" font-size="19.7" text-anchor="middle" fill="#1a1a1a" >Shift (&#197;)</text>
<text transform="translate(22.8,148) rotate(-90)" font-size="19" text-anchor="middle" fill="#1a1a1a">Slide (&#197;)</text>
<rect x="234.5" y="221.2" width="9.3" height="6" fill="#000"/>
<text x="247.7" y="230.2" font-size="15.5" fill="#1a1a1a">GP<tspan font-size="11.2" dy="4.5">2</tspan><tspan dy="-4.5">-GP</tspan><tspan font-size="11.2" dy="4.5">2</tspan></text>
<rect x="234.5" y="245.6" width="9.3" height="6" fill="#ee1c1c"/>
<text x="247.7" y="254.6" font-size="15.5" fill="#1a1a1a">GP<tspan font-size="11.2" dy="4.5">x</tspan><tspan dy="-4.5">-GP</tspan><tspan font-size="11.2" dy="4.5">y</tspan></text>
<rect x="234.5" y="272.9" width="9.3" height="6" fill="#0fa648"/>
<text x="247.7" y="281.9" font-size="15.5" fill="#1a1a1a">GP<tspan font-size="11.2" dy="4.5">0</tspan><tspan dy="-4.5">-GP</tspan><tspan font-size="11.2" dy="4.5">0</tspan></text>
<ellipse cx="22.6" cy="196.8" rx="1.1" ry="2.6" fill="#777"/>
<text x="345.7" y="16.8" font-size="21" fill="#1a1a1a">(</text>
<text x="364.6" y="16.8" font-size="21" fill="#1a1a1a">)</text>
<text x="352.3" y="17.4" font-size="19" fill="#1a1a1a">b</text>
<text x="398.7" y="14.4" font-size="17" text-anchor="end" fill="#1a1a1a" >4.0</text>
<text x="394.5" y="108.9" font-size="17" text-anchor="end" fill="#1a1a1a" >3.5</text>
<text x="394.5" y="202.8" font-size="17" text-anchor="end" fill="#1a1a1a" >3.0</text>
<text x="397.8" y="296.9" font-size="17" text-anchor="end" fill="#1a1a1a" >2.5</text>
<text x="399.5" y="310.2" font-size="17" text-anchor="middle" fill="#1a1a1a" >&#8722;5.0</text>
<text x="489.3" y="310.2" font-size="17" text-anchor="middle" fill="#1a1a1a" >&#8722;4.5</text>
<text x="579.2" y="310.2" font-size="17" text-anchor="middle" fill="#1a1a1a" >&#8722;4.0</text>
<text x="667.0" y="310.2" font-size="17" text-anchor="middle" fill="#1a1a1a" >&#8722;3.5</text>
<text x="541.0" y="327.3" font-size="19.7" text-anchor="middle" fill="#1a1a1a" >Shift (&#197;)</text>
<text transform="translate(369.4,143.6) rotate(-90)" font-size="18.3" text-anchor="middle" fill="#1a1a1a">Rise (&#197;)</text>
<rect x="579.1" y="214.6" width="9.3" height="6" fill="#000"/>
<text x="592.3" y="223.6" font-size="15.5" fill="#1a1a1a">GP<tspan font-size="11.2" dy="4.5">2</tspan><tspan dy="-4.5">-GP</tspan><tspan font-size="11.2" dy="4.5">2</tspan></text>
<rect x="579.1" y="238.9" width="9.3" height="6" fill="#ee1c1c"/>
<text x="592.3" y="247.9" font-size="15.5" fill="#1a1a1a">GP<tspan font-size="11.2" dy="4.5">x</tspan><tspan dy="-4.5">-GP</tspan><tspan font-size="11.2" dy="4.5">y</tspan></text>
<rect x="579.1" y="265.5" width="9.3" height="6" fill="#0fa648"/>
<text x="592.3" y="274.5" font-size="15.5" fill="#1a1a1a">GP<tspan font-size="11.2" dy="4.5">0</tspan><tspan dy="-4.5">-GP</tspan><tspan font-size="11.2" dy="4.5">0</tspan></text>
<text x="0.5" y="363.8" font-size="21" fill="#1a1a1a">(</text>
<text x="16.5" y="363.8" font-size="21" fill="#1a1a1a">)</text>
<text x="7.7" y="365.0" font-size="19" fill="#1a1a1a">c</text>
<text x="46.4" y="356.9" font-size="17" text-anchor="end" fill="#1a1a1a" >20</text>
<text x="46.4" y="413.4" font-size="17" text-anchor="end" fill="#1a1a1a" >15</text>
<text x="46.4" y="469.8" font-size="17" text-anchor="end" fill="#1a1a1a" >10</text>
<text x="46.4" y="526.3" font-size="17" text-anchor="end" fill="#1a1a1a" >5</text>
<text x="46.4" y="582.7" font-size="17" text-anchor="end" fill="#1a1a1a" >0</text>
<text x="46.4" y="639.2" font-size="17" text-anchor="end" fill="#1a1a1a" >&#8722;5</text>
<text x="51.0" y="653.6" font-size="17" text-anchor="middle" fill="#1a1a1a" >&#8722;20</text>
<text x="104.6" y="653.6" font-size="17" text-anchor="middle" fill="#1a1a1a" >&#8722;15</text>
<text x="158.6" y="653.6" font-size="17" text-anchor="middle" fill="#1a1a1a" >&#8722;10</text>
<text x="211.1" y="653.6" font-size="17" text-anchor="middle" fill="#1a1a1a" >&#8722;5</text>
<text x="265.7" y="653.6" font-size="17" text-anchor="middle" fill="#1a1a1a" >0</text>
<text x="316.9" y="653.6" font-size="17" text-anchor="middle" fill="#1a1a1a" >5</text>
<text x="187.1" y="670.7" font-size="19.7" text-anchor="middle" fill="#1a1a1a" >Tilt (&#176;)</text>
<text transform="translate(23.7,476) rotate(-90)" font-size="19" text-anchor="middle" fill="#1a1a1a">Roll (&#176;)</text>
<rect x="236.8" y="362.1" width="9.3" height="6" fill="#000"/>
<text x="250.4" y="371.1" font-size="15.5" fill="#1a1a1a">GP<tspan font-size="11.2" dy="4.5">2</tspan><tspan dy="-4.5">-GP</tspan><tspan font-size="11.2" dy="4.5">2</tspan></text>
<rect x="236.8" y="386.0" width="9.3" height="6" fill="#ee1c1c"/>
<text x="250.4" y="395.0" font-size="15.5" fill="#1a1a1a">GP<tspan font-size="11.2" dy="4.5">x</tspan><tspan dy="-4.5">-GP</tspan><tspan font-size="11.2" dy="4.5">y</tspan></text>
<rect x="236.8" y="412.8" width="9.3" height="6" fill="#0fa648"/>
<text x="250.4" y="421.8" font-size="15.5" fill="#1a1a1a">GP<tspan font-size="11.2" dy="4.5">0</tspan><tspan dy="-4.5">-GP</tspan><tspan font-size="11.2" dy="4.5">0</tspan></text>
<text x="340.7" y="365.3" font-size="21" fill="#1a1a1a">(</text>
<text x="358.1" y="365.3" font-size="21" fill="#1a1a1a">)</text>
<text x="347.8" y="367.6" font-size="19" fill="#1a1a1a">d</text>
<text x="394.2" y="367.5" font-size="17" text-anchor="end" fill="#1a1a1a" >&#8722;95</text>
<text x="394.2" y="424.0" font-size="17" text-anchor="end" fill="#1a1a1a" >&#8722;100</text>
<text x="394.2" y="480.4" font-size="17" text-anchor="end" fill="#1a1a1a" >&#8722;105</text>
<text x="394.2" y="536.9" font-size="17" text-anchor="end" fill="#1a1a1a" >&#8722;110</text>
<text x="394.2" y="593.3" font-size="17" text-anchor="end" fill="#1a1a1a" >&#8722;115</text>
<text x="395.0" y="639.5" font-size="17" text-anchor="end" fill="#1a1a1a" >&#8722;120</text>
<text x="393.8" y="652.3" font-size="17" text-anchor="middle" fill="#1a1a1a" >&#8722;20</text>
<text x="448.7" y="652.3" font-size="17" text-anchor="middle" fill="#1a1a1a" >&#8722;15</text>
<text x="500.4" y="652.3" font-size="17" text-anchor="middle" fill="#1a1a1a" >&#8722;10</text>
<text x="554.8" y="652.3" font-size="17" text-anchor="middle" fill="#1a1a1a" >&#8722;5</text>
<text x="614.4" y="652.3" font-size="17" text-anchor="middle" fill="#1a1a1a" >0</text>
<text x="661.2" y="652.3" font-size="17" text-anchor="middle" fill="#1a1a1a" >5</text>
<text x="536.7" y="667.0" font-size="19.7" text-anchor="middle" fill="#1a1a1a" >Tilt (&#176;)</text>
<text transform="translate(353.2,482.6) rotate(-90)" font-size="19.4" text-anchor="middle" fill="#1a1a1a">Twist (&#176;)</text>
<rect x="586.1" y="359.4" width="9.3" height="6" fill="#000"/>
<text x="599.3" y="368.4" font-size="15.5" fill="#1a1a1a">GP<tspan font-size="11.2" dy="4.5">2</tspan><tspan dy="-4.5">-GP</tspan><tspan font-size="11.2" dy="4.5">2</tspan></text>
<rect x="586.1" y="383.8" width="9.3" height="6" fill="#ee1c1c"/>
<text x="599.3" y="392.8" font-size="15.5" fill="#1a1a1a">GP<tspan font-size="11.2" dy="4.5">x</tspan><tspan dy="-4.5">-GP</tspan><tspan font-size="11.2" dy="4.5">y</tspan></text>
<rect x="586.1" y="410.3" width="9.3" height="6" fill="#0fa648"/>
<text x="599.3" y="419.3" font-size="15.5" fill="#1a1a1a">GP<tspan font-size="11.2" dy="4.5">0</tspan><tspan dy="-4.5">-GP</tspan><tspan font-size="11.2" dy="4.5">0</tspan></text>
</svg></body></html>
